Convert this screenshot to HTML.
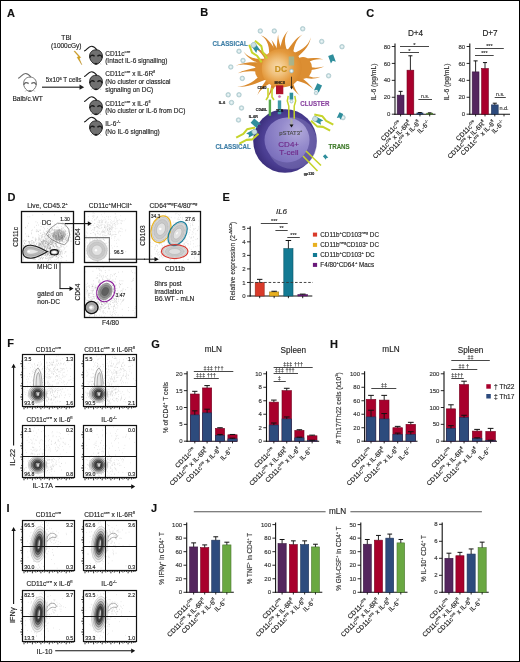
<!DOCTYPE html>
<html><head><meta charset="utf-8"><style>
html,body{margin:0;padding:0;background:#fff;}
body{width:520px;height:662px;overflow:hidden;}
svg{display:block;font-family:"Liberation Sans", sans-serif;filter:grayscale(0.001);}
</style></head><body>
<svg width="520" height="662" viewBox="0 0 520 662">
<rect x="0" y="0" width="520" height="662" fill="#fff"/>
<text x="7.0" y="17.2" font-size="11" text-anchor="start" font-weight="bold" font-style="normal" fill="#111" stroke="#111" stroke-width="0.14">A</text>
<text x="66.5" y="40.0" font-size="6.6" text-anchor="middle" font-weight="normal" font-style="normal" fill="#222" stroke="#222" stroke-width="0.14">TBI</text>
<text x="66.3" y="47.6" font-size="6.5" text-anchor="middle" font-weight="normal" font-style="normal" fill="#222" stroke="#222" stroke-width="0.14">(1000cGy)</text>
<polygon points="74,51.3 78.6,56.4 77.1,57.3 81.8,64.8 79.3,58.4 80.7,57.4 74.9,51.0" fill="#d8a418" stroke="#a87a10" stroke-width="0.35" stroke-linejoin="round"/>
<g transform="translate(16 71.3) scale(1.0)"><path d="M2,7 C4.5,7 6,2.2 9.5,2.2 C12,2.2 13.5,3.8 15,6" fill="none" stroke="#6a6a6a" stroke-width="1.1"/><path d="M10.5,18.6 L9,20.5 M17.5,18.6 L19,20.5" stroke="#c8c8c8" stroke-width="0.8"/><path d="M14,5.8 C18.2,5.8 20.4,8.8 20.4,12.2 C20.4,15.5 18.6,17.6 17,19 C16,19.8 15,20.1 14,20.1 C13,20.1 12,19.8 11,19 C9.4,17.6 7.6,15.5 7.6,12.2 C7.6,8.8 9.8,5.8 14,5.8 Z" fill="#ffffff" stroke="#6a6a6a" stroke-width="0.9"/><path d="M7.8,13.6 C8.2,11.2 10.6,10.6 12.6,12.3 M20.2,13.6 C19.8,11.2 17.4,10.6 15.4,12.3" fill="none" stroke="#6a6a6a" stroke-width="1.4"/><path d="M12.6,19.3 Q14,20.6 15.4,19.3" stroke="#6a6a6a" stroke-width="1.3" fill="none"/></g>
<text x="27.6" y="101.2" font-size="6.6" text-anchor="middle" font-weight="normal" font-style="normal" fill="#222" stroke="#222" stroke-width="0.14">Balb/c.WT</text>
<text x="45.8" y="82.4" font-size="6.3" text-anchor="start" font-weight="normal" font-style="normal" fill="#222" stroke="#222" stroke-width="0.14">5x10<tspan dy="-2.83" font-size="4.03">6</tspan><tspan dy="2.83" font-size="6.3">&#8203;</tspan> T cells</text>
<line x1="42.00" y1="87.20" x2="80.50" y2="87.20" stroke="#555" stroke-width="1.6" />
<polygon points="79.5,84.6 84.2,87.2 79.5,89.8" fill="#222"/>
<g transform="translate(82 44) scale(1.0)"><path d="M2,7 C4.5,7 6,2.2 9.5,2.2 C12,2.2 13.5,3.8 15,6" fill="none" stroke="#1a1a1a" stroke-width="1.1"/><path d="M10.5,18.6 L9,20.5 M17.5,18.6 L19,20.5" stroke="#c8c8c8" stroke-width="0.8"/><path d="M14,5.8 C18.2,5.8 20.4,8.8 20.4,12.2 C20.4,15.5 18.6,17.6 17,19 C16,19.8 15,20.1 14,20.1 C13,20.1 12,19.8 11,19 C9.4,17.6 7.6,15.5 7.6,12.2 C7.6,8.8 9.8,5.8 14,5.8 Z" fill="#707070" stroke="#1a1a1a" stroke-width="0.9"/><path d="M7.8,13.6 C8.2,11.2 10.6,10.6 12.6,12.3 M20.2,13.6 C19.8,11.2 17.4,10.6 15.4,12.3" fill="none" stroke="#1a1a1a" stroke-width="1.4"/><path d="M12.6,19.3 Q14,20.6 15.4,19.3" stroke="#1a1a1a" stroke-width="1.3" fill="none"/></g>
<g transform="translate(82 69.5) scale(1.0)"><path d="M2,7 C4.5,7 6,2.2 9.5,2.2 C12,2.2 13.5,3.8 15,6" fill="none" stroke="#1a1a1a" stroke-width="1.1"/><path d="M10.5,18.6 L9,20.5 M17.5,18.6 L19,20.5" stroke="#c8c8c8" stroke-width="0.8"/><path d="M14,5.8 C18.2,5.8 20.4,8.8 20.4,12.2 C20.4,15.5 18.6,17.6 17,19 C16,19.8 15,20.1 14,20.1 C13,20.1 12,19.8 11,19 C9.4,17.6 7.6,15.5 7.6,12.2 C7.6,8.8 9.8,5.8 14,5.8 Z" fill="#707070" stroke="#1a1a1a" stroke-width="0.9"/><path d="M7.8,13.6 C8.2,11.2 10.6,10.6 12.6,12.3 M20.2,13.6 C19.8,11.2 17.4,10.6 15.4,12.3" fill="none" stroke="#1a1a1a" stroke-width="1.4"/><path d="M12.6,19.3 Q14,20.6 15.4,19.3" stroke="#1a1a1a" stroke-width="1.3" fill="none"/></g>
<g transform="translate(82 94.5) scale(1.0)"><path d="M2,7 C4.5,7 6,2.2 9.5,2.2 C12,2.2 13.5,3.8 15,6" fill="none" stroke="#1a1a1a" stroke-width="1.1"/><path d="M10.5,18.6 L9,20.5 M17.5,18.6 L19,20.5" stroke="#c8c8c8" stroke-width="0.8"/><path d="M14,5.8 C18.2,5.8 20.4,8.8 20.4,12.2 C20.4,15.5 18.6,17.6 17,19 C16,19.8 15,20.1 14,20.1 C13,20.1 12,19.8 11,19 C9.4,17.6 7.6,15.5 7.6,12.2 C7.6,8.8 9.8,5.8 14,5.8 Z" fill="#707070" stroke="#1a1a1a" stroke-width="0.9"/><path d="M7.8,13.6 C8.2,11.2 10.6,10.6 12.6,12.3 M20.2,13.6 C19.8,11.2 17.4,10.6 15.4,12.3" fill="none" stroke="#1a1a1a" stroke-width="1.4"/><path d="M12.6,19.3 Q14,20.6 15.4,19.3" stroke="#1a1a1a" stroke-width="1.3" fill="none"/></g>
<g transform="translate(82 115) scale(1.0)"><path d="M2,7 C4.5,7 6,2.2 9.5,2.2 C12,2.2 13.5,3.8 15,6" fill="none" stroke="#1a1a1a" stroke-width="1.1"/><path d="M10.5,18.6 L9,20.5 M17.5,18.6 L19,20.5" stroke="#c8c8c8" stroke-width="0.8"/><path d="M14,5.8 C18.2,5.8 20.4,8.8 20.4,12.2 C20.4,15.5 18.6,17.6 17,19 C16,19.8 15,20.1 14,20.1 C13,20.1 12,19.8 11,19 C9.4,17.6 7.6,15.5 7.6,12.2 C7.6,8.8 9.8,5.8 14,5.8 Z" fill="#707070" stroke="#1a1a1a" stroke-width="0.9"/><path d="M7.8,13.6 C8.2,11.2 10.6,10.6 12.6,12.3 M20.2,13.6 C19.8,11.2 17.4,10.6 15.4,12.3" fill="none" stroke="#1a1a1a" stroke-width="1.4"/><path d="M12.6,19.3 Q14,20.6 15.4,19.3" stroke="#1a1a1a" stroke-width="1.3" fill="none"/></g>
<text x="105.2" y="55.7" font-size="6.5" text-anchor="start" font-weight="normal" font-style="normal" fill="#222" stroke="#222" stroke-width="0.14">CD11c<tspan dy="-2.93" font-size="4.16">cre</tspan><tspan dy="2.93" font-size="6.5">&#8203;</tspan></text>
<text x="105.2" y="62.9" font-size="6.5" text-anchor="start" font-weight="normal" font-style="normal" fill="#222" stroke="#222" stroke-width="0.14">(Intact IL-6 signalling)</text>
<text x="105.2" y="76.1" font-size="6.5" text-anchor="start" font-weight="normal" font-style="normal" fill="#222" stroke="#222" stroke-width="0.14">CD11c<tspan dy="-2.93" font-size="4.16">cre</tspan><tspan dy="2.93" font-size="6.5">&#8203;</tspan> x IL-6R<tspan dy="-2.93" font-size="4.16">fl</tspan><tspan dy="2.93" font-size="6.5">&#8203;</tspan></text>
<text x="105.2" y="83.9" font-size="6.5" text-anchor="start" font-weight="normal" font-style="normal" fill="#222" stroke="#222" stroke-width="0.14">(No cluster or classical</text>
<text x="105.2" y="91.7" font-size="6.5" text-anchor="start" font-weight="normal" font-style="normal" fill="#222" stroke="#222" stroke-width="0.14">signaling on DC)</text>
<text x="105.2" y="105.5" font-size="6.5" text-anchor="start" font-weight="normal" font-style="normal" fill="#222" stroke="#222" stroke-width="0.14">CD11c<tspan dy="-2.93" font-size="4.16">cre</tspan><tspan dy="2.93" font-size="6.5">&#8203;</tspan> x IL-6<tspan dy="-2.93" font-size="4.16">fl</tspan><tspan dy="2.93" font-size="6.5">&#8203;</tspan></text>
<text x="105.2" y="112.9" font-size="6.5" text-anchor="start" font-weight="normal" font-style="normal" fill="#222" stroke="#222" stroke-width="0.14">(No cluster or IL-6 from DC)</text>
<text x="105.2" y="126.4" font-size="6.5" text-anchor="start" font-weight="normal" font-style="normal" fill="#222" stroke="#222" stroke-width="0.14">IL-6<tspan dy="-2.93" font-size="4.16">-/-</tspan><tspan dy="2.93" font-size="6.5">&#8203;</tspan></text>
<text x="105.2" y="134.0" font-size="6.5" text-anchor="start" font-weight="normal" font-style="normal" fill="#222" stroke="#222" stroke-width="0.14">(No IL-6 signalling)</text>
<text x="200.3" y="16.4" font-size="11" text-anchor="start" font-weight="bold" font-style="normal" fill="#111" stroke="#111" stroke-width="0.14">B</text>
<defs>
<radialGradient id="dcg" cx="0.4" cy="0.48" r="0.6"><stop offset="0" stop-color="#f8dcb0"/><stop offset="0.35" stop-color="#f0c07a"/><stop offset="0.7" stop-color="#e49a3e"/><stop offset="1" stop-color="#d98a2e"/></radialGradient>
<radialGradient id="tcg" cx="0.55" cy="0.5" r="0.55"><stop offset="0" stop-color="#6a5eb0"/><stop offset="0.75" stop-color="#4b3e92"/><stop offset="1" stop-color="#3a2d7a"/></radialGradient>
<radialGradient id="tng" cx="0.72" cy="0.3" r="0.9"><stop offset="0" stop-color="#b4acdc"/><stop offset="0.4" stop-color="#958bcc"/><stop offset="1" stop-color="#7468b8"/></radialGradient>
</defs>
<ellipse cx="285" cy="141" rx="31.8" ry="31.8" fill="url(#tcg)"/>
<ellipse cx="292" cy="143" rx="25" ry="26" fill="#8e88c0" opacity="0.4"/>
<circle cx="287" cy="140" r="22.5" fill="url(#tng)"/>
<path d="M266.3,62.2 C255.5,62.4 244.9,60.9 235.5,65.8 C244.8,62.5 255.4,65.6 265.8,72.4 Z" fill="#d98a2e"/>
<path d="M269.1,57.9 C258.3,59.9 248.8,58.8 243.5,51.5 C248.3,60.0 257.1,62.4 265.5,66.1 Z" fill="#d98a2e"/>
<path d="M265.6,65.7 C255.8,68.1 245.9,68.8 237.8,73.3 C246.0,70.1 256.2,70.6 266.6,74.0 Z" fill="#d98a2e"/>
<path d="M265.3,69.4 C257.3,79.6 247.8,86.6 237.2,86.6 C248.4,88.0 258.4,82.4 269.1,78.3 Z" fill="#d98a2e"/>
<path d="M268.3,76.8 C264.5,83.3 259.5,88.7 257.4,95.2 C260.4,89.5 266.3,84.8 274.1,81.8 Z" fill="#d98a2e"/>
<path d="M277.2,52.7 C272.5,46.0 269.1,38.3 260.8,35.2 C267.9,39.1 269.9,47.5 269.0,57.7 Z" fill="#d98a2e"/>
<path d="M279.7,52.6 C276.3,48.2 274.6,43.3 271.2,39.8 C273.5,43.7 274.1,49.0 272.4,55.1 Z" fill="#d98a2e"/>
<path d="M283.8,52.7 C279.9,46.5 278.3,40.2 278.1,34.6 C277.0,40.3 277.3,46.8 275.6,53.4 Z" fill="#d98a2e"/>
<path d="M288.7,54.2 C284.3,45.1 283.3,36.6 288.5,30.6 C281.9,36.4 281.3,44.5 279.2,52.3 Z" fill="#d98a2e"/>
<path d="M292.9,57.8 C293.1,47.6 295.9,39.1 302.5,34.4 C294.7,38.3 290.7,46.1 285.3,53.0 Z" fill="#d98a2e"/>
<path d="M294.2,59.9 C301.5,53.4 309.4,47.6 310.8,37.3 C308.6,46.7 299.8,51.7 288.7,54.6 Z" fill="#d98a2e"/>
<path d="M296.7,69.8 C305.2,62.1 314.3,57.8 323.3,59.5 C314.0,56.3 304.6,59.2 294.8,60.3 Z" fill="#d98a2e"/>
<path d="M296.1,72.0 C306.0,70.2 315.9,70.3 324.2,66.5 C315.8,68.9 305.9,67.4 295.8,63.0 Z" fill="#d98a2e"/>
<path d="M294.7,75.6 C303.3,77.5 311.7,80.8 320.4,76.8 C312.0,79.4 303.9,74.8 296.6,66.9 Z" fill="#d98a2e"/>
<path d="M291.2,79.7 C300.6,80.8 308.5,84.1 313.5,89.5 C309.2,83.0 302.0,78.6 295.8,72.8 Z" fill="#d98a2e"/>
<path d="M286.9,82.1 C291.6,87.0 295.2,92.7 300.5,96.0 C296.1,92.1 293.3,85.9 292.2,78.5 Z" fill="#d98a2e"/>
<path d="M271.5,80.0 C271.6,87.5 269.8,94.0 266.0,98.5 C270.7,94.4 273.4,88.4 277.3,82.9 Z" fill="#d98a2e"/>
<path d="M270.2,57.1 C263.7,52.1 257.7,46.5 249.0,47.0 C257.1,47.4 262.6,53.8 266.7,62.4 Z" fill="#d98a2e"/>
<ellipse cx="303" cy="68" rx="9" ry="11" fill="#dc8e32"/>
<ellipse cx="262" cy="70" rx="7" ry="10" fill="#dc8e32"/>
<path d="M281,49 C290,48 297,52 300,59 C303,66 302,75 297,81 C292,87 284,88 277,87 C269,85.5 263,80 262,72 C261,63 264,56 270,52 C273,50 277,49 281,49 Z" fill="url(#dcg)"/>
<text x="281" y="71.6" font-size="8.5" text-anchor="middle" font-weight="bold" font-style="normal" fill="#c8901e" stroke="#c8901e" stroke-width="0.14">DC</text>
<circle cx="260.3" cy="31" r="2.3" fill="#c9dfe2" stroke="#8fb3b8" stroke-width="0.5"/><circle cx="260.3" cy="31" r="1.035" fill="#eef6f7"/>
<circle cx="274.3" cy="31" r="2.3" fill="#c9dfe2" stroke="#8fb3b8" stroke-width="0.5"/><circle cx="274.3" cy="31" r="1.035" fill="#eef6f7"/>
<circle cx="302.7" cy="28.8" r="2.3" fill="#c9dfe2" stroke="#8fb3b8" stroke-width="0.5"/><circle cx="302.7" cy="28.8" r="1.035" fill="#eef6f7"/>
<circle cx="321.7" cy="41.5" r="2.3" fill="#c9dfe2" stroke="#8fb3b8" stroke-width="0.5"/><circle cx="321.7" cy="41.5" r="1.035" fill="#eef6f7"/>
<circle cx="342" cy="46.7" r="2.3" fill="#c9dfe2" stroke="#8fb3b8" stroke-width="0.5"/><circle cx="342" cy="46.7" r="1.035" fill="#eef6f7"/>
<circle cx="239" cy="51.3" r="2.3" fill="#c9dfe2" stroke="#8fb3b8" stroke-width="0.5"/><circle cx="239" cy="51.3" r="1.035" fill="#eef6f7"/>
<circle cx="243" cy="60.5" r="2.3" fill="#c9dfe2" stroke="#8fb3b8" stroke-width="0.5"/><circle cx="243" cy="60.5" r="1.035" fill="#eef6f7"/>
<circle cx="230.8" cy="67" r="2.3" fill="#c9dfe2" stroke="#8fb3b8" stroke-width="0.5"/><circle cx="230.8" cy="67" r="1.035" fill="#eef6f7"/>
<circle cx="242.3" cy="78.4" r="2.3" fill="#c9dfe2" stroke="#8fb3b8" stroke-width="0.5"/><circle cx="242.3" cy="78.4" r="1.035" fill="#eef6f7"/>
<circle cx="228.2" cy="94.8" r="2.3" fill="#c9dfe2" stroke="#8fb3b8" stroke-width="0.5"/><circle cx="228.2" cy="94.8" r="1.035" fill="#eef6f7"/>
<circle cx="239" cy="94.8" r="2.3" fill="#c9dfe2" stroke="#8fb3b8" stroke-width="0.5"/><circle cx="239" cy="94.8" r="1.035" fill="#eef6f7"/>
<circle cx="231.5" cy="102.6" r="2.3" fill="#c9dfe2" stroke="#8fb3b8" stroke-width="0.5"/><circle cx="231.5" cy="102.6" r="1.035" fill="#eef6f7"/>
<circle cx="328.6" cy="75.8" r="2.3" fill="#c9dfe2" stroke="#8fb3b8" stroke-width="0.5"/><circle cx="328.6" cy="75.8" r="1.035" fill="#eef6f7"/>
<circle cx="343" cy="117.6" r="2.3" fill="#c9dfe2" stroke="#8fb3b8" stroke-width="0.5"/><circle cx="343" cy="117.6" r="1.035" fill="#eef6f7"/>
<circle cx="241.5" cy="108" r="2.3" fill="#c9dfe2" stroke="#8fb3b8" stroke-width="0.5"/><circle cx="241.5" cy="108" r="1.035" fill="#eef6f7"/>
<circle cx="238.5" cy="120" r="2.3" fill="#c9dfe2" stroke="#8fb3b8" stroke-width="0.5"/><circle cx="238.5" cy="120" r="1.035" fill="#eef6f7"/>
<text x="212.5" y="45.6" font-size="7.2" text-anchor="start" font-weight="bold" font-style="normal" fill="#3d7ea6" stroke="#3d7ea6" stroke-width="0.14" transform="translate(212.5 45.6) scale(0.86 1) translate(-212.5 -45.6)">CLASSICAL</text>
<text x="215.4" y="149.4" font-size="7.2" text-anchor="start" font-weight="bold" font-style="normal" fill="#3d7ea6" stroke="#3d7ea6" stroke-width="0.14" transform="translate(215.4 149.4) scale(0.86 1) translate(-215.4 -149.4)">CLASSICAL</text>
<text x="328.4" y="149.4" font-size="7.2" text-anchor="start" font-weight="bold" font-style="normal" fill="#3f7a2a" stroke="#3f7a2a" stroke-width="0.14" transform="translate(328.4 149.4) scale(0.86 1) translate(-328.4 -149.4)">TRANS</text>
<text x="300.2" y="106.0" font-size="7.2" text-anchor="start" font-weight="bold" font-style="normal" fill="#8a44a0" stroke="#8a44a0" stroke-width="0.14" transform="translate(300.2 106.0) scale(0.86 1) translate(-300.2 -106.0)">CLUSTER</text>
<text x="288.7" y="146.7" font-size="8" text-anchor="middle" font-weight="normal" font-style="normal" fill="#6e2688" stroke="#6e2688" stroke-width="0.14">CD4+</text>
<text x="288.9" y="154.8" font-size="8" text-anchor="middle" font-weight="normal" font-style="normal" fill="#6e2688" stroke="#6e2688" stroke-width="0.14">T-cell</text>
<text x="290.7" y="134.6" font-size="5.9" text-anchor="middle" font-weight="normal" font-style="normal" fill="#4a4a4a" stroke="#4a4a4a" stroke-width="0.14">pSTAT3<tspan dy="-2.66" font-size="3.78">+</tspan><tspan dy="2.66" font-size="5.9">&#8203;</tspan></text>
<g transform="translate(257.5 50.5) rotate(-35) scale(1.35)"><path d="M-1.8,-6 L1.8,-6 L1.8,1 L0,-0.5 L-1.8,1 Z" fill="#2f8e9c"/><circle cx="0" cy="-5" r="1.9" fill="#c9dfe2" stroke="#8fb3b8" stroke-width="0.4"/><path d="M-2.5,9 L-2.5,3 L-4.2,-1 L-2.6,-7 M2.5,9 L2.5,3 L4.2,-1 L2.6,-7" fill="none" stroke="#c6d42a" stroke-width="1.5" stroke-linejoin="round"/></g>
<g transform="translate(248.5 135) rotate(62) scale(1.35)"><path d="M-1.8,-6 L1.8,-6 L1.8,1 L0,-0.5 L-1.8,1 Z" fill="#2f8e9c"/><circle cx="0" cy="-5" r="1.9" fill="#c9dfe2" stroke="#8fb3b8" stroke-width="0.4"/><path d="M-2.5,9 L-2.5,3 L-4.2,-1 L-2.6,-7 M2.5,9 L2.5,3 L4.2,-1 L2.6,-7" fill="none" stroke="#c6d42a" stroke-width="1.5" stroke-linejoin="round"/></g>
<g transform="translate(321 122) rotate(-62) scale(1.35)"><path d="M-1.8,-6 L1.8,-6 L1.8,1 L0,-0.5 L-1.8,1 Z" fill="#2f8e9c"/><circle cx="0" cy="-5" r="1.9" fill="#c9dfe2" stroke="#8fb3b8" stroke-width="0.4"/><path d="M-2.5,9 L-2.5,3 L-4.2,-1 L-2.6,-7 M2.5,9 L2.5,3 L4.2,-1 L2.6,-7" fill="none" stroke="#c6d42a" stroke-width="1.5" stroke-linejoin="round"/></g>
<path d="M306,151 L321,165.5 M303,156 L317.5,171" stroke="#c6d42a" stroke-width="1.6" fill="none"/>
<g transform="translate(332 58.8) rotate(-20) scale(1.0)"><path d="M-2.6,-4 L2.6,-4 L2.6,4 L0,2 L-2.6,4 Z" fill="#2f8e9c"/></g>
<g transform="translate(318 88) rotate(25) scale(1.0)"><path d="M-2.6,-4 L2.6,-4 L2.6,4 L0,2 L-2.6,4 Z" fill="#2f8e9c"/></g>
<circle cx="316" cy="93" r="1.8" fill="#c9dfe2" stroke="#8fb3b8" stroke-width="0.5"/><circle cx="316" cy="93" r="0.81" fill="#eef6f7"/>
<g transform="translate(340 116) rotate(25) scale(0.8)"><path d="M-2.6,-4 L2.6,-4 L2.6,4 L0,2 L-2.6,4 Z" fill="#2f8e9c"/></g>
<g transform="translate(325.6 157) rotate(-40) scale(0.6)"><path d="M-2.6,-4 L2.6,-4 L2.6,4 L0,2 L-2.6,4 Z" fill="#2f8e9c"/></g>
<g transform="translate(255.8 123.5) rotate(-50) scale(1.1)"><path d="M-2.6,-4 L2.6,-4 L2.6,4 L0,2 L-2.6,4 Z" fill="#2f8e9c"/></g>
<rect x="288.7" y="56.5" width="5.5" height="9" fill="#9ab89a" opacity="0.8"/>
<circle cx="291.5" cy="71" r="2.0" fill="#c9dfe2" stroke="#8fb3b8" stroke-width="0.5"/><circle cx="291.5" cy="71" r="0.9" fill="#eef6f7"/>
<line x1="291.50" y1="76.70" x2="291.50" y2="87.50" stroke="#111" stroke-width="0.7" />
<polygon points="290,86.5 293,86.5 291.5,89.5" fill="#111"/>
<rect x="276" y="85.4" width="7.3" height="8.8" fill="#b0102a"/>
<circle cx="279.5" cy="96.5" r="1.6" fill="#d070b0" stroke="#fff" stroke-width="0.4"/>
<rect x="277.8" y="100.4" width="3.4" height="13.8" fill="#3f9aa8"/>
<path d="M268,88 L268,97 L266,100 M272,88 L272,97 L274,100" stroke="#c6d42a" stroke-width="1.6" fill="none"/>
<rect x="268.7" y="99.6" width="2.4" height="16.2" fill="#58a84a"/>
<rect x="289.6" y="92.7" width="3.6" height="6.9" fill="#2f8e9c"/>
<path d="M288.2,95.8 L287.3,101 L288.8,106 L288.8,118.8 M294.8,95.8 L295.7,101 L294.2,106 L294.2,118.8" stroke="#c6d42a" stroke-width="1.5" fill="none"/>
<circle cx="291.5" cy="101.5" r="1.6" fill="#c9dfe2" stroke="#8fb3b8" stroke-width="0.5"/><circle cx="291.5" cy="101.5" r="0.7200000000000001" fill="#eef6f7"/>
<rect x="290.4" y="119" width="2.2" height="6" fill="#aaa"/>
<polygon points="289.5,124.5 293.5,124.5 291.5,127.5" fill="#111"/>
<text x="279.6" y="84" font-size="3.6" text-anchor="middle" font-weight="bold" font-style="normal" fill="#111" stroke="#111" stroke-width="0.14">MHCII</text>
<text x="262" y="88.6" font-size="3.6" text-anchor="middle" font-weight="bold" font-style="normal" fill="#111" stroke="#111" stroke-width="0.14">CD40</text>
<text x="261.5" y="110.8" font-size="3.6" text-anchor="middle" font-weight="bold" font-style="normal" fill="#111" stroke="#111" stroke-width="0.14">CD40L</text>
<text x="253.3" y="117.9" font-size="3.6" text-anchor="middle" font-weight="bold" font-style="normal" fill="#111" stroke="#111" stroke-width="0.14">IL-6R</text>
<text x="222" y="104.2" font-size="3.6" text-anchor="middle" font-weight="bold" font-style="normal" fill="#111" stroke="#111" stroke-width="0.14">IL-6</text>
<text x="309" y="175" font-size="3.6" text-anchor="middle" font-weight="bold" font-style="normal" fill="#111" stroke="#111" stroke-width="0.14">gp130</text>
<text x="279.6" y="112" font-size="3.6" text-anchor="middle" font-weight="bold" font-style="normal" fill="#111" stroke="#111" stroke-width="0.14">TCR</text>
<text x="366.3" y="17.4" font-size="11" text-anchor="start" font-weight="bold" font-style="normal" fill="#111" stroke="#111" stroke-width="0.14">C</text>
<text x="415.5" y="36.4" font-size="8.2" text-anchor="middle" font-weight="normal" font-style="normal" fill="#222" stroke="#222" stroke-width="0.14">D+4</text>
<line x1="395.00" y1="43.50" x2="395.00" y2="114.75" stroke="#111" stroke-width="1.1" />
<line x1="394.45" y1="114.20" x2="435.50" y2="114.20" stroke="#111" stroke-width="1.1" />
<line x1="391.80" y1="114.20" x2="395.00" y2="114.20" stroke="#111" stroke-width="0.9" />
<text x="390.4" y="116.3" font-size="6.0" text-anchor="end" font-weight="normal" font-style="normal" fill="#333" stroke="#333" stroke-width="0.14">0</text>
<line x1="391.80" y1="97.28" x2="395.00" y2="97.28" stroke="#111" stroke-width="0.9" />
<text x="390.4" y="99.375" font-size="6.0" text-anchor="end" font-weight="normal" font-style="normal" fill="#333" stroke="#333" stroke-width="0.14">20</text>
<line x1="391.80" y1="80.35" x2="395.00" y2="80.35" stroke="#111" stroke-width="0.9" />
<text x="390.4" y="82.44999999999999" font-size="6.0" text-anchor="end" font-weight="normal" font-style="normal" fill="#333" stroke="#333" stroke-width="0.14">40</text>
<line x1="391.80" y1="63.42" x2="395.00" y2="63.42" stroke="#111" stroke-width="0.9" />
<text x="390.4" y="65.52499999999999" font-size="6.0" text-anchor="end" font-weight="normal" font-style="normal" fill="#333" stroke="#333" stroke-width="0.14">60</text>
<line x1="391.80" y1="46.50" x2="395.00" y2="46.50" stroke="#111" stroke-width="0.9" />
<text x="390.4" y="48.6" font-size="6.0" text-anchor="end" font-weight="normal" font-style="normal" fill="#333" stroke="#333" stroke-width="0.14">80</text>
<rect x="397.20" y="95.16" width="6.80" height="19.04" fill="#54265e" stroke="#3a1a41" stroke-width="0.6" />
<line x1="400.60" y1="95.16" x2="400.60" y2="91.35" stroke="#111" stroke-width="0.9" />
<line x1="398.56" y1="91.35" x2="402.64" y2="91.35" stroke="#111" stroke-width="1.0" />
<line x1="400.60" y1="114.20" x2="400.60" y2="116.40" stroke="#111" stroke-width="0.9" />
<rect x="407.00" y="70.19" width="6.80" height="44.01" fill="#a8002c" stroke="#75001e" stroke-width="0.6" />
<line x1="410.40" y1="70.19" x2="410.40" y2="55.81" stroke="#111" stroke-width="0.9" />
<line x1="408.36" y1="55.81" x2="412.44" y2="55.81" stroke="#111" stroke-width="1.0" />
<line x1="410.40" y1="114.20" x2="410.40" y2="116.40" stroke="#111" stroke-width="0.9" />
<rect x="416.90" y="112.93" width="6.10" height="1.27" fill="#2d4b7d" stroke="#1f3457" stroke-width="0.6" />
<line x1="419.95" y1="112.93" x2="419.95" y2="112.51" stroke="#111" stroke-width="0.9" />
<line x1="418.12" y1="112.51" x2="421.78" y2="112.51" stroke="#111" stroke-width="1.0" />
<line x1="419.95" y1="114.20" x2="419.95" y2="116.40" stroke="#111" stroke-width="0.9" />
<rect x="426.70" y="113.18" width="6.00" height="1.02" fill="#6aa842" stroke="#4a752e" stroke-width="0.6" />
<line x1="429.70" y1="113.18" x2="429.70" y2="112.85" stroke="#111" stroke-width="0.9" />
<line x1="427.90" y1="112.85" x2="431.50" y2="112.85" stroke="#111" stroke-width="1.0" />
<line x1="429.70" y1="114.20" x2="429.70" y2="116.40" stroke="#111" stroke-width="0.9" />
<text x="401.6" y="123.2" font-size="6.6" text-anchor="end" font-weight="normal" font-style="normal" fill="#222" stroke="#222" stroke-width="0.14" transform="rotate(-45 401.6 123.2)">CD11c<tspan dy="-2.97" font-size="4.22">cre</tspan><tspan dy="2.97" font-size="6.6">&#8203;</tspan></text>
<text x="411.4" y="123.2" font-size="6.6" text-anchor="end" font-weight="normal" font-style="normal" fill="#222" stroke="#222" stroke-width="0.14" transform="rotate(-45 411.4 123.2)">CD11c<tspan dy="-2.97" font-size="4.22">cre</tspan><tspan dy="2.97" font-size="6.6">&#8203;</tspan> x IL-6R<tspan dy="-2.97" font-size="4.22">fl</tspan><tspan dy="2.97" font-size="6.6">&#8203;</tspan></text>
<text x="420.95" y="123.2" font-size="6.6" text-anchor="end" font-weight="normal" font-style="normal" fill="#222" stroke="#222" stroke-width="0.14" transform="rotate(-45 420.95 123.2)">CD11c<tspan dy="-2.97" font-size="4.22">cre</tspan><tspan dy="2.97" font-size="6.6">&#8203;</tspan> x IL-6<tspan dy="-2.97" font-size="4.22">fl</tspan><tspan dy="2.97" font-size="6.6">&#8203;</tspan></text>
<text x="430.7" y="123.2" font-size="6.6" text-anchor="end" font-weight="normal" font-style="normal" fill="#222" stroke="#222" stroke-width="0.14" transform="rotate(-45 430.7 123.2)">IL-6<tspan dy="-2.97" font-size="4.22">-/-</tspan><tspan dy="2.97" font-size="6.6">&#8203;</tspan></text>
<text x="376.3" y="82.0" font-size="6.8" text-anchor="middle" font-weight="normal" font-style="normal" fill="#333" stroke="#333" stroke-width="0.14" transform="rotate(-90 376.3 82.0)">IL-6 (pg/mL)</text>
<line x1="400.00" y1="46.50" x2="429.00" y2="46.50" stroke="#333" stroke-width="0.9" />
<text x="414.5" y="46.7" font-size="6" text-anchor="middle" font-weight="normal" font-style="normal" fill="#333" stroke="#333" stroke-width="0.14">*</text>
<line x1="400.00" y1="52.50" x2="419.00" y2="52.50" stroke="#333" stroke-width="0.9" />
<text x="409.5" y="52.7" font-size="6" text-anchor="middle" font-weight="normal" font-style="normal" fill="#333" stroke="#333" stroke-width="0.14">*</text>
<line x1="418.40" y1="99.50" x2="432.00" y2="99.50" stroke="#333" stroke-width="0.9" />
<text x="425.2" y="97.5" font-size="5.2" text-anchor="middle" font-weight="normal" font-style="normal" fill="#333" stroke="#333" stroke-width="0.14">n.s.</text>
<text x="490" y="36.4" font-size="8.2" text-anchor="middle" font-weight="normal" font-style="normal" fill="#222" stroke="#222" stroke-width="0.14">D+7</text>
<line x1="469.80" y1="43.50" x2="469.80" y2="114.75" stroke="#111" stroke-width="1.1" />
<line x1="469.25" y1="114.20" x2="510.00" y2="114.20" stroke="#111" stroke-width="1.1" />
<line x1="466.60" y1="114.20" x2="469.80" y2="114.20" stroke="#111" stroke-width="0.9" />
<text x="465.2" y="116.3" font-size="6.0" text-anchor="end" font-weight="normal" font-style="normal" fill="#333" stroke="#333" stroke-width="0.14">0</text>
<line x1="466.60" y1="97.28" x2="469.80" y2="97.28" stroke="#111" stroke-width="0.9" />
<text x="465.2" y="99.375" font-size="6.0" text-anchor="end" font-weight="normal" font-style="normal" fill="#333" stroke="#333" stroke-width="0.14">20</text>
<line x1="466.60" y1="80.35" x2="469.80" y2="80.35" stroke="#111" stroke-width="0.9" />
<text x="465.2" y="82.44999999999999" font-size="6.0" text-anchor="end" font-weight="normal" font-style="normal" fill="#333" stroke="#333" stroke-width="0.14">40</text>
<line x1="466.60" y1="63.42" x2="469.80" y2="63.42" stroke="#111" stroke-width="0.9" />
<text x="465.2" y="65.52499999999999" font-size="6.0" text-anchor="end" font-weight="normal" font-style="normal" fill="#333" stroke="#333" stroke-width="0.14">60</text>
<line x1="466.60" y1="46.50" x2="469.80" y2="46.50" stroke="#111" stroke-width="0.9" />
<text x="465.2" y="48.6" font-size="6.0" text-anchor="end" font-weight="normal" font-style="normal" fill="#333" stroke="#333" stroke-width="0.14">80</text>
<rect x="472.20" y="71.89" width="6.80" height="42.31" fill="#54265e" stroke="#3a1a41" stroke-width="0.6" />
<line x1="475.60" y1="71.89" x2="475.60" y2="60.89" stroke="#111" stroke-width="0.9" />
<line x1="473.56" y1="60.89" x2="477.64" y2="60.89" stroke="#111" stroke-width="1.0" />
<line x1="475.60" y1="114.20" x2="475.60" y2="116.40" stroke="#111" stroke-width="0.9" />
<rect x="481.60" y="68.50" width="6.80" height="45.70" fill="#a8002c" stroke="#75001e" stroke-width="0.6" />
<line x1="485.00" y1="68.50" x2="485.00" y2="62.58" stroke="#111" stroke-width="0.9" />
<line x1="482.96" y1="62.58" x2="487.04" y2="62.58" stroke="#111" stroke-width="1.0" />
<line x1="485.00" y1="114.20" x2="485.00" y2="116.40" stroke="#111" stroke-width="0.9" />
<rect x="491.40" y="104.89" width="6.80" height="9.31" fill="#2d4b7d" stroke="#1f3457" stroke-width="0.6" />
<line x1="494.80" y1="104.89" x2="494.80" y2="103.20" stroke="#111" stroke-width="0.9" />
<line x1="492.76" y1="103.20" x2="496.84" y2="103.20" stroke="#111" stroke-width="1.0" />
<line x1="494.80" y1="114.20" x2="494.80" y2="116.40" stroke="#111" stroke-width="0.9" />
<rect x="501.00" y="114.20" width="6.00" height="0.00" fill="#ffffff" stroke="#b2b2b2" stroke-width="0.6" />
<line x1="504.00" y1="114.20" x2="504.00" y2="116.40" stroke="#111" stroke-width="0.9" />
<text x="476.6" y="123.2" font-size="6.6" text-anchor="end" font-weight="normal" font-style="normal" fill="#222" stroke="#222" stroke-width="0.14" transform="rotate(-45 476.6 123.2)">CD11c<tspan dy="-2.97" font-size="4.22">cre</tspan><tspan dy="2.97" font-size="6.6">&#8203;</tspan></text>
<text x="486.0" y="123.2" font-size="6.6" text-anchor="end" font-weight="normal" font-style="normal" fill="#222" stroke="#222" stroke-width="0.14" transform="rotate(-45 486.0 123.2)">CD11c<tspan dy="-2.97" font-size="4.22">cre</tspan><tspan dy="2.97" font-size="6.6">&#8203;</tspan> x IL-6R<tspan dy="-2.97" font-size="4.22">fl</tspan><tspan dy="2.97" font-size="6.6">&#8203;</tspan></text>
<text x="495.79999999999995" y="123.2" font-size="6.6" text-anchor="end" font-weight="normal" font-style="normal" fill="#222" stroke="#222" stroke-width="0.14" transform="rotate(-45 495.79999999999995 123.2)">CD11c<tspan dy="-2.97" font-size="4.22">cre</tspan><tspan dy="2.97" font-size="6.6">&#8203;</tspan> x IL-6<tspan dy="-2.97" font-size="4.22">fl</tspan><tspan dy="2.97" font-size="6.6">&#8203;</tspan></text>
<text x="505.0" y="123.2" font-size="6.6" text-anchor="end" font-weight="normal" font-style="normal" fill="#222" stroke="#222" stroke-width="0.14" transform="rotate(-45 505.0 123.2)">IL-6<tspan dy="-2.97" font-size="4.22">-/-</tspan><tspan dy="2.97" font-size="6.6">&#8203;</tspan></text>
<text x="449.3" y="82.0" font-size="6.8" text-anchor="middle" font-weight="normal" font-style="normal" fill="#333" stroke="#333" stroke-width="0.14" transform="rotate(-90 449.3 82.0)">IL-6 (pg/mL)</text>
<line x1="475.00" y1="48.50" x2="503.80" y2="48.50" stroke="#333" stroke-width="0.9" />
<text x="489.4" y="48.2" font-size="5.5" text-anchor="middle" font-weight="normal" font-style="normal" fill="#333" stroke="#333" stroke-width="0.14">***</text>
<line x1="475.00" y1="55.50" x2="493.70" y2="55.50" stroke="#333" stroke-width="0.9" />
<text x="484.35" y="55.2" font-size="5.5" text-anchor="middle" font-weight="normal" font-style="normal" fill="#333" stroke="#333" stroke-width="0.14">***</text>
<line x1="494.70" y1="97.50" x2="505.80" y2="97.50" stroke="#333" stroke-width="0.9" />
<text x="500.25" y="95.5" font-size="5.2" text-anchor="middle" font-weight="normal" font-style="normal" fill="#333" stroke="#333" stroke-width="0.14">n.s.</text>
<text x="504" y="109.8" font-size="5.5" text-anchor="middle" font-weight="normal" font-style="normal" fill="#333" stroke="#333" stroke-width="0.14">n.d.</text>
<text x="7.4" y="200.8" font-size="11" text-anchor="start" font-weight="bold" font-style="normal" fill="#111" stroke="#111" stroke-width="0.14">D</text>
<text x="47.5" y="208.0" font-size="6.6" text-anchor="middle" font-weight="normal" font-style="normal" fill="#222" stroke="#222" stroke-width="0.14">Live, CD45.2<tspan dy="-2.97" font-size="4.22">+</tspan><tspan dy="2.97" font-size="6.6">&#8203;</tspan></text>
<text x="110.4" y="208.0" font-size="6.6" text-anchor="middle" font-weight="normal" font-style="normal" fill="#222" stroke="#222" stroke-width="0.14">CD11c<tspan dy="-2.97" font-size="4.22">+</tspan><tspan dy="2.97" font-size="6.6">&#8203;</tspan>MHCII<tspan dy="-2.97" font-size="4.22">+</tspan><tspan dy="2.97" font-size="6.6">&#8203;</tspan></text>
<text x="173.5" y="208.0" font-size="6.6" text-anchor="middle" font-weight="normal" font-style="normal" fill="#222" stroke="#222" stroke-width="0.14">CD64<tspan dy="-2.97" font-size="4.22">neg</tspan><tspan dy="2.97" font-size="6.6">&#8203;</tspan>F4/80<tspan dy="-2.97" font-size="4.22">neg</tspan><tspan dy="2.97" font-size="6.6">&#8203;</tspan></text>
<path d="M57.8 238.3h.5M58.0 234.6h.5M54.8 235.0h.5M64.0 237.9h.5M63.7 237.1h.5M60.8 236.8h.5M51.5 239.8h.5M61.3 238.2h.5M51.4 228.2h.5M55.0 233.9h.5M60.4 235.8h.5M61.3 233.1h.5M60.4 237.8h.5M56.0 243.7h.5M61.5 241.4h.5M56.2 232.7h.5M57.5 235.5h.5M61.8 237.1h.5M57.0 231.7h.5M56.7 241.5h.5M55.4 237.1h.5M60.9 229.3h.5M59.2 241.9h.5M49.9 234.6h.5M58.5 232.3h.5M61.2 235.7h.5M52.4 239.7h.5M62.0 240.3h.5M65.5 237.6h.5M59.5 230.2h.5M61.8 233.2h.5M57.0 230.3h.5M54.6 233.6h.5M64.8 226.9h.5M52.4 237.1h.5M65.5 238.6h.5M50.5 224.7h.5M60.6 232.7h.5M54.0 240.4h.5M64.0 236.7h.5M60.1 238.0h.5M66.2 238.8h.5M61.3 238.5h.5M51.9 241.8h.5M63.3 238.4h.5M50.1 233.1h.5M62.8 227.8h.5M58.2 240.6h.5M53.1 243.2h.5M61.5 235.3h.5M60.5 238.9h.5M59.5 241.2h.5M56.0 234.1h.5M63.7 236.1h.5M55.0 240.3h.5M65.6 234.0h.5M52.8 235.4h.5M58.3 234.7h.5M65.3 231.4h.5M64.7 230.3h.5M55.5 238.8h.5M64.1 239.9h.5M60.6 236.6h.5M59.7 238.6h.5M58.2 237.2h.5M61.6 236.0h.5M62.4 238.5h.5M68.0 237.5h.5M57.1 234.3h.5M58.9 240.2h.5M57.5 237.7h.5M67.3 224.5h.5M53.9 237.1h.5M60.8 237.1h.5M57.1 238.9h.5M60.3 233.7h.5M69.9 237.6h.5M56.5 235.6h.5M58.0 235.7h.5M46.7 233.8h.5M63.5 230.7h.5M58.7 240.3h.5M62.9 242.7h.5M51.3 234.4h.5M57.5 238.8h.5M63.9 223.9h.5M63.9 229.5h.5M62.1 229.3h.5M59.8 241.4h.5M58.3 236.9h.5M62.6 236.6h.5M58.6 242.9h.5M63.7 234.7h.5M71.4 230.8h.5M63.1 234.8h.5M59.6 239.2h.5M60.0 238.9h.5M52.1 229.2h.5M61.8 231.7h.5M54.4 229.4h.5M64.7 239.4h.5M65.6 231.8h.5M59.0 230.9h.5M62.4 243.2h.5M55.0 243.0h.5M63.4 235.2h.5M50.1 242.3h.5M58.6 233.3h.5M60.8 237.8h.5M65.7 231.4h.5M64.1 242.7h.5M65.5 235.2h.5M55.7 240.6h.5M59.5 236.6h.5M65.4 234.8h.5M48.7 234.3h.5M50.7 239.7h.5M60.4 233.2h.5M59.0 239.7h.5M59.4 242.0h.5M58.7 240.7h.5M65.7 243.2h.5M56.0 240.0h.5M50.6 231.1h.5M50.2 240.8h.5M53.5 235.9h.5M58.1 235.9h.5M56.3 237.1h.5M67.1 236.2h.5M61.4 240.5h.5M58.1 230.3h.5M56.5 240.8h.5M51.6 233.3h.5M63.5 239.6h.5M59.0 239.6h.5M59.7 230.7h.5M52.0 233.1h.5M63.2 233.5h.5M54.9 232.5h.5M52.1 235.5h.5M53.7 237.6h.5M48.4 237.5h.5M56.1 227.3h.5M62.3 234.8h.5M49.0 232.1h.5M60.3 233.9h.5M62.5 239.4h.5M62.0 237.5h.5M65.0 239.0h.5M61.0 226.6h.5M63.0 241.9h.5M57.7 233.9h.5M67.7 228.1h.5M61.1 246.9h.5M54.8 239.1h.5M67.5 235.5h.5M61.5 240.1h.5M54.9 235.6h.5M60.3 239.7h.5M58.8 235.1h.5M54.4 234.4h.5M63.0 236.5h.5M55.2 232.2h.5M71.0 241.1h.5M61.9 224.3h.5M61.8 238.2h.5M66.6 237.9h.5M58.7 238.4h.5M50.3 240.6h.5M60.5 232.8h.5M65.0 244.1h.5M52.7 233.0h.5M60.3 236.8h.5M57.2 231.6h.5M68.5 240.7h.5M53.6 229.9h.5M66.7 240.5h.5M67.2 239.6h.5M55.1 237.2h.5M49.3 232.6h.5M58.7 238.4h.5M55.7 235.4h.5M61.1 237.7h.5M61.9 236.9h.5M57.5 239.6h.5M59.2 232.3h.5M56.2 236.0h.5M58.5 236.7h.5M59.0 236.8h.5M58.4 230.3h.5M60.9 240.7h.5M61.0 235.1h.5M61.0 231.7h.5M50.5 236.3h.5M54.8 239.3h.5M54.1 224.2h.5M54.3 243.1h.5M57.3 229.8h.5M55.6 238.3h.5M61.2 236.8h.5M65.7 239.2h.5M58.9 238.7h.5M66.4 240.4h.5M63.6 231.1h.5M58.3 239.3h.5M57.7 240.8h.5M61.7 240.1h.5M58.0 247.5h.5M64.6 235.0h.5M59.4 247.7h.5M57.5 239.9h.5M63.4 236.0h.5M53.7 236.8h.5M60.6 241.1h.5M62.5 236.1h.5M62.8 238.4h.5M59.9 236.2h.5M57.9 239.1h.5M54.3 233.2h.5M59.0 229.4h.5M57.0 227.0h.5M55.9 238.6h.5M61.5 235.8h.5M58.0 229.6h.5M67.2 238.3h.5M63.9 232.0h.5M58.2 227.8h.5M62.5 240.2h.5M50.5 235.8h.5M61.8 228.1h.5M50.8 231.2h.5M56.2 229.7h.5M59.1 237.1h.5M61.9 239.2h.5M65.8 241.2h.5M53.1 233.7h.5M54.2 231.2h.5M58.6 236.0h.5M61.2 228.9h.5M53.4 235.9h.5M58.1 234.6h.5M58.7 232.6h.5M62.2 237.6h.5M58.6 233.0h.5M58.2 223.8h.5M54.6 236.2h.5M52.2 236.9h.5M59.7 229.8h.5M57.9 234.6h.5M61.1 238.8h.5M58.8 232.2h.5M58.4 235.7h.5M62.3 237.3h.5M55.7 229.9h.5M57.3 232.7h.5M54.0 235.5h.5M56.8 236.5h.5M61.4 234.1h.5M69.5 234.6h.5M64.0 236.5h.5M64.0 225.3h.5M55.6 237.1h.5M61.7 246.5h.5M60.5 241.8h.5M62.4 240.3h.5M61.3 235.3h.5M61.3 231.1h.5M64.3 231.4h.5M60.1 245.5h.5M58.0 236.1h.5M64.2 236.1h.5M55.4 237.2h.5M61.6 239.2h.5M55.5 243.9h.5M66.5 236.1h.5M60.2 234.1h.5M65.4 232.8h.5M62.0 233.8h.5M55.9 239.2h.5M65.0 236.0h.5M56.0 239.7h.5M58.8 237.4h.5M65.9 241.1h.5M56.7 246.3h.5M59.0 239.5h.5M56.1 235.8h.5M51.1 244.0h.5M65.1 230.5h.5M52.2 228.7h.5M64.3 233.9h.5M58.7 234.6h.5M58.5 231.1h.5M59.1 229.5h.5M58.7 237.4h.5M61.1 235.0h.5M54.9 236.7h.5M56.8 243.0h.5M62.5 235.5h.5M56.9 232.8h.5M54.8 234.4h.5M60.3 238.3h.5M61.6 245.4h.5M55.8 236.1h.5M71.6 227.6h.5M56.7 236.8h.5M59.7 237.8h.5M57.9 237.6h.5M59.2 239.5h.5M50.5 232.0h.5M59.0 231.4h.5M54.3 238.8h.5M56.1 238.9h.5M62.4 237.4h.5M61.3 235.5h.5M52.7 235.9h.5M61.0 233.6h.5M58.6 239.4h.5M55.0 238.9h.5M67.4 233.5h.5M59.7 235.3h.5M65.9 237.4h.5M63.0 232.9h.5M58.9 236.0h.5M51.0 242.5h.5M63.0 228.1h.5M62.3 235.4h.5M61.0 237.6h.5M52.3 235.0h.5M65.7 233.4h.5M54.4 229.9h.5M53.5 237.5h.5M66.6 237.9h.5M60.1 246.1h.5M56.7 233.0h.5M61.4 238.5h.5M54.4 230.7h.5M60.3 237.1h.5M53.1 235.1h.5M56.6 238.1h.5M58.5 235.6h.5M57.4 240.7h.5M65.3 234.3h.5M62.8 232.6h.5M59.3 239.4h.5M65.8 234.3h.5M58.7 236.9h.5M52.3 236.1h.5M56.0 237.7h.5M53.9 227.1h.5M59.2 237.2h.5M56.5 240.0h.5M57.8 233.3h.5M61.1 228.9h.5M56.0 235.9h.5M62.8 235.3h.5M60.4 233.1h.5M60.4 243.5h.5M55.9 246.6h.5M56.1 236.1h.5M59.8 240.6h.5M43.3 255.0h.5M38.5 252.3h.5M47.2 252.8h.5M56.0 244.8h.5M31.5 233.8h.5M45.7 249.1h.5M35.9 249.7h.5M30.0 246.8h.5M28.4 254.2h.5M36.4 251.3h.5M33.9 255.6h.5M41.9 250.3h.5M44.0 250.2h.5M41.6 246.2h.5M48.9 252.7h.5M40.0 255.5h.5M38.4 250.3h.5M36.4 249.6h.5M40.2 251.4h.5M44.1 249.1h.5M35.6 240.3h.5M30.9 254.4h.5M52.0 249.2h.5M34.5 258.9h.5M32.1 254.7h.5M56.1 251.2h.5M50.7 247.4h.5M38.5 250.6h.5M37.4 256.6h.5M64.7 247.7h.5M29.1 253.5h.5M23.3 253.5h.5M42.9 249.6h.5M42.4 243.3h.5M45.1 243.3h.5M27.6 248.2h.5M31.2 255.3h.5M37.0 249.0h.5M42.5 258.9h.5M36.1 252.8h.5M50.9 252.3h.5M62.5 241.1h.5M35.5 253.1h.5M47.6 254.3h.5M32.7 245.7h.5M37.2 256.2h.5M22.9 245.9h.5M35.7 241.3h.5M32.9 248.8h.5M41.4 247.5h.5M25.4 249.0h.5M35.4 247.7h.5M36.1 254.8h.5M50.2 259.5h.5M26.6 248.9h.5M27.3 250.8h.5M42.3 244.2h.5M41.6 250.9h.5M50.3 241.7h.5M45.7 252.0h.5M41.7 253.2h.5M51.6 249.9h.5M46.5 249.0h.5M44.7 246.9h.5M34.7 259.7h.5M41.3 250.2h.5M38.3 255.7h.5M41.1 253.6h.5M35.5 257.8h.5M31.3 248.3h.5M46.7 251.3h.5M32.7 248.1h.5M32.9 254.1h.5M40.2 245.0h.5M41.1 251.9h.5M24.0 254.9h.5M32.6 249.3h.5M45.5 257.6h.5M27.7 253.2h.5M30.1 257.0h.5M28.2 255.1h.5M62.6 238.3h.5M30.8 253.5h.5M34.9 247.7h.5M61.8 251.4h.5M29.1 251.7h.5M51.1 251.6h.5M50.2 254.7h.5M26.2 255.3h.5M42.0 254.2h.5M46.8 254.7h.5M46.6 238.7h.5M38.0 253.5h.5M66.6 246.2h.5M32.0 251.2h.5M46.6 248.8h.5M49.8 247.1h.5M39.2 248.4h.5M37.9 247.5h.5M39.6 248.2h.5M38.4 256.0h.5M24.3 250.4h.5M42.5 253.6h.5M32.0 240.5h.5M50.9 252.6h.5M36.2 249.6h.5M39.2 248.9h.5M23.7 247.3h.5M28.8 247.9h.5M23.8 252.8h.5M52.5 252.0h.5M27.2 251.2h.5M37.8 242.3h.5M28.7 251.8h.5M30.4 251.4h.5M44.8 254.8h.5M46.9 253.9h.5M32.5 250.9h.5M32.7 249.4h.5M33.8 242.4h.5M32.0 250.9h.5M24.3 250.9h.5M42.2 250.2h.5M60.9 238.0h.5M33.5 241.9h.5M42.2 249.5h.5M42.6 239.8h.5M46.2 252.9h.5M36.3 248.1h.5M43.7 248.6h.5M38.7 248.4h.5M38.4 254.8h.5M25.5 250.8h.5M43.4 251.7h.5M50.9 261.0h.5M25.1 241.4h.5M46.3 258.6h.5M47.1 255.1h.5M28.6 247.4h.5M46.7 246.4h.5M65.9 260.6h.5M27.8 247.4h.5M38.8 247.3h.5M51.7 250.6h.5M23.0 257.5h.5M29.0 252.1h.5M35.8 249.4h.5M39.9 247.5h.5M35.7 251.3h.5M42.7 251.6h.5M26.5 247.5h.5M41.8 253.6h.5M34.5 250.1h.5M47.2 251.1h.5M44.9 253.9h.5M38.6 257.5h.5M29.1 249.2h.5M26.3 247.0h.5M54.7 259.8h.5M36.3 253.8h.5M50.1 255.0h.5M50.5 244.7h.5M28.3 253.3h.5M53.2 251.5h.5M25.7 249.2h.5M28.1 246.7h.5M54.0 247.9h.5M50.2 252.7h.5M28.7 253.1h.5M55.5 254.1h.5M51.1 251.5h.5M42.2 250.0h.5M41.1 257.5h.5M38.9 248.1h.5M32.3 254.9h.5M60.0 254.1h.5M39.9 243.2h.5M59.1 251.4h.5M35.6 245.4h.5M35.3 245.5h.5M36.9 253.3h.5M36.4 252.4h.5M25.8 258.1h.5M28.2 241.9h.5M33.7 247.2h.5M23.9 249.2h.5M39.5 245.1h.5M34.3 258.1h.5M44.2 250.2h.5M37.5 250.4h.5M35.4 254.7h.5M34.9 239.0h.5M35.7 246.6h.5M43.8 247.9h.5M23.4 245.4h.5M28.3 241.7h.5M26.7 249.2h.5M40.0 257.8h.5M59.3 256.2h.5M37.7 251.9h.5M57.6 258.1h.5M32.3 253.3h.5M39.4 251.3h.5M30.0 244.4h.5M29.6 243.3h.5M50.7 253.7h.5M46.7 241.5h.5M58.1 255.0h.5M60.8 244.8h.5M42.4 253.1h.5M38.4 251.9h.5M48.6 243.5h.5M29.3 248.0h.5M40.4 252.3h.5M36.4 247.6h.5M30.7 255.8h.5M45.2 251.5h.5M32.1 258.8h.5M28.9 254.2h.5M49.8 249.7h.5M45.9 245.4h.5M48.2 252.0h.5M25.3 257.4h.5M27.9 250.2h.5M39.4 249.3h.5M39.1 248.2h.5M44.1 251.0h.5M38.5 237.2h.5M49.9 251.2h.5M41.6 256.4h.5M23.0 258.7h.5M34.2 254.4h.5M31.6 245.4h.5M49.2 255.5h.5M54.5 255.3h.5M29.1 242.7h.5M28.2 247.6h.5M26.2 253.9h.5M39.9 249.7h.5M38.1 250.3h.5M38.6 254.8h.5M47.5 247.6h.5M37.4 256.5h.5M36.3 243.8h.5M29.8 254.6h.5M48.9 259.0h.5M25.6 244.0h.5M42.2 255.7h.5M38.3 244.5h.5M45.4 255.0h.5M42.6 248.6h.5M39.6 255.0h.5M29.3 241.8h.5M39.9 253.4h.5M36.2 255.4h.5M29.0 250.6h.5M32.3 253.9h.5M55.1 249.7h.5M60.7 258.6h.5M45.5 253.9h.5M57.2 250.1h.5M34.7 245.7h.5M41.7 257.7h.5M42.4 253.1h.5M33.6 251.8h.5M31.1 245.5h.5M27.0 246.9h.5M46.3 256.3h.5M46.7 248.1h.5M28.4 252.7h.5M31.7 240.9h.5M38.8 243.3h.5M46.9 245.0h.5M27.7 246.7h.5M29.5 257.5h.5M46.2 254.0h.5M39.8 243.3h.5M29.8 248.2h.5M24.3 253.5h.5M27.1 247.5h.5M23.5 240.7h.5M43.1 257.7h.5M38.1 246.1h.5M50.6 252.5h.5M47.1 258.4h.5M49.5 248.8h.5M48.6 254.9h.5M42.9 245.7h.5M40.5 258.4h.5M60.9 261.0h.5M33.5 252.3h.5M34.2 256.0h.5M48.5 251.4h.5M30.4 254.1h.5M39.2 259.1h.5M49.7 248.7h.5M40.2 259.8h.5M29.6 253.2h.5M50.3 257.3h.5M42.2 244.4h.5M25.7 256.7h.5M45.2 242.6h.5M26.2 251.8h.5M30.1 250.2h.5M41.6 247.0h.5M41.6 247.8h.5M29.5 253.7h.5M29.1 252.4h.5M55.2 251.1h.5M34.2 254.7h.5M31.6 256.4h.5M29.9 247.0h.5M57.2 246.7h.5M57.1 254.3h.5M53.4 246.1h.5M50.4 258.3h.5M34.6 250.4h.5M65.5 251.9h.5M30.9 247.9h.5M41.4 252.7h.5M38.1 259.6h.5M32.1 253.4h.5M53.5 246.0h.5M48.5 260.2h.5M23.5 241.8h.5M41.4 241.7h.5M42.0 258.3h.5M27.2 249.7h.5M36.7 253.7h.5M31.8 251.1h.5M29.4 251.6h.5M59.0 251.4h.5M24.3 242.7h.5M27.2 254.7h.5M40.6 250.5h.5M24.9 245.6h.5M52.2 252.2h.5M24.6 240.4h.5M38.5 250.2h.5M32.7 244.1h.5M23.4 259.4h.5M26.9 255.2h.5M39.1 256.2h.5M22.5 254.0h.5M40.6 247.3h.5M41.7 246.5h.5M26.4 250.9h.5M24.0 243.7h.5M30.9 254.8h.5M31.1 257.3h.5M54.6 253.0h.5M47.3 246.9h.5M45.7 252.3h.5M43.8 251.1h.5M50.5 247.8h.5M24.4 243.6h.5M49.9 247.3h.5M23.5 246.3h.5M30.7 244.6h.5M32.5 247.9h.5M29.4 246.2h.5M36.4 248.7h.5M37.4 252.2h.5M40.1 240.1h.5M29.6 247.0h.5M45.3 243.1h.5M27.4 249.5h.5M32.0 256.0h.5M30.7 255.8h.5M50.6 253.2h.5M41.9 251.6h.5M41.8 244.9h.5M47.4 248.3h.5M47.8 251.4h.5M49.5 250.3h.5M31.3 252.2h.5M30.9 248.3h.5M37.2 251.7h.5M54.2 251.2h.5M58.6 260.0h.5M56.6 256.3h.5M37.6 251.7h.5M34.3 247.3h.5M35.2 247.8h.5M55.7 253.7h.5M30.6 241.4h.5M35.4 248.9h.5M23.0 245.3h.5M35.6 250.3h.5M53.3 251.7h.5M38.0 249.1h.5M28.7 258.5h.5M48.0 259.6h.5M31.8 251.2h.5M25.4 255.8h.5M49.2 258.1h.5M24.7 256.4h.5M27.4 247.2h.5M55.8 248.0h.5M26.9 249.3h.5M66.1 256.0h.5M29.5 242.0h.5M27.9 256.9h.5M58.4 249.7h.5M27.7 248.5h.5M23.0 256.3h.5M39.5 247.2h.5M45.4 251.0h.5M46.1 241.4h.5M57.9 253.5h.5M45.1 241.7h.5M27.4 249.3h.5M48.9 243.7h.5M25.4 240.9h.5M33.1 252.7h.5M42.1 258.9h.5M44.0 249.5h.5M28.0 251.7h.5M35.4 259.3h.5M39.4 245.6h.5M59.8 239.8h.5M45.6 239.6h.5M31.8 247.4h.5M50.7 235.5h.5M38.9 249.9h.5M50.3 244.4h.5M55.3 245.8h.5M44.3 250.9h.5M42.5 250.4h.5M48.9 243.2h.5M53.3 238.5h.5M56.8 241.5h.5M46.3 240.1h.5M40.5 244.3h.5M45.6 243.8h.5M68.4 231.9h.5M49.6 235.9h.5M41.4 245.0h.5M45.3 237.9h.5M55.9 233.3h.5M47.4 228.5h.5M47.8 244.2h.5M50.0 244.6h.5M49.3 242.4h.5M32.6 248.8h.5M33.5 256.3h.5M48.5 240.8h.5M39.9 244.4h.5M64.1 241.6h.5M50.3 248.5h.5M31.0 242.4h.5M41.3 241.6h.5M43.9 246.3h.5M64.9 226.4h.5M48.1 243.9h.5M49.4 247.0h.5M55.1 229.8h.5M47.3 241.2h.5M44.9 235.1h.5M28.8 241.6h.5M51.0 241.4h.5M40.7 233.0h.5M42.4 241.6h.5M35.1 245.7h.5M53.1 242.0h.5M48.3 245.2h.5M43.2 246.1h.5M48.9 245.1h.5M46.1 242.7h.5M44.3 241.0h.5M63.1 234.9h.5M56.4 250.4h.5M51.7 230.2h.5M54.0 243.2h.5M63.1 239.7h.5M48.7 234.6h.5M42.1 248.1h.5M47.4 236.5h.5M43.3 243.1h.5M48.4 244.1h.5M41.6 239.3h.5M59.7 243.8h.5M49.2 247.7h.5M51.8 243.7h.5M48.0 237.7h.5M53.7 244.5h.5M46.8 255.2h.5M65.9 240.9h.5M62.2 236.9h.5M43.1 242.1h.5M42.0 247.2h.5M48.7 245.9h.5M61.8 232.4h.5M52.8 241.8h.5M48.2 240.9h.5M43.8 240.2h.5M48.1 242.1h.5M46.6 238.0h.5M47.4 243.0h.5M47.9 235.9h.5M52.6 245.1h.5M49.9 238.8h.5M43.1 244.3h.5M56.2 246.0h.5M44.1 241.1h.5M50.0 242.1h.5M38.9 244.1h.5M48.3 246.2h.5M36.3 244.3h.5M46.8 235.7h.5M48.7 243.9h.5M43.4 239.3h.5M45.7 241.9h.5M46.8 238.0h.5M49.3 231.1h.5M45.9 243.8h.5M51.6 236.1h.5M49.0 238.2h.5M56.8 246.7h.5M45.6 246.7h.5M43.7 251.2h.5M55.0 237.6h.5M40.7 249.9h.5M57.7 242.2h.5M47.1 231.8h.5M46.6 251.9h.5M42.2 253.3h.5M61.5 237.5h.5M53.4 236.5h.5M38.7 248.2h.5M45.6 243.7h.5M51.2 239.2h.5M49.5 243.9h.5M52.3 250.6h.5M50.1 241.3h.5M43.8 241.4h.5M56.2 237.4h.5M38.3 245.6h.5M44.8 241.8h.5M50.8 233.3h.5M50.6 241.3h.5M39.4 248.6h.5M47.8 245.5h.5M44.9 246.3h.5M33.0 246.2h.5M55.1 243.7h.5M45.2 240.6h.5M48.1 229.5h.5M43.7 249.4h.5M48.3 235.8h.5M38.8 257.6h.5M45.4 238.6h.5M49.9 246.4h.5M33.2 259.4h.5M45.9 231.1h.5M46.9 232.2h.5M55.6 239.4h.5M60.0 230.2h.5M50.0 247.3h.5M40.8 243.0h.5M44.4 244.4h.5M41.3 249.9h.5M50.8 240.8h.5M57.2 233.9h.5M54.0 234.8h.5M46.4 231.6h.5M47.8 241.4h.5M42.0 242.8h.5M42.7 241.6h.5M30.9 250.6h.5M41.9 243.4h.5M39.7 247.3h.5M51.4 238.4h.5M47.7 250.8h.5M56.0 242.3h.5M53.6 236.4h.5M49.3 248.2h.5M43.0 245.1h.5M50.5 242.8h.5M48.0 248.3h.5M47.9 246.8h.5M55.9 240.8h.5M48.5 234.9h.5M36.6 246.5h.5M54.4 247.0h.5M39.9 249.9h.5M39.3 243.9h.5M47.2 247.1h.5M51.8 246.9h.5M43.1 251.2h.5M53.3 239.0h.5M48.5 238.5h.5M38.7 246.3h.5M51.1 257.8h.5M48.6 252.0h.5M49.2 243.4h.5M49.6 236.4h.5M54.1 240.3h.5M38.8 252.4h.5M51.9 242.3h.5M56.2 234.0h.5M52.5 243.7h.5M44.5 252.0h.5M33.8 244.3h.5M47.3 236.1h.5M41.5 236.8h.5M44.2 238.0h.5M44.8 235.2h.5M49.2 239.9h.5M47.2 242.4h.5M44.1 237.0h.5M30.3 254.9h.5M39.6 245.4h.5M44.1 232.9h.5M40.2 244.0h.5M41.0 249.2h.5M43.7 240.3h.5M42.9 250.8h.5M44.4 248.4h.5M44.5 233.2h.5M39.9 248.0h.5M51.5 244.6h.5M55.2 243.6h.5M43.9 243.9h.5M50.9 237.7h.5M49.4 231.6h.5M50.8 239.3h.5M36.9 256.0h.5M49.1 241.7h.5M38.6 246.0h.5M54.5 232.7h.5M38.8 248.0h.5M41.8 241.1h.5M44.5 251.2h.5M43.2 257.6h.5M40.3 241.0h.5M53.8 241.7h.5M42.3 250.9h.5M32.3 247.7h.5M53.6 236.8h.5M39.9 251.1h.5M52.9 238.7h.5M34.2 249.9h.5M51.9 244.2h.5M58.4 233.5h.5M43.7 245.1h.5M52.2 233.6h.5M47.7 225.8h.5M50.3 236.6h.5M52.0 243.7h.5M39.0 248.1h.5M50.3 244.3h.5M38.1 243.2h.5M45.1 243.0h.5M39.9 253.7h.5M47.6 251.3h.5M52.6 239.2h.5M48.6 235.1h.5M43.2 242.1h.5M38.7 248.9h.5M50.2 249.5h.5M23.1 255.6h.5M39.7 245.3h.5M50.9 242.7h.5M45.8 240.9h.5M51.3 242.2h.5M34.2 250.4h.5M34.6 244.5h.5M48.1 242.6h.5M45.2 238.9h.5M43.1 240.2h.5M51.5 244.1h.5M62.1 240.1h.5M40.4 244.8h.5M41.7 248.6h.5M62.0 236.8h.5M29.0 247.9h.5M40.0 251.0h.5M47.9 244.2h.5M56.3 231.4h.5M47.1 254.9h.5M47.0 238.2h.5M29.3 246.1h.5M31.2 254.5h.5M50.1 246.9h.5M44.1 240.8h.5M47.6 254.2h.5M35.9 251.8h.5M48.9 245.4h.5M45.8 246.9h.5M51.9 238.7h.5M43.5 244.3h.5M40.1 246.6h.5M45.6 245.2h.5M59.5 242.2h.5M45.8 247.5h.5M51.1 244.8h.5M47.9 244.0h.5M41.7 241.9h.5M56.4 244.3h.5M52.6 241.7h.5M47.5 239.9h.5M37.2 253.9h.5M46.7 239.8h.5M44.3 252.7h.5M40.2 258.5h.5M58.0 249.8h.5M42.2 246.2h.5M44.1 246.0h.5M43.5 240.9h.5M51.8 234.9h.5M45.3 247.6h.5M42.2 243.7h.5M48.3 239.9h.5M38.5 248.3h.5M50.4 251.0h.5M42.6 252.0h.5M40.8 245.1h.5M45.6 245.6h.5M57.7 246.2h.5M46.6 251.4h.5M55.9 241.8h.5M44.6 250.2h.5M47.3 244.9h.5M47.1 247.0h.5M57.6 242.5h.5M48.5 248.0h.5M53.8 232.5h.5M52.8 230.8h.5M52.3 242.9h.5M57.5 237.3h.5M41.6 241.9h.5M41.0 251.9h.5M43.4 241.1h.5M48.3 237.4h.5M42.8 243.1h.5M62.0 241.4h.5M41.5 237.3h.5M49.0 242.0h.5M50.9 243.7h.5M47.6 248.3h.5M53.1 240.0h.5M43.0 242.9h.5M48.4 235.3h.5M43.8 240.7h.5M39.6 251.9h.5M46.9 243.3h.5M48.4 232.9h.5M47.4 244.5h.5M49.3 234.7h.5M52.3 240.6h.5M59.2 241.4h.5M56.8 249.3h.5M45.8 241.3h.5M42.1 240.7h.5M41.4 235.4h.5M47.7 245.1h.5M52.5 237.0h.5M54.2 234.0h.5M40.7 235.9h.5M39.7 243.3h.5M58.0 238.4h.5M41.4 250.1h.5M49.4 239.9h.5M46.3 241.7h.5M38.6 238.3h.5M50.0 248.5h.5M55.4 235.5h.5M41.6 245.5h.5M53.7 240.4h.5M44.3 247.1h.5M47.1 246.0h.5M40.3 238.9h.5M49.5 245.8h.5M39.6 247.5h.5M51.6 237.6h.5M48.5 254.0h.5M55.2 243.4h.5M45.5 253.7h.5M35.0 248.3h.5M55.4 245.0h.5M39.2 244.5h.5M42.9 234.4h.5M52.6 242.4h.5M45.6 247.1h.5M52.8 240.8h.5M54.5 246.7h.5M44.4 245.8h.5M46.6 249.4h.5M45.7 246.7h.5M48.1 242.7h.5M57.7 235.0h.5M58.3 240.0h.5M54.9 236.5h.5M55.0 241.9h.5M43.9 246.8h.5M46.1 243.4h.5M53.2 234.4h.5M31.5 243.6h.5M42.3 242.5h.5M54.1 254.6h.5M62.5 253.9h.5M56.2 250.9h.5M56.8 256.9h.5M60.5 247.3h.5M58.3 257.6h.5M58.0 248.7h.5M52.5 254.7h.5M56.0 250.7h.5M49.7 255.8h.5M47.6 257.1h.5M54.1 253.9h.5M47.6 251.3h.5M57.3 248.8h.5M64.0 248.9h.5M48.1 253.1h.5M56.3 255.1h.5M52.2 252.4h.5M52.9 251.3h.5M41.6 255.8h.5M55.2 253.5h.5M51.0 253.7h.5M53.9 252.8h.5M59.3 248.0h.5M55.2 249.9h.5M52.5 257.3h.5M48.8 252.7h.5M51.2 255.7h.5M49.3 248.2h.5M56.5 252.0h.5M52.5 256.1h.5M49.7 251.9h.5M54.7 254.2h.5M51.5 256.0h.5M64.8 251.8h.5M63.0 246.9h.5M60.8 252.0h.5M54.7 252.0h.5M50.9 249.3h.5M52.1 256.7h.5M59.5 252.0h.5M51.5 251.0h.5M48.2 258.2h.5M57.2 253.3h.5M51.6 250.1h.5M60.3 255.2h.5M49.4 255.8h.5M48.7 254.8h.5M49.4 251.8h.5M56.4 254.2h.5M58.9 250.6h.5M61.6 256.9h.5M54.0 254.3h.5M50.3 252.6h.5M47.7 253.3h.5M55.0 256.9h.5M58.5 255.3h.5M52.3 252.4h.5M52.4 253.6h.5M44.7 255.2h.5M46.5 251.5h.5M54.1 251.5h.5M62.0 252.7h.5M61.5 256.4h.5M51.6 254.2h.5M60.2 252.0h.5M54.4 251.4h.5M54.3 252.0h.5M54.4 255.9h.5M60.7 253.4h.5M55.0 255.5h.5M52.6 250.0h.5M59.3 250.3h.5M58.5 250.2h.5M62.8 250.0h.5M58.1 257.3h.5M49.4 257.3h.5M50.0 247.9h.5M57.5 255.0h.5M53.0 245.7h.5M53.7 252.1h.5M52.2 252.2h.5M45.4 251.4h.5M62.6 257.5h.5M52.3 250.9h.5M55.9 256.1h.5M57.5 249.6h.5M54.8 253.4h.5M60.9 256.4h.5M56.5 256.5h.5M52.1 257.4h.5M52.0 254.1h.5M58.4 250.4h.5M50.6 247.9h.5M54.8 252.8h.5M52.4 254.4h.5M43.8 252.9h.5M54.4 252.2h.5M57.8 258.0h.5M51.9 250.3h.5M51.1 253.3h.5M56.8 250.5h.5M58.8 250.0h.5M58.0 254.2h.5M56.2 259.2h.5M52.7 252.5h.5M56.3 255.5h.5M47.6 253.8h.5M50.4 254.8h.5M60.6 253.1h.5M53.5 253.5h.5M39.8 255.2h.5M56.7 253.5h.5M52.1 250.9h.5M53.1 256.5h.5M53.5 256.9h.5M41.7 251.7h.5M55.3 253.0h.5M46.0 251.1h.5M60.0 249.3h.5M49.2 249.8h.5M51.4 254.9h.5M56.9 247.2h.5M61.0 251.3h.5M51.2 257.8h.5M53.6 249.4h.5M50.9 250.9h.5M49.2 252.0h.5M58.2 254.0h.5M47.4 261.0h.5M49.2 253.3h.5M54.2 255.2h.5M52.4 254.3h.5M64.1 253.3h.5M48.8 253.9h.5M50.1 251.9h.5M54.9 254.0h.5M52.6 255.4h.5M53.1 249.2h.5M58.2 252.0h.5M59.8 251.1h.5M56.7 253.9h.5M41.1 248.7h.5M48.6 257.1h.5M44.9 255.6h.5M59.2 254.4h.5M57.2 251.6h.5M53.9 253.6h.5M56.0 255.0h.5M53.0 251.0h.5M51.3 254.2h.5M46.0 249.4h.5M52.0 251.4h.5M52.7 245.3h.5M52.4 252.3h.5M57.7 247.3h.5M52.5 254.4h.5M56.3 256.4h.5M59.1 250.0h.5M57.1 252.0h.5M50.1 257.4h.5M51.0 250.5h.5M52.0 250.5h.5M58.8 254.1h.5M60.7 254.2h.5M51.0 256.0h.5M50.9 251.7h.5M53.2 253.1h.5M59.7 251.3h.5M55.7 252.9h.5M47.9 249.8h.5M52.9 254.2h.5M55.5 254.4h.5M54.2 251.7h.5M56.1 250.1h.5M47.5 252.0h.5M47.1 251.5h.5M50.4 251.4h.5M53.8 250.7h.5M52.0 248.1h.5M54.7 250.5h.5M55.9 244.8h.5M50.1 253.7h.5M42.2 252.0h.5M54.5 253.3h.5M46.8 253.7h.5M54.7 250.2h.5M57.6 252.9h.5M54.1 251.7h.5M56.6 253.3h.5M59.5 254.3h.5M51.0 252.4h.5M58.4 251.9h.5M55.8 254.5h.5M53.1 246.3h.5M54.6 253.6h.5M54.7 250.8h.5M59.8 252.6h.5M51.0 250.9h.5M55.7 249.8h.5M30.3 253.5h.5M52.7 246.2h.5M53.2 242.6h.5M23.7 247.2h.5M52.0 241.8h.5M53.2 234.2h.5M41.2 244.0h.5M39.2 246.5h.5M40.8 243.4h.5M40.8 226.5h.5M42.7 248.2h.5M51.0 251.3h.5M45.4 233.4h.5M40.2 223.1h.5M38.2 245.0h.5M48.0 248.3h.5M31.0 232.9h.5M45.2 254.1h.5M28.9 248.7h.5M44.1 234.2h.5M61.3 218.4h.5M39.3 239.7h.5M60.7 252.0h.5M62.0 239.0h.5M49.5 248.6h.5M45.0 240.8h.5M38.2 234.8h.5M28.1 253.2h.5M35.7 221.8h.5M42.6 237.7h.5M41.7 252.1h.5M39.0 235.9h.5M32.7 237.8h.5M35.7 239.6h.5M70.4 241.1h.5M31.7 253.0h.5M48.4 244.4h.5M47.0 244.4h.5M46.6 249.0h.5M49.8 248.5h.5M35.1 238.0h.5M32.9 245.5h.5M48.1 234.4h.5M45.7 258.4h.5M52.0 229.3h.5M39.1 242.9h.5M39.7 241.0h.5M51.5 240.6h.5M29.3 243.6h.5M39.1 238.9h.5M34.5 227.2h.5M27.9 235.2h.5M29.6 216.8h.5M51.2 229.0h.5M32.9 242.1h.5M32.5 243.1h.5M35.3 240.4h.5M41.0 238.0h.5M39.6 249.0h.5M34.7 242.1h.5M41.6 241.8h.5M49.7 226.3h.5M42.7 236.6h.5M37.0 231.3h.5M32.3 230.0h.5M29.3 257.6h.5M56.6 238.1h.5M47.2 230.4h.5M41.4 249.2h.5M39.6 230.2h.5M37.6 230.2h.5M26.4 236.2h.5M36.1 231.7h.5M31.4 230.7h.5M42.3 248.9h.5M38.0 255.4h.5M24.2 240.1h.5M28.7 236.7h.5M41.0 242.4h.5M51.0 233.7h.5M27.9 236.5h.5M42.9 232.6h.5M48.7 251.1h.5M26.1 240.8h.5M49.9 223.0h.5M42.0 236.2h.5M26.1 248.3h.5M42.1 234.3h.5M44.3 243.0h.5M47.5 242.5h.5M44.0 228.8h.5M35.9 239.0h.5M36.3 229.8h.5M40.3 233.4h.5M35.9 231.1h.5M32.7 237.2h.5M33.7 243.3h.5M38.6 239.0h.5M44.0 247.9h.5M45.9 239.8h.5M38.4 231.7h.5M36.7 243.3h.5M42.2 235.0h.5M27.0 226.0h.5M43.1 246.0h.5M43.6 227.3h.5M37.9 239.7h.5M31.1 240.7h.5M38.0 231.5h.5M27.9 244.3h.5M43.5 231.1h.5M30.1 244.9h.5M45.8 235.6h.5M55.5 235.7h.5M29.7 246.5h.5M38.2 240.7h.5M40.4 230.2h.5M28.4 236.5h.5M53.7 230.2h.5M53.2 239.7h.5M45.6 235.1h.5M64.5 232.8h.5M46.2 256.1h.5M44.5 236.6h.5M48.1 252.9h.5M56.0 248.8h.5M42.6 214.5h.5M56.5 239.6h.5M61.0 250.2h.5M28.4 223.3h.5M26.4 252.6h.5M27.6 216.8h.5M60.2 240.2h.5M25.3 245.9h.5M58.1 236.2h.5M25.2 246.4h.5M43.4 241.1h.5M72.4 252.5h.5M66.1 219.6h.5M39.2 237.9h.5M22.8 260.9h.5M36.2 225.4h.5M38.2 225.0h.5M65.4 239.7h.5M48.0 233.1h.5M25.1 227.4h.5M65.8 251.8h.5M65.3 225.1h.5M32.6 215.1h.5M49.3 230.8h.5M45.7 236.5h.5M51.7 230.4h.5M62.6 222.3h.5M68.5 239.8h.5M25.1 227.9h.5M49.2 232.5h.5M50.7 228.4h.5M36.2 251.5h.5M37.1 247.3h.5M62.6 241.5h.5M45.2 258.3h.5M44.7 255.5h.5M25.4 233.8h.5M54.5 214.9h.5M65.6 216.0h.5M52.3 221.3h.5M68.6 240.0h.5M62.5 236.9h.5M56.2 245.6h.5M37.2 222.8h.5" stroke="#555" stroke-width="0.55" opacity="0.55" fill="none"/>
<path d="M22.8,251.8 C22.8,246.5 27,245 31,245.3 C37,245.8 42,249 47.5,251.6 C42,254.5 37,258 31,258.2 C27,258.3 22.8,257 22.8,251.8 Z" fill="#cfcfcf" stroke="#1a1a1a" stroke-width="1.1"/>
<path d="M24.5,251.8 C24.5,248 28,247 31,247.3 C36,247.8 40,250 44,251.7 C40,253.6 36,256 31,256.2 C28,256.3 24.5,255.5 24.5,251.8 Z" fill="#b9b9b9" stroke="#777" stroke-width="0.35"/>
<path d="M26.5,251.6 C26.5,249.5 29,249 31,249.2 C34,249.5 36.5,250.5 39,251.6 C36.5,252.8 34,254 31,254.1 C29,254.2 26.5,253.8 26.5,251.6 Z" fill="#e6e6e6" stroke="#999" stroke-width="0.3"/>
<ellipse cx="28.8" cy="251.4" rx="1.2" ry="0.9" fill="#fff"/>
<ellipse cx="54.3" cy="252.2" rx="4.0" ry="2.6" fill="#bbb" stroke="#111" stroke-width="1.2"/>
<ellipse cx="54.3" cy="252.2" rx="2.3" ry="1.3" fill="#fff"/>
<ellipse cx="59" cy="235" rx="6.5" ry="5.5" fill="#666" opacity="0.35"/>
<polygon points="46.4,234.3 50.7,228 57.5,223.2 64.4,223.7 68.7,229 69.7,234.3 67.6,241.7 64.4,244.9 58.1,242.8 51.7,239.6" fill="none" stroke="#555" stroke-width="0.6"/>
<text x="46.5" y="225.2" font-size="6.6" text-anchor="middle" font-weight="normal" font-style="normal" fill="#222" stroke="#222" stroke-width="0.14">DC</text>
<text x="65" y="221.2" font-size="5.0" text-anchor="middle" font-weight="normal" font-style="normal" fill="#222" stroke="#222" stroke-width="0.14">1.30</text>
<rect x="21.5" y="211.5" width="52.0" height="51.0" fill="none" stroke="#111" stroke-width="1.3"/>
<line x1="64.80" y1="223.60" x2="88.30" y2="223.60" stroke="#111" stroke-width="1.1" />
<polygon points="87.8,221.2 91.8,223.6 87.8,226.0" fill="#111"/>
<text x="17.9" y="236.8" font-size="6.6" text-anchor="middle" font-weight="normal" font-style="normal" fill="#222" stroke="#222" stroke-width="0.14" transform="rotate(-90 17.9 236.8)">CD11c</text>
<text x="47.2" y="269.3" font-size="6.6" text-anchor="middle" font-weight="normal" font-style="normal" fill="#222" stroke="#222" stroke-width="0.14">MHC II</text>
<path d="M99.1 246.7h.5M101.1 247.6h.5M99.5 251.9h.5M100.7 233.2h.5M88.2 255.2h.5M95.4 246.3h.5M107.1 253.8h.5M109.9 253.5h.5M95.6 254.9h.5M91.7 247.0h.5M93.2 248.5h.5M102.3 246.7h.5M99.2 246.6h.5M103.0 231.3h.5M95.6 251.1h.5M89.7 256.9h.5M98.5 258.7h.5M103.5 254.3h.5M96.0 242.6h.5M95.5 246.9h.5M98.7 246.9h.5M117.7 239.2h.5M104.9 246.8h.5M95.4 256.3h.5M97.0 241.8h.5M99.8 248.7h.5M89.9 245.0h.5M100.3 252.0h.5M99.8 245.9h.5M98.6 249.2h.5M95.8 248.1h.5M93.2 256.6h.5M97.2 261.5h.5M102.3 261.1h.5M96.2 252.5h.5M94.1 248.9h.5M85.3 246.1h.5M90.6 245.6h.5M105.2 251.8h.5M105.3 255.8h.5M103.2 256.8h.5M92.9 255.4h.5M94.8 246.4h.5M102.6 244.3h.5M98.8 252.5h.5M99.5 247.6h.5M88.3 250.2h.5M102.8 255.3h.5M101.5 257.4h.5M90.3 249.7h.5M99.3 256.7h.5M98.1 253.5h.5M113.7 251.6h.5M87.3 245.4h.5M98.5 261.6h.5M100.1 254.5h.5M103.9 251.4h.5M91.2 249.3h.5M99.3 248.1h.5M92.5 247.6h.5M86.9 243.1h.5M96.4 247.6h.5M97.3 259.5h.5M99.0 249.8h.5M89.1 242.7h.5M99.5 244.1h.5M99.9 242.8h.5M97.9 249.5h.5M103.7 247.4h.5M94.5 251.7h.5M97.4 261.4h.5M95.3 246.4h.5M94.8 253.2h.5M98.6 254.7h.5M109.4 249.8h.5M88.9 251.0h.5M99.8 235.0h.5M97.1 240.0h.5M100.1 259.3h.5M104.0 239.9h.5M106.3 256.1h.5M94.6 253.4h.5M107.2 247.8h.5M96.9 246.2h.5M104.8 235.5h.5M106.6 243.5h.5M103.2 239.1h.5M90.7 246.0h.5M102.6 239.1h.5M101.1 245.7h.5M105.4 247.9h.5M100.3 248.8h.5M109.1 247.6h.5M97.5 254.6h.5M92.0 251.3h.5M92.6 239.9h.5M87.5 257.7h.5M99.9 239.8h.5M109.2 245.3h.5M94.5 251.7h.5M89.3 239.1h.5M92.0 258.0h.5M103.4 239.4h.5M105.1 250.2h.5M100.4 250.3h.5M99.8 243.3h.5M90.9 245.3h.5M94.5 254.2h.5M88.8 260.7h.5M92.7 246.0h.5M101.7 252.9h.5M94.7 242.8h.5M90.3 239.2h.5M104.7 257.3h.5M109.6 253.4h.5M99.2 255.1h.5M103.4 248.3h.5M85.6 240.5h.5M90.5 255.1h.5M105.0 247.7h.5M101.5 249.7h.5M99.0 246.4h.5M96.8 250.0h.5M97.0 256.5h.5M104.2 255.3h.5M102.5 243.6h.5M85.5 261.3h.5M105.1 243.6h.5M105.7 254.5h.5M90.3 257.9h.5M92.4 245.0h.5M86.6 248.5h.5M103.9 245.5h.5M109.4 254.7h.5M93.4 241.8h.5M86.0 253.8h.5M105.8 242.9h.5M97.0 248.1h.5M95.3 253.4h.5M111.1 245.7h.5M102.7 257.3h.5M95.1 249.0h.5M88.0 257.3h.5M93.4 245.6h.5M97.5 244.2h.5M90.0 248.0h.5M107.0 248.6h.5M100.6 240.1h.5M94.3 239.6h.5M96.3 254.1h.5M85.3 244.0h.5M98.8 243.8h.5M102.4 256.5h.5M100.0 247.1h.5M96.7 245.7h.5M96.1 252.1h.5M95.0 256.6h.5M114.5 246.3h.5M99.3 255.6h.5M101.4 248.4h.5M93.8 256.8h.5M101.2 253.4h.5M91.6 254.3h.5M102.4 248.7h.5M89.1 240.8h.5M95.4 253.7h.5M97.4 242.1h.5M87.3 246.2h.5M97.1 244.4h.5M91.3 248.9h.5M93.3 246.0h.5M97.3 248.0h.5M101.2 242.0h.5M96.5 255.2h.5M105.0 253.8h.5M97.2 239.5h.5M86.2 256.6h.5M101.6 253.9h.5M85.8 235.5h.5M89.8 242.0h.5M98.1 243.1h.5M107.7 245.8h.5M93.2 255.9h.5M99.2 243.9h.5M88.7 248.3h.5M89.7 236.8h.5M101.3 254.7h.5M103.6 252.9h.5M92.5 242.0h.5M89.5 255.2h.5M100.2 237.0h.5M103.1 258.5h.5M97.2 241.8h.5M109.0 241.1h.5M96.4 237.0h.5M88.5 238.4h.5M104.4 258.0h.5M94.2 240.8h.5M96.6 252.6h.5M86.6 242.1h.5M107.3 233.0h.5M107.9 230.9h.5M89.2 221.9h.5M105.7 223.0h.5M104.0 227.6h.5M107.4 223.0h.5M117.1 222.8h.5M111.9 229.9h.5M115.1 226.5h.5M90.8 233.5h.5M121.5 223.2h.5M111.6 228.9h.5M99.1 228.4h.5M104.5 237.7h.5M114.0 236.4h.5M115.3 236.4h.5M106.0 221.0h.5M120.3 223.1h.5M115.7 224.8h.5M104.0 231.3h.5M93.9 227.9h.5M97.7 230.2h.5M95.3 234.5h.5M114.3 238.0h.5M119.9 220.6h.5M112.1 224.0h.5M108.9 227.1h.5M102.1 231.8h.5M96.0 237.8h.5M100.6 224.8h.5M104.9 233.4h.5M102.2 234.4h.5M115.0 234.4h.5M97.3 233.2h.5M114.4 234.4h.5M110.2 231.7h.5M93.0 232.5h.5M117.9 220.2h.5M120.4 215.7h.5M99.2 222.1h.5M111.7 227.5h.5M122.0 220.9h.5M99.9 222.9h.5M108.2 234.2h.5M115.3 232.0h.5M112.5 224.9h.5M111.2 227.2h.5M100.8 243.7h.5M105.8 221.9h.5M109.8 228.8h.5M118.0 232.0h.5M115.0 217.3h.5M92.5 238.7h.5M109.6 229.3h.5M96.1 231.5h.5M109.7 232.0h.5M123.8 220.7h.5M94.3 219.5h.5M113.9 223.5h.5M102.2 224.4h.5M106.3 216.5h.5M107.2 229.1h.5M112.2 234.4h.5M105.5 229.9h.5M108.0 217.2h.5M103.9 230.7h.5M111.0 220.6h.5M113.4 227.4h.5M90.1 228.0h.5M95.3 236.1h.5M109.8 231.8h.5M110.7 222.5h.5M116.7 228.4h.5M111.1 229.4h.5M97.1 236.6h.5M94.5 227.5h.5M103.7 231.3h.5M104.6 227.5h.5M98.8 234.4h.5M96.1 225.0h.5M111.1 236.1h.5M99.7 225.3h.5M121.8 231.7h.5M103.1 229.2h.5M116.4 243.3h.5M110.0 233.5h.5M104.0 217.6h.5M93.8 227.6h.5M109.7 227.6h.5M119.1 219.6h.5M108.6 228.0h.5M114.0 240.4h.5M112.6 235.3h.5M114.3 220.0h.5M110.2 224.0h.5M107.3 229.3h.5M104.8 226.5h.5M117.3 220.6h.5M116.5 234.5h.5M113.9 231.5h.5M120.0 228.4h.5M115.1 213.9h.5M121.3 220.4h.5M90.5 233.5h.5M95.1 235.1h.5M91.4 230.5h.5M108.8 228.5h.5M99.1 231.4h.5M105.5 229.8h.5M105.3 227.9h.5M108.0 216.7h.5M102.6 231.9h.5M101.2 227.9h.5M103.2 232.0h.5M115.1 222.4h.5M105.0 232.0h.5M98.3 220.1h.5M107.0 225.8h.5M103.4 234.8h.5M104.7 225.9h.5M105.8 228.3h.5M110.1 228.2h.5M98.5 224.6h.5M97.1 233.2h.5M99.3 238.1h.5M90.3 225.7h.5M99.2 220.7h.5M115.7 216.5h.5M104.9 228.0h.5M94.3 223.5h.5M94.1 241.9h.5M120.4 235.6h.5M96.3 238.5h.5M108.4 233.5h.5M104.2 235.1h.5M114.8 228.1h.5M116.8 221.6h.5M115.9 218.4h.5M103.7 224.8h.5M109.1 234.4h.5M111.9 226.3h.5M114.8 213.7h.5M104.2 240.5h.5M102.3 216.7h.5M105.1 221.3h.5M120.9 228.3h.5M105.6 238.2h.5M102.3 237.5h.5M110.1 225.7h.5M94.1 233.9h.5M86.5 236.4h.5M95.2 243.6h.5M91.2 220.7h.5M111.7 228.3h.5M108.4 242.3h.5M112.2 225.9h.5M92.1 216.5h.5M112.6 231.8h.5M97.1 224.3h.5M100.7 220.5h.5M108.4 233.0h.5M118.6 223.6h.5M109.8 232.0h.5M116.0 221.0h.5M94.1 230.4h.5M93.5 230.0h.5M106.1 231.3h.5M107.4 228.7h.5M104.5 232.8h.5M115.2 229.0h.5M116.8 220.8h.5M109.1 238.9h.5M108.8 230.2h.5M106.3 235.5h.5M99.8 225.6h.5M104.2 227.0h.5M111.4 223.3h.5M106.3 227.3h.5M106.8 224.2h.5M110.3 216.6h.5M100.9 227.1h.5M111.2 226.3h.5M108.8 225.1h.5M97.0 226.4h.5M101.8 227.7h.5M109.2 229.6h.5M113.3 224.0h.5M97.0 226.9h.5M107.6 230.6h.5M121.7 221.2h.5M125.3 230.8h.5M101.5 240.0h.5M118.9 230.9h.5M108.8 234.0h.5M102.0 230.8h.5M111.5 238.2h.5M107.2 234.9h.5M104.4 225.0h.5M109.9 231.3h.5M102.4 235.5h.5M97.8 227.6h.5M107.0 226.8h.5M93.5 225.0h.5M106.9 230.2h.5M103.0 232.0h.5M95.3 237.9h.5M110.1 228.6h.5M101.5 232.2h.5M110.2 234.0h.5M108.9 229.1h.5M102.9 236.7h.5M113.7 221.2h.5M111.9 227.7h.5M101.8 222.5h.5M107.2 225.7h.5M113.7 221.7h.5M108.1 232.0h.5M108.0 224.3h.5M112.5 228.0h.5M112.2 221.9h.5M104.5 227.2h.5M100.2 234.1h.5M113.4 234.5h.5M104.6 232.5h.5M114.5 223.3h.5M106.9 229.4h.5M97.7 227.0h.5M115.2 224.9h.5M101.7 222.9h.5M110.4 234.6h.5M94.4 229.5h.5M118.9 231.4h.5M116.4 219.2h.5M108.4 222.4h.5M109.0 224.8h.5M111.5 235.1h.5M107.9 226.2h.5M107.2 230.1h.5M102.6 232.4h.5M115.3 234.4h.5M86.5 232.1h.5M99.0 239.1h.5M125.5 219.1h.5M110.3 234.3h.5M86.5 239.0h.5M100.6 228.8h.5M106.9 224.5h.5M114.6 224.0h.5M116.5 240.4h.5M105.3 235.8h.5M103.3 239.1h.5M113.9 225.4h.5M118.5 232.9h.5M116.7 222.9h.5M108.9 235.0h.5M92.8 232.5h.5M111.4 229.8h.5M125.6 229.8h.5M109.8 229.8h.5M95.3 233.9h.5M99.6 220.7h.5M98.4 225.6h.5M92.3 218.6h.5M87.4 228.8h.5M102.6 220.7h.5M103.7 219.8h.5M110.6 226.2h.5M98.9 222.7h.5M96.8 226.8h.5M109.9 219.5h.5M91.5 225.5h.5M104.3 213.1h.5M93.9 216.1h.5M101.3 225.0h.5M93.6 215.3h.5M101.8 221.1h.5M109.4 227.9h.5M94.6 220.4h.5M96.4 217.7h.5M98.5 227.7h.5M89.1 220.7h.5M106.8 226.4h.5M93.2 217.2h.5M92.9 212.5h.5M104.8 222.4h.5M93.9 213.5h.5M95.7 219.0h.5M108.2 219.3h.5M98.7 228.3h.5M101.9 220.9h.5M101.5 219.4h.5M97.5 216.4h.5M92.7 213.2h.5M101.0 225.1h.5M99.0 226.6h.5M101.2 222.7h.5M92.8 225.5h.5M105.0 225.7h.5M105.4 219.2h.5M92.2 229.4h.5M94.6 223.4h.5M96.9 222.1h.5M96.4 218.8h.5M87.5 233.2h.5M92.7 215.4h.5M101.4 231.7h.5M96.6 226.4h.5M101.5 214.7h.5M94.6 219.9h.5M105.4 222.7h.5M97.3 217.3h.5M98.5 222.2h.5M102.3 230.2h.5M102.3 222.1h.5M97.1 231.4h.5M99.2 221.9h.5M108.6 231.2h.5M101.3 221.4h.5M94.3 228.3h.5M95.3 227.6h.5M109.4 225.2h.5M88.2 216.6h.5M93.6 217.0h.5M116.7 246.6h.5M98.6 251.3h.5M121.9 229.2h.5M110.1 221.7h.5M131.9 240.0h.5M88.1 220.0h.5M120.1 231.4h.5M121.4 223.7h.5M125.4 251.8h.5M90.2 241.2h.5M95.1 247.2h.5M125.7 251.3h.5M97.1 217.1h.5M118.7 240.2h.5M92.4 221.9h.5M114.6 217.8h.5M117.2 224.3h.5M98.4 233.3h.5M112.2 248.0h.5M87.0 248.0h.5M96.5 226.7h.5M117.5 246.4h.5" stroke="#888" stroke-width="0.55" opacity="0.5" fill="none"/>
<ellipse transform="translate(97.0 250.3) rotate(0)" rx="10.30" ry="10.40" fill="#d6d6d6" stroke="#8a8a8a" stroke-width="0.3"/>
<ellipse transform="translate(97.0 250.3) rotate(0)" rx="8.03" ry="8.11" fill="#c9c9c9" stroke="#8a8a8a" stroke-width="0.3" stroke-dasharray="0.8 0.5"/>
<ellipse transform="translate(97.0 250.3) rotate(0)" rx="5.15" ry="5.20" fill="#e2e2e2" stroke="#8a8a8a" stroke-width="0.25"/>
<ellipse transform="translate(97.0 250.3) rotate(0)" cx="-1.03" cy="0" rx="1.2" ry="1.2" fill="#fff"/>
<path d="M84.6,237.6 H109.4 V262" fill="none" stroke="#7a7a7a" stroke-width="1.1"/>
<text x="118.8" y="253.6" font-size="5.0" text-anchor="middle" font-weight="normal" font-style="normal" fill="#222" stroke="#222" stroke-width="0.14">96.5</text>
<rect x="84.5" y="211.5" width="52.0" height="51.0" fill="none" stroke="#111" stroke-width="1.3"/>
<text x="80.2" y="236.8" font-size="6.6" text-anchor="middle" font-weight="normal" font-style="normal" fill="#222" stroke="#222" stroke-width="0.14" transform="rotate(-90 80.2 236.8)">CD64</text>
<line x1="108.80" y1="259.20" x2="145.00" y2="259.20" stroke="#111" stroke-width="1.0" />
<polygon points="154.5,256.9 158.8,259.2 154.5,261.5" fill="#111"/>
<line x1="144.00" y1="259.20" x2="155.00" y2="259.20" stroke="#111" stroke-width="1.0" />
<path d="M175.4 248.8h.5M166.3 229.4h.5M177.5 245.8h.5M175.5 213.9h.5M175.3 227.2h.5M163.1 257.0h.5M190.0 244.1h.5M175.8 240.2h.5M164.0 237.4h.5M198.1 226.9h.5M163.0 240.1h.5M184.2 248.6h.5M158.8 236.4h.5M168.4 222.4h.5M173.1 231.9h.5M184.5 243.5h.5M161.4 239.0h.5M167.1 230.0h.5M165.4 251.5h.5M166.4 216.3h.5M161.5 248.2h.5M167.2 233.8h.5M152.8 243.1h.5M171.3 241.5h.5M182.8 248.5h.5M163.3 230.5h.5M193.2 247.0h.5M174.0 224.2h.5M184.0 244.7h.5M182.9 241.4h.5M172.8 231.0h.5M176.2 241.1h.5M180.9 251.7h.5M176.2 231.1h.5M183.0 257.6h.5M160.6 243.3h.5M179.5 244.8h.5M178.9 236.9h.5M170.6 259.3h.5M195.6 220.3h.5M162.8 231.5h.5M150.3 242.5h.5M171.3 231.2h.5M192.1 252.8h.5M166.4 246.3h.5M171.5 252.6h.5M179.9 237.6h.5M179.5 228.9h.5M182.8 257.0h.5M167.1 245.0h.5M183.9 225.1h.5M195.7 239.4h.5M183.9 234.6h.5M187.0 218.4h.5M170.7 250.3h.5M162.8 246.6h.5M167.1 242.4h.5M155.2 247.8h.5M189.9 223.8h.5M168.8 216.4h.5M176.1 228.8h.5M164.4 227.4h.5M176.0 232.1h.5M159.7 235.1h.5M177.5 227.2h.5M187.1 217.0h.5M177.5 233.1h.5M193.4 229.9h.5M163.0 221.1h.5M199.0 245.8h.5M157.2 233.8h.5M159.0 257.2h.5M174.9 249.6h.5M172.0 244.0h.5M170.5 240.6h.5M174.9 229.1h.5M176.7 240.1h.5M171.5 229.4h.5M158.2 241.1h.5M164.7 255.1h.5M184.5 229.0h.5M190.4 225.5h.5M166.1 235.3h.5M156.0 236.3h.5M167.2 230.3h.5M163.4 247.4h.5M192.9 232.8h.5M194.0 258.4h.5M190.3 241.8h.5M151.7 246.5h.5M166.4 240.5h.5M175.2 226.2h.5M176.0 259.2h.5M175.1 229.3h.5M159.5 243.2h.5M175.5 248.5h.5M161.2 256.6h.5M178.8 253.1h.5M151.2 238.0h.5M190.0 238.0h.5M174.5 230.1h.5M187.0 229.2h.5M151.5 260.5h.5M172.8 240.7h.5M164.7 235.3h.5M154.8 220.8h.5M155.1 246.1h.5M171.4 248.4h.5M157.3 245.5h.5M166.0 239.1h.5M184.8 238.4h.5M167.2 216.9h.5M172.9 248.0h.5M163.4 237.2h.5M177.5 254.5h.5M167.8 216.7h.5M166.8 218.1h.5M176.1 236.1h.5M186.2 233.2h.5M176.6 240.5h.5M178.1 219.3h.5M181.7 249.2h.5M159.7 257.0h.5M172.3 246.7h.5M179.6 249.3h.5M163.2 230.5h.5M177.2 245.8h.5M179.9 242.3h.5M165.3 252.1h.5M178.5 251.6h.5M162.9 239.5h.5M165.4 234.0h.5M174.7 242.4h.5M161.2 244.9h.5M160.4 243.5h.5M166.9 225.9h.5M188.1 259.2h.5M170.6 237.4h.5M185.2 221.0h.5M160.0 252.5h.5M184.4 231.7h.5M161.3 242.5h.5M152.5 231.6h.5M180.2 247.8h.5M186.8 219.5h.5M154.2 227.5h.5M158.5 234.0h.5M174.9 243.9h.5M192.1 224.0h.5M184.2 239.9h.5M155.8 239.9h.5M152.6 258.9h.5M161.9 251.0h.5M190.1 230.0h.5M159.5 239.7h.5M157.4 249.6h.5M174.4 228.2h.5M162.5 247.4h.5M151.9 259.8h.5M161.1 235.5h.5M159.1 259.0h.5M183.5 254.8h.5M181.1 239.2h.5M195.6 246.6h.5M178.1 245.5h.5M182.2 241.6h.5M169.7 217.4h.5M199.0 253.8h.5M163.6 241.4h.5M167.3 241.8h.5M188.4 222.4h.5M176.6 239.0h.5M174.1 239.9h.5M166.9 220.3h.5M178.3 243.0h.5M180.1 254.2h.5M159.2 243.2h.5M171.8 247.5h.5M169.6 230.2h.5M175.4 244.8h.5M158.4 255.1h.5M188.0 243.8h.5M170.5 234.9h.5M158.4 231.5h.5M185.9 226.0h.5M164.7 249.2h.5M198.0 229.0h.5M187.4 229.5h.5M177.4 244.3h.5M156.1 251.3h.5M197.2 238.7h.5M175.8 222.8h.5M197.0 238.8h.5M154.1 247.9h.5M151.5 229.1h.5M162.9 230.5h.5M164.1 245.2h.5M192.4 224.9h.5M178.2 214.6h.5M193.3 236.9h.5M162.2 257.9h.5M170.5 255.8h.5M187.0 259.5h.5M160.8 238.7h.5M177.2 235.5h.5M193.3 228.7h.5M186.0 255.7h.5M159.3 230.9h.5M177.5 235.7h.5M173.1 232.0h.5M170.9 244.3h.5M182.4 227.8h.5M170.4 228.1h.5M169.5 219.3h.5M185.4 246.7h.5M170.3 229.1h.5M165.6 229.3h.5M150.4 259.2h.5M155.7 245.5h.5M180.5 217.5h.5M165.1 239.1h.5M172.0 230.7h.5M170.0 234.1h.5M189.4 236.8h.5M171.6 231.1h.5M163.1 228.4h.5M187.6 241.1h.5M195.4 251.2h.5M174.9 235.9h.5M156.6 241.2h.5M167.6 217.4h.5M175.0 244.5h.5M174.8 232.0h.5M178.5 252.1h.5M167.7 244.7h.5M186.4 231.7h.5M174.4 228.4h.5M180.4 233.2h.5M188.0 228.1h.5M195.6 234.0h.5M160.2 226.3h.5M181.3 226.9h.5M197.3 254.7h.5M179.3 219.5h.5M171.7 228.6h.5M183.3 254.7h.5M158.5 233.6h.5M175.8 244.1h.5M156.0 240.8h.5M170.5 250.4h.5M165.0 233.9h.5M182.1 229.8h.5M183.8 251.3h.5M185.5 235.3h.5M160.4 234.7h.5M181.3 239.6h.5M180.1 245.5h.5M159.6 225.8h.5M192.2 231.7h.5M160.3 225.9h.5M185.5 223.3h.5M159.8 251.6h.5M173.8 238.7h.5M163.0 235.1h.5M165.0 237.7h.5M182.8 221.5h.5M193.1 237.0h.5M171.8 237.2h.5M186.1 242.2h.5M183.9 235.8h.5M170.3 237.3h.5M181.4 238.7h.5M183.4 260.2h.5M198.1 256.0h.5M159.7 236.9h.5M186.0 235.2h.5M170.3 233.4h.5M189.8 251.8h.5M171.0 245.3h.5M158.4 252.4h.5M191.5 237.3h.5M167.3 231.7h.5M169.3 221.7h.5M153.0 259.6h.5M171.8 245.2h.5M176.3 244.2h.5M150.6 225.7h.5M180.9 251.0h.5M156.0 230.5h.5M157.0 246.5h.5M176.8 238.4h.5M162.9 242.5h.5M172.4 228.3h.5M176.7 229.4h.5M185.3 246.1h.5M162.4 245.6h.5M172.9 228.8h.5M159.2 216.4h.5M156.2 242.5h.5M188.9 229.8h.5M174.2 242.5h.5M182.9 243.8h.5M189.2 248.0h.5M161.3 243.2h.5M172.3 245.5h.5M167.8 248.8h.5M190.5 227.1h.5M164.4 241.4h.5M178.9 239.9h.5M183.6 222.6h.5M182.9 253.2h.5M187.5 243.5h.5M168.7 243.2h.5M171.0 217.4h.5M163.5 237.5h.5M164.8 225.9h.5M168.8 233.2h.5M173.0 237.4h.5M174.4 250.9h.5M173.9 243.3h.5M166.4 246.8h.5M167.3 229.9h.5M154.6 249.6h.5M164.6 241.2h.5M187.8 245.0h.5M185.4 247.0h.5M162.8 238.6h.5M164.1 224.7h.5M176.2 227.9h.5M195.5 228.4h.5M164.4 239.2h.5M164.7 238.7h.5M163.5 219.5h.5M193.3 243.8h.5M174.2 232.0h.5M170.0 241.9h.5M152.5 227.6h.5M159.5 254.4h.5M157.2 253.2h.5M170.9 238.4h.5M190.9 249.4h.5M185.1 224.1h.5M187.9 259.8h.5M170.6 231.7h.5M156.7 251.2h.5M176.1 238.1h.5M154.7 259.1h.5M184.3 237.7h.5M192.7 225.6h.5M184.3 225.0h.5M191.8 234.4h.5M189.1 232.6h.5M177.6 252.8h.5M159.4 239.3h.5M160.3 249.1h.5M163.5 233.2h.5M169.2 253.1h.5M157.4 237.7h.5M167.4 230.9h.5M161.0 235.9h.5M174.7 217.9h.5M175.3 222.6h.5M158.5 237.1h.5M168.4 250.8h.5M165.4 214.8h.5M175.5 251.9h.5M164.5 246.7h.5M157.1 254.8h.5M171.0 229.2h.5M174.5 260.7h.5M160.1 221.9h.5M157.8 223.0h.5M171.3 242.6h.5M169.7 240.6h.5M188.6 234.2h.5M175.4 229.2h.5M168.5 243.3h.5M178.5 217.6h.5M158.6 239.0h.5M170.0 252.9h.5M188.4 216.7h.5M158.4 243.1h.5M175.3 245.0h.5M179.6 228.7h.5M189.6 216.0h.5M163.8 241.8h.5M173.9 225.5h.5M194.1 257.1h.5M158.9 242.9h.5M163.1 232.4h.5M185.8 239.6h.5M170.5 239.3h.5M155.6 253.9h.5M161.5 255.0h.5M165.6 232.1h.5M192.8 240.5h.5M163.0 231.0h.5M180.6 232.9h.5M156.3 229.3h.5M170.3 241.2h.5M162.8 254.6h.5M158.6 228.7h.5M179.0 244.3h.5M166.5 250.5h.5M152.3 259.2h.5M172.8 255.3h.5M169.2 240.5h.5M179.3 215.3h.5M169.1 260.3h.5M184.9 242.3h.5M174.7 256.0h.5M176.7 213.4h.5M158.8 234.2h.5M174.0 232.2h.5M170.5 259.7h.5M185.1 245.8h.5M172.2 238.8h.5M177.1 241.1h.5M161.9 248.2h.5M160.4 237.5h.5M184.9 237.8h.5M198.6 220.8h.5M175.5 236.7h.5M168.7 254.7h.5M160.8 255.5h.5M168.0 228.9h.5M180.6 240.1h.5M164.4 216.6h.5M197.3 230.6h.5M156.1 244.7h.5M176.6 228.6h.5M166.6 253.9h.5M167.1 233.0h.5M197.4 230.2h.5M170.2 220.4h.5M183.0 245.1h.5M172.4 232.4h.5M161.9 251.2h.5M172.9 253.3h.5M168.9 248.4h.5M151.9 223.3h.5M197.6 245.9h.5M183.6 236.9h.5M173.6 222.2h.5M159.0 244.1h.5M184.5 225.2h.5M182.1 219.2h.5M180.5 220.9h.5M175.5 227.9h.5M177.5 219.1h.5M174.2 242.7h.5M157.1 227.6h.5M183.8 239.3h.5M180.7 250.7h.5M178.5 223.4h.5M172.2 253.2h.5M178.3 249.4h.5M168.3 234.5h.5M198.0 252.8h.5M182.5 217.7h.5M180.5 214.1h.5M196.3 260.1h.5M186.2 225.6h.5M191.9 221.2h.5M191.1 238.0h.5M151.3 256.1h.5M172.1 253.2h.5M184.2 238.6h.5M192.8 222.4h.5M194.5 229.1h.5" stroke="#666" stroke-width="0.55" opacity="0.5" fill="none"/>
<ellipse transform="translate(161.0 229.2) rotate(18)" rx="8.60" ry="12.60" fill="#d6d6d6" stroke="#8a8a8a" stroke-width="0.3"/>
<ellipse transform="translate(161.0 229.2) rotate(18)" rx="6.71" ry="9.83" fill="#c9c9c9" stroke="#8a8a8a" stroke-width="0.3" stroke-dasharray="0.8 0.5"/>
<ellipse transform="translate(161.0 229.2) rotate(18)" rx="4.30" ry="6.30" fill="#e2e2e2" stroke="#8a8a8a" stroke-width="0.25"/>
<ellipse transform="translate(161.0 229.2) rotate(18)" cx="-0.86" cy="0" rx="1.4" ry="1.2" fill="#fff"/>
<ellipse transform="translate(177.6 233.6) rotate(30)" rx="7.20" ry="11.80" fill="#d6d6d6" stroke="#8a8a8a" stroke-width="0.3"/>
<ellipse transform="translate(177.6 233.6) rotate(30)" rx="5.62" ry="9.20" fill="#c9c9c9" stroke="#8a8a8a" stroke-width="0.3" stroke-dasharray="0.8 0.5"/>
<ellipse transform="translate(177.6 233.6) rotate(30)" rx="3.60" ry="5.90" fill="#e2e2e2" stroke="#8a8a8a" stroke-width="0.25"/>
<ellipse transform="translate(177.6 233.6) rotate(30)" cx="-0.72" cy="0" rx="0.7" ry="1.3" fill="#fff"/>
<ellipse transform="translate(174.7 251.5) rotate(0)" rx="12.00" ry="5.90" fill="#d8d8d8" stroke="#8a8a8a" stroke-width="0.3"/>
<ellipse transform="translate(174.7 251.5) rotate(0)" rx="9.36" ry="4.60" fill="#cacaca" stroke="#8a8a8a" stroke-width="0.3" stroke-dasharray="0.8 0.5"/>
<ellipse transform="translate(174.7 251.5) rotate(0)" rx="6.00" ry="2.95" fill="#dedede" stroke="#8a8a8a" stroke-width="0.25"/>
<ellipse transform="translate(161.0 229.2) rotate(18)" rx="9.6" ry="13.7" fill="none" stroke="#e8b222" stroke-width="1.25"/>
<ellipse transform="translate(177.6 233.6) rotate(30)" rx="8.2" ry="12.9" fill="none" stroke="#1b7f9b" stroke-width="1.25"/>
<ellipse cx="174.7" cy="251.5" rx="13.2" ry="7.0" fill="none" stroke="#d63a32" stroke-width="1.25"/>
<text x="155.5" y="217.9" font-size="5.0" text-anchor="middle" font-weight="normal" font-style="normal" fill="#222" stroke="#222" stroke-width="0.14">34.3</text>
<text x="190.2" y="221.3" font-size="5.0" text-anchor="middle" font-weight="normal" font-style="normal" fill="#222" stroke="#222" stroke-width="0.14">27.6</text>
<text x="195.8" y="254.9" font-size="5.0" text-anchor="middle" font-weight="normal" font-style="normal" fill="#222" stroke="#222" stroke-width="0.14">29.2</text>
<rect x="149.5" y="211.5" width="51.0" height="51.0" fill="none" stroke="#111" stroke-width="1.3"/>
<text x="145.3" y="235.5" font-size="6.6" text-anchor="middle" font-weight="normal" font-style="normal" fill="#222" stroke="#222" stroke-width="0.14" transform="rotate(-90 145.3 235.5)">CD103</text>
<text x="175.0" y="270.6" font-size="6.6" text-anchor="middle" font-weight="normal" font-style="normal" fill="#222" stroke="#222" stroke-width="0.14">CD11b</text>
<path d="M113.2 292.3h.5M108.8 292.4h.5M103.1 287.8h.5M109.6 297.3h.5M102.8 310.9h.5M119.4 280.8h.5M114.6 290.4h.5M107.8 284.0h.5M119.1 283.7h.5M105.4 284.6h.5M121.3 302.1h.5M95.6 287.0h.5M108.9 287.2h.5M103.2 281.5h.5M108.0 281.3h.5M112.6 312.3h.5M103.4 305.6h.5M108.9 285.1h.5M103.3 282.5h.5M106.9 297.2h.5M113.3 288.5h.5M96.6 290.3h.5M119.2 293.5h.5M105.5 272.6h.5M102.6 295.8h.5M98.5 303.0h.5M101.5 283.3h.5M101.4 290.2h.5M113.9 286.0h.5M91.9 290.3h.5M110.1 304.6h.5M97.2 304.1h.5M111.3 295.0h.5M100.0 283.2h.5M98.5 299.3h.5M107.7 300.5h.5M120.3 291.2h.5M105.6 308.0h.5M95.7 287.1h.5M103.1 287.7h.5M107.1 283.6h.5M115.1 279.0h.5M99.6 276.1h.5M95.0 296.2h.5M111.0 289.3h.5M112.6 296.5h.5M101.5 290.7h.5M108.9 308.8h.5M102.5 294.3h.5M110.3 301.8h.5M109.3 300.5h.5M97.6 288.7h.5M90.8 290.6h.5M124.3 293.2h.5M106.7 293.4h.5M107.1 279.4h.5M100.6 289.5h.5M107.3 283.4h.5M105.2 284.6h.5M95.6 285.3h.5M99.7 298.4h.5M116.5 296.2h.5M104.3 286.2h.5M93.7 286.4h.5M118.3 301.2h.5M107.8 288.9h.5M106.0 294.8h.5M105.9 294.8h.5M99.9 291.5h.5M103.2 300.5h.5M96.2 302.5h.5M105.3 286.6h.5M106.2 292.1h.5M104.2 294.8h.5M101.5 276.2h.5M111.5 290.8h.5M119.1 294.5h.5M90.3 302.0h.5M100.6 295.9h.5M123.5 300.6h.5M97.4 290.3h.5M93.4 296.9h.5M110.4 282.1h.5M109.6 299.3h.5M112.4 285.2h.5M100.6 281.2h.5M95.8 293.8h.5M106.3 302.5h.5M108.2 288.2h.5M94.8 304.6h.5M107.3 290.8h.5M98.1 281.9h.5M111.0 282.5h.5M110.6 296.6h.5M103.0 276.9h.5M109.2 303.4h.5M99.5 280.0h.5M114.6 292.3h.5M101.1 301.8h.5M103.8 295.0h.5M102.8 284.5h.5M107.7 283.6h.5M92.1 286.4h.5M115.7 300.7h.5M123.1 299.8h.5M118.7 293.3h.5M102.6 295.2h.5M98.5 297.5h.5M102.5 293.3h.5M99.3 289.9h.5M113.7 289.2h.5M100.7 293.6h.5M112.9 289.5h.5M96.8 277.5h.5M95.5 300.4h.5M105.3 295.3h.5M114.4 293.6h.5M109.8 286.7h.5M93.4 296.6h.5M105.2 296.1h.5M97.6 289.9h.5M121.8 283.8h.5M106.8 302.5h.5M104.2 292.2h.5M89.3 297.9h.5M102.5 302.3h.5M105.3 287.9h.5M109.4 289.0h.5M102.0 304.5h.5M113.7 292.1h.5M112.3 298.3h.5M110.6 291.5h.5M106.6 294.7h.5M110.4 294.2h.5M101.7 290.5h.5M109.6 282.6h.5M105.9 297.7h.5M107.3 288.6h.5M105.8 286.9h.5M113.7 287.9h.5M93.0 280.7h.5M108.3 292.9h.5M102.3 279.8h.5M104.8 283.9h.5M100.9 291.1h.5M100.0 293.8h.5M100.2 287.1h.5M104.2 303.8h.5M118.4 299.3h.5M100.2 291.2h.5M113.2 298.1h.5M93.2 290.7h.5M100.2 297.6h.5M111.0 286.5h.5M122.8 288.7h.5M125.1 289.7h.5M105.3 307.5h.5M101.9 287.1h.5M117.6 290.8h.5M109.7 280.3h.5M120.0 299.6h.5M108.8 297.2h.5M102.1 287.1h.5M93.7 294.3h.5M115.7 298.5h.5M113.2 297.2h.5M98.8 279.9h.5M111.0 292.6h.5M113.7 288.8h.5M99.1 295.0h.5M101.6 277.1h.5M101.2 283.6h.5M97.3 286.4h.5M113.4 311.3h.5M119.5 287.6h.5M114.9 290.5h.5M109.2 285.3h.5M105.4 276.8h.5M120.0 284.6h.5M110.6 286.1h.5M108.1 281.1h.5M103.1 299.0h.5M110.7 274.5h.5M112.7 279.9h.5M108.2 295.6h.5M101.0 288.4h.5M104.1 294.6h.5M113.2 302.8h.5M108.6 308.2h.5M98.6 306.4h.5M104.0 297.7h.5M105.0 291.9h.5M98.8 294.5h.5M121.9 292.4h.5M105.8 291.2h.5M111.6 289.4h.5M106.0 293.0h.5M116.2 299.3h.5M97.8 285.7h.5M106.2 298.4h.5M113.6 289.4h.5M122.7 289.8h.5M117.0 303.3h.5M118.5 292.9h.5M110.5 278.1h.5M92.1 285.9h.5M111.6 300.2h.5M105.2 300.0h.5M110.5 304.2h.5M93.5 284.1h.5M98.5 282.2h.5M118.9 283.2h.5M99.5 287.7h.5M112.9 287.2h.5M111.8 295.9h.5M101.0 270.9h.5M98.8 280.5h.5M118.8 285.0h.5M97.6 294.4h.5M106.4 283.1h.5M114.6 299.0h.5M108.2 284.7h.5M99.2 273.6h.5M109.0 294.5h.5M98.8 291.4h.5M131.7 281.5h.5M92.6 296.4h.5M102.7 286.9h.5M110.9 290.0h.5M113.8 295.5h.5M115.1 292.2h.5M89.1 302.7h.5M92.7 300.0h.5M108.0 279.3h.5M106.5 298.7h.5M98.0 291.5h.5M100.2 282.5h.5M101.2 302.0h.5M111.4 290.9h.5M105.4 292.2h.5M108.2 292.7h.5M92.5 299.0h.5M99.3 268.8h.5M111.5 280.8h.5M104.9 290.3h.5M101.4 295.7h.5M103.9 288.7h.5M98.5 288.7h.5M97.9 291.5h.5M116.4 299.7h.5M109.4 279.4h.5M114.1 299.1h.5M122.2 271.8h.5M106.1 288.2h.5M114.5 281.8h.5M103.0 311.0h.5M113.8 274.0h.5M106.2 302.8h.5M101.1 296.2h.5M106.8 278.6h.5M101.1 300.8h.5M115.3 285.9h.5M114.8 285.0h.5M107.9 290.9h.5M96.2 293.8h.5M102.9 267.6h.5M99.5 283.8h.5M99.4 282.7h.5M100.6 270.1h.5M113.0 291.7h.5M108.0 288.8h.5M106.5 288.8h.5M97.4 278.0h.5M106.6 299.8h.5M107.8 304.9h.5M95.3 288.8h.5M101.1 301.6h.5M119.3 286.6h.5M111.8 289.0h.5M98.1 290.1h.5M97.8 304.4h.5M110.6 301.3h.5M108.8 270.2h.5M112.3 291.8h.5M87.2 291.9h.5M114.0 305.7h.5M98.0 297.8h.5M108.6 289.6h.5M103.8 295.6h.5M110.5 296.7h.5M102.8 279.7h.5M116.4 302.2h.5M101.6 290.8h.5M112.4 275.9h.5M109.9 311.9h.5M108.1 285.0h.5M122.1 291.1h.5M107.7 287.4h.5M107.4 275.6h.5M95.9 278.3h.5M113.1 290.2h.5M115.1 273.5h.5M101.3 303.6h.5M99.8 275.0h.5M100.1 288.1h.5M105.9 302.3h.5M116.5 304.4h.5M110.6 286.7h.5M102.1 278.3h.5M116.0 301.8h.5M106.7 283.3h.5M111.3 295.2h.5M107.2 281.0h.5M107.9 286.1h.5M111.8 296.2h.5M109.5 287.3h.5M118.0 297.7h.5M116.0 298.3h.5M111.2 294.4h.5M97.6 275.3h.5M98.6 296.3h.5M113.2 292.6h.5M106.7 306.8h.5M102.9 275.6h.5M93.8 288.2h.5M111.5 297.4h.5M104.3 298.1h.5M105.6 284.8h.5M103.0 297.5h.5M113.5 281.3h.5M98.2 292.1h.5M122.7 280.9h.5M96.2 294.6h.5M110.0 285.7h.5M105.8 295.2h.5M92.3 290.8h.5M110.7 299.0h.5M115.1 290.4h.5M94.7 302.6h.5M112.1 285.5h.5M114.1 300.0h.5M104.9 270.6h.5M102.3 284.5h.5M99.4 290.3h.5M97.5 294.4h.5M120.8 280.7h.5M114.2 286.4h.5M110.3 289.9h.5M116.1 284.9h.5M111.7 284.3h.5M97.7 302.9h.5M107.8 287.9h.5M94.4 298.7h.5M103.4 302.0h.5M86.2 310.3h.5M111.0 298.2h.5M91.2 306.6h.5M108.2 308.1h.5M107.3 301.9h.5M87.6 311.4h.5M86.9 306.4h.5M89.4 313.7h.5M87.5 300.4h.5M101.7 304.9h.5M101.8 298.3h.5M97.5 292.4h.5M99.3 304.0h.5M85.9 289.7h.5M99.3 295.3h.5M108.9 308.2h.5M90.2 297.1h.5M108.3 306.1h.5M114.2 306.5h.5M88.2 297.3h.5M86.8 305.4h.5M98.0 308.8h.5M100.3 292.9h.5M92.6 294.0h.5M100.6 290.4h.5M88.2 294.8h.5M87.8 300.5h.5M112.7 300.5h.5M103.8 308.3h.5M108.0 303.9h.5M109.2 290.2h.5M93.0 294.7h.5M106.7 302.1h.5M96.7 302.9h.5M97.1 301.3h.5M96.3 294.4h.5M91.7 303.2h.5M96.1 296.0h.5M94.6 303.1h.5M96.5 288.8h.5M91.0 297.1h.5M93.9 296.4h.5M90.9 311.5h.5M104.2 308.2h.5M93.0 290.0h.5M109.9 314.2h.5M98.2 306.6h.5M94.8 315.0h.5M104.1 299.9h.5M95.0 287.6h.5M86.5 300.1h.5M123.6 295.2h.5M105.7 303.7h.5M91.6 309.0h.5M117.6 305.8h.5M94.3 304.5h.5M102.7 298.3h.5M96.4 307.8h.5M90.9 306.7h.5M98.9 309.9h.5M90.0 314.5h.5M97.9 287.1h.5M99.0 290.6h.5M90.8 300.1h.5M117.4 293.6h.5M113.2 306.3h.5M96.1 315.4h.5M100.6 295.0h.5M101.0 316.1h.5M104.3 305.0h.5M100.0 306.8h.5M87.7 301.9h.5M96.5 298.7h.5M100.9 308.0h.5M96.3 291.8h.5M104.9 299.2h.5M101.2 298.8h.5M112.3 316.1h.5M98.0 286.6h.5M90.6 300.3h.5M100.4 301.8h.5M99.0 287.3h.5M121.9 309.3h.5M90.2 314.9h.5M108.7 304.8h.5M115.9 312.5h.5M89.4 293.6h.5M123.7 299.1h.5M99.8 301.9h.5M89.5 287.5h.5M93.3 301.9h.5M106.4 298.1h.5M94.5 305.4h.5M103.4 299.3h.5M101.3 304.4h.5M114.7 302.5h.5M96.7 308.5h.5M109.2 294.1h.5M89.5 300.4h.5M107.5 303.2h.5M134.2 315.2h.5M105.6 289.4h.5M112.9 307.0h.5M103.8 312.5h.5M97.0 298.0h.5M103.9 295.7h.5M94.1 310.4h.5M103.3 302.5h.5M105.7 303.9h.5M92.6 307.7h.5M92.2 304.3h.5M107.1 297.5h.5M108.4 292.3h.5M92.4 286.3h.5M99.2 315.2h.5M100.4 311.0h.5M104.8 286.9h.5M101.0 302.3h.5M96.4 307.6h.5M91.7 286.7h.5M110.3 296.1h.5M86.1 291.9h.5M89.3 300.7h.5M87.3 310.6h.5M100.1 302.2h.5M114.1 304.7h.5M85.4 297.8h.5M95.1 304.8h.5M114.9 286.2h.5M92.0 313.9h.5M93.1 306.1h.5M112.8 291.1h.5M95.5 310.7h.5M88.1 286.1h.5M110.5 288.1h.5M107.1 311.8h.5M113.9 301.5h.5M88.5 304.4h.5M113.1 309.0h.5M114.8 310.6h.5M88.1 293.2h.5M116.7 288.4h.5M90.9 299.9h.5M94.2 297.9h.5M96.5 312.1h.5M85.5 299.1h.5M105.2 300.3h.5M90.4 300.0h.5M87.9 296.0h.5M101.0 304.1h.5M88.2 300.7h.5M89.2 316.0h.5M106.7 296.0h.5M94.5 316.3h.5M100.2 309.5h.5M99.0 308.6h.5M100.6 308.1h.5M89.1 311.7h.5M95.7 292.8h.5M98.9 281.6h.5M88.0 308.4h.5M97.0 309.0h.5M85.6 316.0h.5M94.2 302.8h.5M91.9 292.7h.5M103.4 306.3h.5M95.1 311.3h.5M92.9 312.1h.5M100.3 285.9h.5M87.0 283.3h.5M91.7 299.0h.5M101.9 304.7h.5M94.3 315.2h.5M102.0 291.1h.5M86.9 306.2h.5M114.9 301.1h.5M93.0 305.6h.5M104.2 302.1h.5M98.5 298.9h.5M88.6 295.3h.5M102.7 297.6h.5M101.4 306.9h.5M106.4 277.0h.5M93.1 310.8h.5M110.9 306.7h.5M90.5 308.2h.5M95.1 309.0h.5M87.5 302.6h.5M99.1 299.6h.5M99.1 309.6h.5M105.6 296.1h.5M116.8 307.9h.5M105.4 304.0h.5M105.1 313.6h.5M96.3 297.9h.5M92.9 298.6h.5M86.7 286.6h.5M89.1 306.2h.5M89.3 295.6h.5M99.8 307.5h.5M89.9 306.0h.5M96.6 298.9h.5M112.8 286.0h.5M96.4 290.7h.5M98.7 290.3h.5M101.8 308.2h.5M115.0 314.7h.5M89.6 312.2h.5M89.6 301.9h.5M89.1 285.9h.5M102.1 283.2h.5M92.2 308.1h.5M96.3 287.7h.5M87.4 309.6h.5M89.4 310.4h.5M103.3 296.7h.5M90.8 293.5h.5M108.1 290.1h.5M98.2 294.9h.5M101.8 306.3h.5M98.3 302.4h.5M100.4 291.6h.5M117.8 315.0h.5M100.2 306.3h.5M87.0 290.4h.5M101.4 288.6h.5M98.5 301.6h.5M103.8 303.5h.5M96.2 297.3h.5M103.2 313.2h.5M111.2 293.3h.5M98.7 288.2h.5M89.8 293.0h.5M120.6 304.0h.5M91.9 291.7h.5M99.0 298.4h.5M100.2 294.3h.5M112.3 302.5h.5M100.9 304.4h.5M108.8 309.0h.5M90.9 310.0h.5M90.4 304.3h.5M114.3 292.7h.5M89.1 315.7h.5M113.6 298.6h.5M97.2 299.5h.5M91.7 284.4h.5M91.8 288.2h.5M134.8 308.4h.5M133.4 278.4h.5M96.6 268.6h.5M99.2 270.3h.5M111.9 282.2h.5M119.2 295.0h.5M115.4 282.2h.5M122.2 301.3h.5M121.2 290.6h.5M108.7 281.5h.5M87.5 290.3h.5M116.3 276.6h.5M128.5 310.6h.5M128.2 307.5h.5M109.9 276.1h.5M99.1 303.6h.5M134.7 273.0h.5M85.8 284.8h.5M103.0 296.8h.5M91.1 308.8h.5M102.4 312.0h.5M102.0 282.5h.5M94.3 314.8h.5M115.0 308.0h.5M88.7 294.1h.5M122.2 315.7h.5M132.3 272.6h.5M104.2 316.4h.5M112.2 314.4h.5M98.2 268.8h.5M132.8 280.4h.5M113.5 285.2h.5M114.4 313.3h.5M132.8 310.5h.5M98.3 307.7h.5M86.4 287.9h.5M132.7 280.0h.5M103.9 296.0h.5M97.3 302.2h.5M118.1 272.2h.5M131.5 271.0h.5M120.3 284.6h.5M92.7 271.3h.5M135.4 306.7h.5M108.4 306.4h.5M134.0 312.9h.5M112.1 281.0h.5M111.4 315.6h.5M122.0 300.3h.5M127.6 287.5h.5M113.4 309.1h.5M95.5 309.6h.5M86.7 293.8h.5M114.2 274.7h.5M131.6 289.0h.5M94.8 287.7h.5M115.1 288.5h.5M85.6 272.0h.5" stroke="#555" stroke-width="0.55" opacity="0.55" fill="none"/>
<ellipse transform="translate(105.2 291.5) rotate(25)" rx="6.60" ry="8.60" fill="#a5a5a5" stroke="#444" stroke-width="0.3"/>
<ellipse transform="translate(105.2 291.5) rotate(25)" rx="5.15" ry="6.71" fill="#858585" stroke="#444" stroke-width="0.3" stroke-dasharray="0.8 0.5"/>
<ellipse transform="translate(105.2 291.5) rotate(25)" rx="3.30" ry="4.30" fill="#606060" stroke="#444" stroke-width="0.25"/>
<ellipse transform="translate(91.6 307.5) rotate(0)" rx="6.40" ry="6.10" fill="#bdbdbd" stroke="#111" stroke-width="1.4"/>
<ellipse transform="translate(91.6 307.5) rotate(0)" rx="4.99" ry="4.76" fill="#a8a8a8" stroke="#555" stroke-width="0.3" stroke-dasharray="0.8 0.5"/>
<ellipse transform="translate(91.6 307.5) rotate(0)" rx="3.20" ry="3.05" fill="#cfcfcf" stroke="#555" stroke-width="0.25"/>
<ellipse transform="translate(91.6 307.5) rotate(0)" cx="-0.64" cy="0" rx="1.5" ry="1.3" fill="#fff"/>
<ellipse transform="translate(105.8 291.2) rotate(25)" rx="8.8" ry="10.8" fill="none" stroke="#8a1a9a" stroke-width="1.1"/>
<text x="120.4" y="296.9" font-size="5.0" text-anchor="middle" font-weight="normal" font-style="normal" fill="#222" stroke="#222" stroke-width="0.14">3.47</text>
<rect x="84.5" y="266.5" width="52.0" height="51.0" fill="none" stroke="#111" stroke-width="1.3"/>
<text x="80.2" y="292.0" font-size="6.6" text-anchor="middle" font-weight="normal" font-style="normal" fill="#222" stroke="#222" stroke-width="0.14" transform="rotate(-90 80.2 292.0)">CD64</text>
<text x="110.4" y="325.0" font-size="6.6" text-anchor="middle" font-weight="normal" font-style="normal" fill="#222" stroke="#222" stroke-width="0.14">F4/80</text>
<line x1="60.00" y1="262.50" x2="60.00" y2="288.60" stroke="#111" stroke-width="1.0" />
<line x1="59.50" y1="288.60" x2="70.00" y2="288.60" stroke="#111" stroke-width="1.0" />
<polygon points="69.5,286.20000000000005 73.5,288.6 69.5,291.0" fill="#111"/>
<text x="37.3" y="296.0" font-size="6.6" text-anchor="start" font-weight="normal" font-style="normal" fill="#222" stroke="#222" stroke-width="0.14">gated on</text>
<text x="37.3" y="303.8" font-size="6.6" text-anchor="start" font-weight="normal" font-style="normal" fill="#222" stroke="#222" stroke-width="0.14">non-DC</text>
<text x="154.5" y="286.0" font-size="6.6" text-anchor="start" font-weight="normal" font-style="normal" fill="#222" stroke="#222" stroke-width="0.14">8hrs post</text>
<text x="154.5" y="293.7" font-size="6.6" text-anchor="start" font-weight="normal" font-style="normal" fill="#222" stroke="#222" stroke-width="0.14">irradiation</text>
<text x="154.5" y="301.2" font-size="6.6" text-anchor="start" font-weight="normal" font-style="normal" fill="#222" stroke="#222" stroke-width="0.14">B6.WT - mLN</text>
<text x="222.5" y="201.3" font-size="11" text-anchor="start" font-weight="bold" font-style="normal" fill="#111" stroke="#111" stroke-width="0.14">E</text>
<text x="281.5" y="213.8" font-size="8" text-anchor="middle" font-weight="normal" font-style="italic" fill="#222" stroke="#222" stroke-width="0.14">IL6</text>
<line x1="250.20" y1="226.30" x2="250.20" y2="296.55" stroke="#111" stroke-width="1.1" />
<line x1="249.65" y1="296.00" x2="312.30" y2="296.00" stroke="#111" stroke-width="1.1" />
<line x1="247.00" y1="296.00" x2="250.20" y2="296.00" stroke="#111" stroke-width="0.9" />
<text x="245.6" y="298.1" font-size="6.0" text-anchor="end" font-weight="normal" font-style="normal" fill="#333" stroke="#333" stroke-width="0.14">0</text>
<line x1="247.00" y1="282.46" x2="250.20" y2="282.46" stroke="#111" stroke-width="0.9" />
<text x="245.6" y="284.56" font-size="6.0" text-anchor="end" font-weight="normal" font-style="normal" fill="#333" stroke="#333" stroke-width="0.14">1</text>
<line x1="247.00" y1="268.92" x2="250.20" y2="268.92" stroke="#111" stroke-width="0.9" />
<text x="245.6" y="271.02000000000004" font-size="6.0" text-anchor="end" font-weight="normal" font-style="normal" fill="#333" stroke="#333" stroke-width="0.14">2</text>
<line x1="247.00" y1="255.38" x2="250.20" y2="255.38" stroke="#111" stroke-width="0.9" />
<text x="245.6" y="257.48" font-size="6.0" text-anchor="end" font-weight="normal" font-style="normal" fill="#333" stroke="#333" stroke-width="0.14">3</text>
<line x1="247.00" y1="241.84" x2="250.20" y2="241.84" stroke="#111" stroke-width="0.9" />
<text x="245.6" y="243.94" font-size="6.0" text-anchor="end" font-weight="normal" font-style="normal" fill="#333" stroke="#333" stroke-width="0.14">4</text>
<line x1="247.00" y1="228.30" x2="250.20" y2="228.30" stroke="#111" stroke-width="0.9" />
<text x="245.6" y="230.4" font-size="6.0" text-anchor="end" font-weight="normal" font-style="normal" fill="#333" stroke="#333" stroke-width="0.14">5</text>
<rect x="255.20" y="282.46" width="9.00" height="13.54" fill="#d93a2a" stroke="#97281d" stroke-width="0.6" />
<line x1="259.70" y1="282.46" x2="259.70" y2="279.35" stroke="#111" stroke-width="0.9" />
<line x1="257.00" y1="279.35" x2="262.40" y2="279.35" stroke="#111" stroke-width="1.0" />
<line x1="259.70" y1="296.00" x2="259.70" y2="298.20" stroke="#111" stroke-width="0.9" />
<rect x="269.60" y="291.94" width="9.10" height="4.06" fill="#e8b020" stroke="#a27b16" stroke-width="0.6" />
<line x1="274.15" y1="291.94" x2="274.15" y2="291.26" stroke="#111" stroke-width="0.9" />
<line x1="271.42" y1="291.26" x2="276.88" y2="291.26" stroke="#111" stroke-width="1.0" />
<line x1="274.15" y1="296.00" x2="274.15" y2="298.20" stroke="#111" stroke-width="0.9" />
<rect x="283.80" y="248.61" width="9.20" height="47.39" fill="#137a93" stroke="#0d5566" stroke-width="0.6" />
<line x1="288.40" y1="248.61" x2="288.40" y2="240.49" stroke="#111" stroke-width="0.9" />
<line x1="285.64" y1="240.49" x2="291.16" y2="240.49" stroke="#111" stroke-width="1.0" />
<line x1="288.40" y1="296.00" x2="288.40" y2="298.20" stroke="#111" stroke-width="0.9" />
<rect x="297.90" y="294.65" width="9.60" height="1.35" fill="#6a1a7a" stroke="#4a1255" stroke-width="0.6" />
<line x1="302.70" y1="294.65" x2="302.70" y2="294.10" stroke="#111" stroke-width="0.9" />
<line x1="299.82" y1="294.10" x2="305.58" y2="294.10" stroke="#111" stroke-width="1.0" />
<line x1="302.70" y1="296.00" x2="302.70" y2="298.20" stroke="#111" stroke-width="0.9" />
<text x="234.5" y="261" font-size="6.6" text-anchor="middle" font-weight="normal" font-style="normal" fill="#333" stroke="#333" stroke-width="0.14" transform="rotate(-90 234.5 261)">Relative expression (2<tspan dy="-2.97" font-size="4.22">-ΔΔCt</tspan><tspan dy="2.97" font-size="6.6">&#8203;</tspan>)</text>
<line x1="251.00" y1="282.46" x2="313.00" y2="282.46" stroke="#333" stroke-width="0.9" stroke-dasharray="2.6 1.8"/>
<line x1="260.80" y1="223.50" x2="287.70" y2="223.50" stroke="#333" stroke-width="0.9" />
<text x="274.25" y="223.2" font-size="5.5" text-anchor="middle" font-weight="normal" font-style="normal" fill="#333" stroke="#333" stroke-width="0.14">***</text>
<line x1="275.40" y1="230.50" x2="287.70" y2="230.50" stroke="#333" stroke-width="0.9" />
<text x="281.54999999999995" y="230.2" font-size="5.5" text-anchor="middle" font-weight="normal" font-style="normal" fill="#333" stroke="#333" stroke-width="0.14">**</text>
<line x1="287.30" y1="237.50" x2="299.80" y2="237.50" stroke="#333" stroke-width="0.9" />
<text x="293.55" y="237.2" font-size="5.5" text-anchor="middle" font-weight="normal" font-style="normal" fill="#333" stroke="#333" stroke-width="0.14">***</text>
<rect x="312.90" y="232.60" width="4.20" height="4.00" fill="#d93a2a" stroke="none" stroke-width="0" />
<text x="320.3" y="236.9" font-size="6.3" text-anchor="start" font-weight="normal" font-style="normal" fill="#222" stroke="#222" stroke-width="0.14">CD11b<tspan dy="-2.83" font-size="4.03">+</tspan><tspan dy="2.83" font-size="6.3">&#8203;</tspan>CD103<tspan dy="-2.83" font-size="4.03">neg</tspan><tspan dy="2.83" font-size="6.3">&#8203;</tspan> DC</text>
<rect x="312.90" y="242.90" width="4.20" height="4.00" fill="#e8b020" stroke="none" stroke-width="0" />
<text x="320.3" y="247.2" font-size="6.3" text-anchor="start" font-weight="normal" font-style="normal" fill="#222" stroke="#222" stroke-width="0.14">CD11b<tspan dy="-2.83" font-size="4.03">neg</tspan><tspan dy="2.83" font-size="6.3">&#8203;</tspan>CD103<tspan dy="-2.83" font-size="4.03">+</tspan><tspan dy="2.83" font-size="6.3">&#8203;</tspan> DC</text>
<rect x="312.90" y="253.00" width="4.20" height="4.00" fill="#137a93" stroke="none" stroke-width="0" />
<text x="320.3" y="257.3" font-size="6.3" text-anchor="start" font-weight="normal" font-style="normal" fill="#222" stroke="#222" stroke-width="0.14">CD11b<tspan dy="-2.83" font-size="4.03">+</tspan><tspan dy="2.83" font-size="6.3">&#8203;</tspan>CD103<tspan dy="-2.83" font-size="4.03">+</tspan><tspan dy="2.83" font-size="6.3">&#8203;</tspan> DC</text>
<rect x="312.90" y="262.90" width="4.20" height="4.00" fill="#6a1a7a" stroke="none" stroke-width="0" />
<text x="320.3" y="267.2" font-size="6.3" text-anchor="start" font-weight="normal" font-style="normal" fill="#222" stroke="#222" stroke-width="0.14">F4/80<tspan dy="-2.83" font-size="4.03">+</tspan><tspan dy="2.83" font-size="6.3">&#8203;</tspan>CD64<tspan dy="-2.83" font-size="4.03">+</tspan><tspan dy="2.83" font-size="6.3">&#8203;</tspan> Macs</text>
<text x="7.2" y="347.2" font-size="11" text-anchor="start" font-weight="bold" font-style="normal" fill="#111" stroke="#111" stroke-width="0.14">F</text>
<text x="48.4" y="352.1" font-size="6.6" text-anchor="middle" font-weight="normal" font-style="normal" fill="#222" stroke="#222" stroke-width="0.14">CD11c<tspan dy="-2.97" font-size="4.22">cre</tspan><tspan dy="2.97" font-size="6.6">&#8203;</tspan></text>
<path d="M37.1 390.4h.5M47.3 383.0h.5M38.3 394.6h.5M38.3 384.5h.5M37.1 395.0h.5M33.3 396.1h.5M38.7 396.7h.5M36.9 390.9h.5M39.3 401.4h.5M44.2 393.5h.5M34.8 401.3h.5M41.7 400.1h.5M36.1 388.1h.5M39.3 389.7h.5M45.9 399.9h.5M47.2 401.1h.5M34.7 388.1h.5M44.7 400.9h.5M38.4 386.1h.5M27.5 395.8h.5M32.3 389.3h.5M41.1 401.2h.5M23.8 389.4h.5M46.9 393.7h.5M35.6 398.4h.5M30.2 385.6h.5M38.1 404.7h.5M45.0 394.0h.5M45.0 391.2h.5M29.9 382.5h.5M39.9 400.2h.5M40.6 393.7h.5M35.2 401.5h.5M37.7 384.1h.5M47.4 389.6h.5M40.7 394.0h.5M45.2 395.7h.5M46.4 395.4h.5M34.8 390.5h.5M42.5 388.3h.5M44.4 392.4h.5M31.6 388.0h.5M43.3 394.1h.5M36.1 394.0h.5M35.1 403.1h.5M39.2 390.9h.5M39.3 387.2h.5M30.8 392.9h.5M51.7 386.4h.5M37.0 383.2h.5M39.2 395.5h.5M43.1 384.9h.5M33.9 389.6h.5M36.6 393.7h.5M34.5 399.5h.5M55.6 402.0h.5M48.5 386.6h.5M45.3 394.2h.5M46.6 401.3h.5M42.5 382.5h.5M38.9 390.6h.5M41.1 394.3h.5M45.2 383.0h.5M32.9 393.5h.5M40.2 391.2h.5M37.8 394.4h.5M45.2 393.2h.5M39.7 381.5h.5M40.5 378.2h.5M40.8 393.3h.5M38.0 389.0h.5M35.1 399.7h.5M40.5 393.8h.5M34.6 395.5h.5M46.2 393.9h.5M35.5 385.9h.5M38.7 387.7h.5M28.1 400.0h.5M33.7 380.0h.5M37.3 384.9h.5M30.4 398.9h.5M40.8 395.5h.5M36.7 397.3h.5M48.6 397.4h.5M36.9 384.4h.5M41.1 404.8h.5M42.5 385.4h.5M39.3 402.9h.5M33.6 397.4h.5M46.3 405.3h.5M27.0 382.0h.5M40.6 398.8h.5M35.6 393.9h.5M35.2 402.3h.5M29.2 389.3h.5M27.4 387.7h.5M37.8 394.2h.5M50.3 392.5h.5M40.4 396.4h.5M39.8 404.1h.5M39.0 395.0h.5M37.2 394.0h.5M37.6 400.9h.5M38.1 394.5h.5M37.7 399.2h.5M34.7 400.5h.5M34.1 398.8h.5M51.2 395.6h.5M37.4 385.9h.5M43.1 394.1h.5M44.3 389.5h.5M40.8 391.7h.5M29.0 393.9h.5M42.5 398.1h.5M30.3 386.9h.5M31.3 387.0h.5M36.1 395.8h.5M51.3 395.4h.5M48.0 382.6h.5M48.6 399.5h.5M41.0 399.7h.5M43.6 382.0h.5M25.9 405.1h.5M37.4 403.1h.5M35.6 389.5h.5M35.6 396.2h.5M39.3 389.7h.5M41.7 398.3h.5M31.7 386.3h.5M24.4 391.9h.5M38.1 389.2h.5M33.8 393.1h.5M38.2 397.9h.5M43.8 397.0h.5M45.7 387.3h.5M42.2 396.6h.5M30.8 389.3h.5M41.1 394.5h.5M29.3 390.2h.5M48.5 399.8h.5M38.6 403.3h.5M31.7 392.8h.5M44.6 391.7h.5M30.3 398.1h.5M49.1 376.5h.5M39.1 385.4h.5M35.9 384.2h.5M56.0 389.3h.5M38.3 389.1h.5M31.2 390.9h.5M40.0 404.8h.5M30.6 394.5h.5M35.0 383.2h.5M63.8 392.3h.5M39.7 388.8h.5M34.0 386.8h.5M45.1 391.2h.5M37.0 395.3h.5M29.5 395.6h.5M36.8 397.1h.5M35.3 394.3h.5M41.6 400.7h.5M33.2 400.7h.5M31.2 392.7h.5M38.9 395.0h.5M36.7 400.4h.5M33.1 404.5h.5M25.5 394.5h.5M41.7 394.1h.5M39.8 400.5h.5M32.4 398.1h.5M45.4 392.4h.5M32.1 386.7h.5M41.0 388.4h.5M55.2 397.9h.5M29.0 392.0h.5M48.6 398.7h.5M31.0 401.2h.5M34.2 398.1h.5M41.9 390.9h.5M36.9 402.0h.5M41.4 393.6h.5M44.4 397.3h.5M40.3 383.2h.5M38.9 390.6h.5M43.1 389.8h.5M41.1 386.7h.5M44.2 389.0h.5M37.8 398.0h.5M35.8 394.0h.5M25.5 387.8h.5M42.7 400.5h.5M34.7 394.7h.5M36.6 385.8h.5M27.3 385.2h.5M47.0 391.3h.5M51.5 398.4h.5M40.6 398.5h.5M43.5 400.4h.5M31.2 390.1h.5M34.2 394.7h.5M36.3 385.5h.5M52.7 388.1h.5M40.6 393.7h.5M32.1 398.9h.5M37.5 405.5h.5M41.2 391.9h.5M43.9 389.1h.5M44.1 398.7h.5M25.8 392.6h.5M40.2 399.2h.5M39.1 393.9h.5M35.6 392.0h.5M38.0 386.7h.5M42.4 391.8h.5M41.6 390.5h.5M40.8 394.9h.5M44.2 397.2h.5M44.5 392.9h.5M37.6 392.2h.5M29.1 373.5h.5M43.0 380.6h.5M31.5 376.9h.5M41.0 363.8h.5M38.6 377.1h.5M40.9 376.5h.5M26.2 358.6h.5M48.3 371.4h.5M44.0 384.5h.5M37.0 365.5h.5M44.6 374.2h.5M39.6 378.3h.5M42.2 382.5h.5M28.1 363.4h.5M37.3 374.6h.5M41.1 373.4h.5M35.4 390.5h.5M44.6 383.6h.5M42.6 368.3h.5M36.0 374.0h.5M30.0 367.6h.5M37.5 364.9h.5M39.7 378.2h.5M35.1 371.8h.5M40.1 378.3h.5M38.7 364.9h.5M26.9 390.6h.5M32.6 371.6h.5M25.7 368.2h.5M32.2 380.8h.5M34.1 370.6h.5M31.9 371.0h.5M27.2 376.6h.5M43.6 375.7h.5M33.3 384.4h.5M39.4 366.4h.5M33.1 369.7h.5M36.2 384.0h.5M32.3 373.3h.5M37.2 365.1h.5M33.7 379.3h.5M43.2 359.8h.5M40.7 372.2h.5M44.1 379.4h.5M48.2 376.9h.5M34.2 368.0h.5M28.0 378.9h.5M39.6 380.9h.5M38.6 362.7h.5M34.1 372.6h.5M37.4 380.5h.5M44.9 376.7h.5M24.3 366.5h.5M23.8 368.5h.5M29.4 376.4h.5M35.2 383.3h.5M42.9 370.9h.5M42.1 374.6h.5M39.2 385.1h.5M29.7 374.0h.5M45.6 368.5h.5M37.8 375.5h.5M34.0 364.2h.5M32.4 366.8h.5M42.9 376.5h.5M40.7 365.2h.5M39.5 375.6h.5M42.7 368.8h.5M41.3 385.3h.5M47.2 367.2h.5M29.8 363.0h.5M42.2 379.2h.5M38.5 367.7h.5M43.9 387.1h.5M36.3 373.6h.5M43.6 378.5h.5M44.5 371.3h.5M38.5 371.9h.5M33.1 372.2h.5M34.8 378.5h.5M34.7 375.1h.5M31.7 364.9h.5M45.0 366.8h.5M47.3 381.9h.5M34.0 374.7h.5M35.4 369.8h.5M43.9 373.5h.5M42.2 369.1h.5M32.4 385.0h.5M34.8 365.9h.5M35.5 382.7h.5M35.6 368.9h.5M40.3 382.2h.5M35.3 372.0h.5M34.3 395.7h.5M35.4 388.2h.5M35.6 377.7h.5M24.4 375.9h.5M36.8 372.0h.5M34.1 363.8h.5M43.7 372.8h.5M50.5 370.8h.5M54.1 367.5h.5M49.8 386.0h.5M46.8 367.5h.5M53.2 362.5h.5M47.9 378.3h.5M62.9 372.5h.5M65.3 365.1h.5M64.1 384.7h.5M52.5 385.6h.5M49.2 362.6h.5M55.2 365.2h.5M60.6 362.9h.5M56.2 356.2h.5M55.3 379.7h.5M53.4 373.9h.5M64.1 362.9h.5M45.5 372.1h.5M57.7 369.4h.5M47.9 381.0h.5M46.3 369.5h.5M55.2 377.2h.5M52.0 365.1h.5M71.4 364.9h.5M61.8 370.3h.5M51.8 371.2h.5M53.5 373.9h.5M35.4 371.3h.5M56.1 363.9h.5M52.5 389.8h.5M70.1 376.5h.5M57.4 369.1h.5M66.5 368.0h.5M49.0 376.9h.5M47.9 365.3h.5M67.0 359.0h.5M55.0 372.4h.5M57.6 360.1h.5M53.7 368.9h.5M70.7 379.4h.5M49.6 378.3h.5M60.7 370.6h.5M53.6 369.4h.5M43.3 366.6h.5M62.9 382.8h.5M70.2 368.6h.5M53.4 361.6h.5M62.0 358.6h.5M47.3 362.9h.5M58.7 378.0h.5M48.3 385.6h.5M56.8 365.0h.5M58.3 371.4h.5M62.1 374.2h.5M72.8 380.6h.5M50.5 377.7h.5M61.5 363.7h.5M49.6 365.2h.5M36.0 376.5h.5M53.8 381.1h.5M51.1 372.1h.5M61.3 379.1h.5M58.1 363.4h.5M72.9 378.3h.5M66.3 384.1h.5M66.6 374.7h.5M59.3 376.4h.5M43.7 377.9h.5M47.9 374.8h.5M47.6 377.1h.5M51.7 390.9h.5M57.1 375.5h.5M48.4 369.3h.5M55.1 369.3h.5M52.1 364.7h.5M61.6 368.5h.5M49.1 374.4h.5M49.1 370.1h.5M51.5 364.3h.5M53.8 365.1h.5M45.7 374.3h.5M53.2 360.1h.5M52.4 373.0h.5M58.9 374.4h.5M57.6 376.2h.5M51.7 365.3h.5M60.4 368.3h.5M55.6 376.6h.5M63.0 381.0h.5M50.1 368.6h.5M59.9 360.3h.5M45.6 376.2h.5M50.7 364.3h.5M61.9 375.6h.5M62.8 368.9h.5M53.3 368.9h.5M57.9 355.7h.5M50.1 377.0h.5M49.4 371.0h.5M56.5 375.6h.5M51.8 362.7h.5M69.0 357.8h.5M56.4 370.0h.5M70.5 387.4h.5M63.3 363.6h.5M49.2 365.7h.5M51.5 373.5h.5M49.4 369.6h.5M67.2 382.7h.5M40.9 364.1h.5M52.6 381.6h.5M53.0 386.4h.5M58.4 382.7h.5M48.8 369.1h.5M63.6 376.0h.5M40.9 369.4h.5M57.0 376.4h.5M50.6 385.0h.5M56.8 382.8h.5M58.7 372.2h.5M53.1 362.4h.5M62.4 377.4h.5M62.9 368.6h.5M47.7 368.6h.5M53.1 371.4h.5M63.3 364.4h.5M51.7 376.9h.5M62.7 388.7h.5M59.7 364.9h.5M47.4 365.4h.5M56.1 373.5h.5M55.1 366.8h.5M54.1 370.9h.5M60.2 372.2h.5M49.2 362.4h.5M67.2 370.8h.5M54.2 371.3h.5M64.4 369.1h.5M57.0 369.7h.5M60.1 363.7h.5M57.2 379.5h.5M64.9 376.3h.5M57.9 383.7h.5M61.1 382.4h.5M46.2 363.0h.5M61.9 369.5h.5M52.2 364.2h.5M67.2 362.3h.5M56.4 360.7h.5M54.2 388.9h.5M47.7 384.1h.5M48.9 357.7h.5M58.3 363.2h.5M44.2 380.2h.5M49.9 363.3h.5M56.9 370.1h.5M64.4 372.3h.5M68.1 380.3h.5M69.6 380.2h.5M56.2 375.7h.5M55.8 359.5h.5M46.4 377.3h.5M37.1 365.1h.5M45.5 371.0h.5M47.5 373.4h.5M54.1 367.9h.5M56.2 361.5h.5M53.3 374.4h.5M63.8 377.0h.5M62.7 386.6h.5M57.2 401.1h.5M55.3 388.1h.5M55.3 391.0h.5M48.2 398.7h.5M51.4 388.1h.5M48.0 403.0h.5M46.8 396.8h.5M53.8 399.2h.5M50.7 388.9h.5M48.2 388.5h.5M70.4 394.5h.5M50.4 399.6h.5M57.1 392.6h.5M56.9 394.8h.5M60.3 401.5h.5M50.5 393.3h.5M51.4 399.4h.5M55.2 397.3h.5M58.8 390.4h.5M53.5 400.2h.5M58.9 397.4h.5M50.7 391.8h.5M46.8 392.2h.5M52.2 386.6h.5M60.6 389.8h.5M54.3 396.4h.5M48.8 384.8h.5M59.2 395.5h.5M50.9 399.0h.5M58.7 388.9h.5M52.1 385.0h.5M50.8 400.3h.5M46.9 397.5h.5M42.3 392.1h.5M59.1 401.8h.5M55.7 397.2h.5M64.4 381.7h.5M40.9 402.7h.5M69.5 396.4h.5M53.1 394.8h.5M52.8 390.5h.5M52.5 392.9h.5M57.2 396.8h.5M59.3 396.4h.5M46.0 400.2h.5M34.4 394.1h.5M54.9 391.0h.5M65.4 388.2h.5M44.6 391.1h.5M55.5 397.4h.5M53.4 396.7h.5M47.8 390.6h.5M53.5 387.0h.5M53.9 391.6h.5M57.3 388.6h.5M49.0 390.8h.5M50.1 388.7h.5M50.8 387.0h.5M56.3 396.8h.5M52.5 392.6h.5M46.6 388.9h.5M51.1 389.1h.5M44.6 394.3h.5M52.5 391.6h.5M47.1 393.3h.5M47.9 391.4h.5M53.9 397.0h.5M57.8 390.6h.5M60.8 387.9h.5M51.4 399.8h.5M68.7 394.1h.5M50.2 391.7h.5M44.4 392.8h.5M49.7 389.9h.5M60.7 389.8h.5M64.1 397.6h.5M57.0 390.7h.5M49.2 383.9h.5M54.5 392.2h.5M55.2 390.3h.5M55.9 386.3h.5M37.8 395.8h.5M59.9 378.3h.5M61.3 391.8h.5M51.5 386.1h.5M45.8 396.9h.5M47.6 393.3h.5M51.6 403.1h.5M58.6 387.1h.5M49.4 388.0h.5M43.2 390.2h.5M60.1 393.7h.5M57.2 392.9h.5M49.7 393.9h.5M52.1 402.8h.5M64.8 395.3h.5M56.7 383.9h.5M51.8 405.1h.5M47.2 397.4h.5M71.0 382.7h.5M57.5 361.0h.5M23.7 368.7h.5M28.8 396.7h.5M36.0 403.4h.5M57.4 365.1h.5M59.0 371.4h.5M49.8 359.3h.5M65.1 394.9h.5M52.5 390.0h.5M40.5 361.9h.5M39.8 392.5h.5M51.7 362.2h.5M35.5 379.3h.5M24.2 357.7h.5M46.0 362.2h.5M67.9 361.9h.5M61.0 395.2h.5M39.3 382.6h.5M73.1 386.4h.5M42.9 404.3h.5M36.5 403.3h.5M39.0 376.6h.5M39.3 388.1h.5M67.6 390.0h.5M32.6 405.0h.5M59.6 380.8h.5M66.0 360.9h.5M53.4 394.8h.5M62.3 389.1h.5M26.6 379.4h.5M36.9 385.9h.5M43.3 378.3h.5" stroke="#666" stroke-width="0.5" opacity="0.5" fill="none"/>
<path d="M33.5,386.5 C33.5,374.5 35.5,369.5 38.0,368.0 C40.5,370.5 42.0,375.5 42.0,386.5" fill="#f4f4f4" stroke="#555" stroke-width="0.5"/>
<path d="M36.0,386.5 C36.0,376.5 37.0,373.5 38.5,372.5 C39.8,374.5 40.3,378.5 40.3,386.5" fill="#e4e4e4" stroke="#555" stroke-width="0.45"/>
<ellipse transform="translate(37.50 394.00) rotate(0)" rx="9.2" ry="8.6" fill="#ececec" stroke="#888" stroke-width="0.4"/>
<ellipse transform="translate(37.50 394.00) rotate(0)" rx="7.8" ry="7.4" fill="#d0d0d0" stroke="#666" stroke-width="0.4"/>
<ellipse transform="translate(37.50 394.00) rotate(0)" rx="6.3" ry="6.2" fill="#9a9a9a" stroke="#333" stroke-width="0.45"/>
<ellipse transform="translate(37.50 394.00) rotate(0)" rx="4.8" ry="4.8" fill="#626262" stroke="#222" stroke-width="0.45"/>
<ellipse transform="translate(37.50 394.00) rotate(0)" rx="3.3" ry="3.4" fill="#474747" stroke="#111" stroke-width="0.4"/>
<ellipse transform="translate(37.50 394.00) rotate(0)" rx="2.0" ry="2.3" fill="#7a7a7a" stroke="#333" stroke-width="0.3"/>
<path d="M36.8,392.2 L38.1,395.5 L39.1,392.0" fill="none" stroke="#e6e6e6" stroke-width="0.9"/>
<line x1="44.50" y1="354.50" x2="44.50" y2="406.50" stroke="#1a1a1a" stroke-width="1.0" />
<line x1="22.50" y1="386.50" x2="74.50" y2="386.50" stroke="#1a1a1a" stroke-width="1.0" />
<rect x="22.5" y="354.5" width="52.0" height="52.0" fill="none" stroke="#111" stroke-width="1.2"/>
<path d="M20.3 397.0H22.5M21.3 399.5H22.5M21.3 394.5H22.5M20.3 385.9H22.5M21.3 388.4H22.5M21.3 383.4H22.5M20.3 374.8H22.5M21.3 377.3H22.5M21.3 372.3H22.5M20.3 363.7H22.5M21.3 366.2H22.5M21.3 361.2H22.5M24.0 406.5V409.3M25.7 406.5V408.0M27.4 406.5V408.5M29.1 406.5V408.0M30.8 406.5V408.0M32.4 406.5V409.3M34.1 406.5V408.0M35.8 406.5V408.5M37.5 406.5V408.0M39.2 406.5V408.0M40.9 406.5V409.3M42.6 406.5V408.0M44.3 406.5V408.5M46.0 406.5V408.0M47.7 406.5V408.0M49.3 406.5V409.3M51.0 406.5V408.0M52.7 406.5V408.5M54.4 406.5V408.0M56.1 406.5V408.0M57.8 406.5V409.3M59.5 406.5V408.0M61.2 406.5V408.5M62.9 406.5V408.0M64.6 406.5V408.0M66.2 406.5V409.3M67.9 406.5V408.0M69.6 406.5V408.5M71.3 406.5V408.0M73.0 406.5V408.0" stroke="#111" stroke-width="0.85" fill="none"/>
<text x="24.3" y="360.8" font-size="5.2" text-anchor="start" font-weight="normal" font-style="normal" fill="#222" stroke="#222" stroke-width="0.14">3.5</text>
<text x="73.2" y="360.8" font-size="5.2" text-anchor="end" font-weight="normal" font-style="normal" fill="#222" stroke="#222" stroke-width="0.14">1.3</text>
<text x="24.3" y="404.6" font-size="5.2" text-anchor="start" font-weight="normal" font-style="normal" fill="#222" stroke="#222" stroke-width="0.14">93.6</text>
<text x="73.2" y="404.6" font-size="5.2" text-anchor="end" font-weight="normal" font-style="normal" fill="#222" stroke="#222" stroke-width="0.14">1.6</text>
<text x="109.5" y="352.1" font-size="6.6" text-anchor="middle" font-weight="normal" font-style="normal" fill="#222" stroke="#222" stroke-width="0.14">CD11c<tspan dy="-2.97" font-size="4.22">cre</tspan><tspan dy="2.97" font-size="6.6">&#8203;</tspan> x IL-6R<tspan dy="-2.97" font-size="4.22">fl</tspan><tspan dy="2.97" font-size="6.6">&#8203;</tspan></text>
<path d="M89.9 391.8h.5M103.4 390.4h.5M98.3 398.4h.5M109.4 402.8h.5M102.2 392.2h.5M89.3 405.7h.5M111.7 379.4h.5M104.9 393.7h.5M103.8 396.2h.5M97.8 394.0h.5M98.8 401.9h.5M97.3 390.3h.5M103.5 398.4h.5M102.0 395.9h.5M109.0 401.6h.5M100.5 392.6h.5M103.5 381.3h.5M95.6 389.2h.5M100.2 391.4h.5M115.7 399.0h.5M99.1 391.8h.5M107.4 399.6h.5M105.3 402.2h.5M96.6 389.5h.5M94.2 394.7h.5M105.8 386.9h.5M95.5 384.9h.5M112.5 399.4h.5M100.5 385.7h.5M92.1 389.6h.5M99.3 385.4h.5M97.5 402.3h.5M99.2 394.7h.5M85.0 392.2h.5M98.1 389.3h.5M89.7 393.5h.5M92.2 390.3h.5M88.3 393.4h.5M105.2 388.3h.5M101.2 383.7h.5M103.0 397.7h.5M96.5 400.0h.5M93.2 394.3h.5M110.4 393.8h.5M91.5 401.9h.5M102.7 392.1h.5M86.8 381.2h.5M88.8 404.1h.5M101.0 388.2h.5M106.8 404.0h.5M93.4 397.3h.5M88.0 396.5h.5M111.3 384.4h.5M99.4 389.7h.5M98.4 394.6h.5M100.9 400.1h.5M102.5 401.1h.5M105.9 401.5h.5M94.5 396.8h.5M96.6 388.3h.5M112.2 396.0h.5M99.4 379.6h.5M97.5 399.3h.5M97.7 390.3h.5M109.0 391.9h.5M96.8 393.3h.5M97.5 401.2h.5M102.9 393.5h.5M96.6 392.5h.5M110.4 391.9h.5M103.5 383.2h.5M101.2 398.7h.5M107.6 396.2h.5M102.9 396.2h.5M100.4 388.4h.5M103.1 393.2h.5M103.4 399.3h.5M100.1 391.0h.5M101.1 385.5h.5M100.9 388.0h.5M102.1 394.8h.5M97.6 385.8h.5M99.4 389.4h.5M98.1 398.7h.5M105.5 385.2h.5M105.3 403.3h.5M106.6 395.9h.5M96.9 383.6h.5M99.7 396.0h.5M92.1 385.7h.5M112.3 394.8h.5M104.3 390.0h.5M88.9 392.8h.5M108.1 389.4h.5M87.1 392.8h.5M97.2 394.1h.5M92.1 391.9h.5M95.4 400.0h.5M100.1 400.0h.5M98.7 379.4h.5M86.0 397.7h.5M104.9 400.0h.5M98.6 381.8h.5M95.8 396.8h.5M108.3 391.7h.5M95.3 388.7h.5M105.9 399.9h.5M86.9 402.3h.5M92.9 384.0h.5M88.4 389.0h.5M90.7 389.4h.5M100.1 396.8h.5M95.9 383.2h.5M96.3 389.4h.5M87.1 395.0h.5M89.3 382.1h.5M109.2 400.4h.5M108.8 394.8h.5M96.3 393.4h.5M89.9 399.1h.5M100.9 391.9h.5M86.6 393.2h.5M110.0 403.9h.5M104.9 391.6h.5M100.0 397.8h.5M100.4 401.2h.5M94.6 378.1h.5M89.8 398.5h.5M106.3 394.0h.5M102.7 394.5h.5M100.2 390.8h.5M96.4 402.1h.5M97.3 393.7h.5M107.1 400.7h.5M96.5 395.7h.5M92.3 394.9h.5M101.2 394.0h.5M100.2 396.5h.5M99.6 390.6h.5M92.6 392.4h.5M109.9 392.4h.5M94.7 390.7h.5M91.1 397.3h.5M92.5 400.2h.5M105.2 397.9h.5M106.0 393.4h.5M87.3 393.6h.5M103.4 383.4h.5M90.9 401.5h.5M102.0 403.2h.5M103.6 394.5h.5M102.0 399.8h.5M98.9 392.6h.5M101.2 391.8h.5M115.3 388.8h.5M88.9 385.2h.5M106.1 391.2h.5M100.2 392.5h.5M100.9 384.1h.5M99.7 390.1h.5M106.4 398.3h.5M90.6 387.4h.5M102.9 402.2h.5M104.2 393.0h.5M106.6 377.9h.5M95.5 387.3h.5M92.2 397.9h.5M101.0 395.9h.5M98.2 398.2h.5M104.4 390.1h.5M105.4 387.6h.5M111.0 385.1h.5M97.2 386.6h.5M99.4 403.0h.5M108.6 396.6h.5M95.1 400.2h.5M105.6 393.7h.5M115.9 389.4h.5M90.1 392.5h.5M103.0 405.7h.5M87.2 395.1h.5M107.6 389.4h.5M96.0 385.7h.5M104.3 399.7h.5M103.1 395.7h.5M105.8 393.2h.5M103.9 399.6h.5M107.9 397.5h.5M99.7 398.9h.5M88.6 381.9h.5M110.1 394.9h.5M92.0 390.0h.5M98.1 394.5h.5M93.9 400.8h.5M91.7 405.4h.5M103.6 382.4h.5M90.8 394.4h.5M100.9 391.1h.5M99.2 395.1h.5M91.3 394.4h.5M114.6 389.6h.5M92.2 398.6h.5M108.3 401.2h.5M94.8 393.5h.5M100.5 392.6h.5M101.8 401.5h.5M102.8 393.9h.5M104.1 394.6h.5M107.4 400.3h.5M113.3 381.6h.5M99.8 391.9h.5M94.1 394.5h.5M102.8 397.6h.5M98.1 384.9h.5M102.9 398.2h.5M113.6 400.4h.5M99.2 386.1h.5M117.8 389.3h.5M100.4 399.2h.5M102.5 403.2h.5M91.5 369.1h.5M98.6 364.8h.5M94.0 385.4h.5M99.3 373.7h.5M94.2 374.9h.5M97.4 366.0h.5M102.2 364.4h.5M105.1 371.8h.5M99.3 367.6h.5M108.3 385.4h.5M110.0 381.6h.5M105.6 369.7h.5M105.3 371.0h.5M97.3 363.7h.5M97.9 377.7h.5M97.2 365.7h.5M102.9 381.7h.5M97.1 380.7h.5M103.4 366.7h.5M97.4 359.8h.5M91.4 377.9h.5M92.4 377.6h.5M99.7 358.1h.5M94.7 386.5h.5M97.7 375.5h.5M93.4 361.8h.5M88.1 397.3h.5M96.5 367.6h.5M98.2 359.1h.5M105.9 388.1h.5M93.1 377.1h.5M92.2 381.3h.5M92.6 373.4h.5M105.4 378.7h.5M95.6 362.4h.5M88.1 384.1h.5M100.6 375.0h.5M105.1 375.7h.5M93.2 373.7h.5M97.0 374.4h.5M112.5 379.1h.5M99.2 372.5h.5M93.5 366.6h.5M86.3 370.8h.5M88.5 359.7h.5M92.0 358.3h.5M105.8 384.4h.5M91.8 390.8h.5M97.7 366.5h.5M87.1 372.4h.5M104.5 378.0h.5M88.8 369.2h.5M93.0 383.6h.5M97.0 366.7h.5M92.1 358.8h.5M92.5 381.7h.5M86.1 376.0h.5M96.9 381.0h.5M90.7 381.8h.5M106.9 392.8h.5M87.8 374.3h.5M96.3 375.5h.5M91.6 381.4h.5M111.7 386.5h.5M91.8 369.9h.5M101.9 375.6h.5M93.0 384.4h.5M100.7 382.7h.5M96.5 384.7h.5M94.8 365.6h.5M97.5 363.3h.5M105.1 380.4h.5M87.4 375.9h.5M102.7 371.6h.5M100.1 369.8h.5M97.1 373.8h.5M100.5 366.7h.5M90.7 377.1h.5M94.5 378.7h.5M94.5 364.0h.5M102.0 376.6h.5M101.9 371.8h.5M95.4 384.6h.5M87.3 388.4h.5M100.6 374.0h.5M98.1 379.3h.5M92.9 376.7h.5M91.8 359.7h.5M98.7 375.3h.5M101.4 379.0h.5M101.8 380.8h.5M91.2 384.3h.5M113.7 370.0h.5M89.9 380.0h.5M103.1 382.6h.5M106.8 363.4h.5M99.8 378.2h.5M105.1 367.3h.5M97.7 371.5h.5M96.6 373.3h.5M115.3 357.3h.5M116.2 372.0h.5M111.0 366.3h.5M109.5 384.4h.5M124.0 370.0h.5M121.4 397.9h.5M108.7 375.3h.5M111.7 383.4h.5M125.4 370.5h.5M121.5 365.1h.5M103.8 378.3h.5M129.7 369.1h.5M112.3 357.1h.5M133.8 361.9h.5M108.7 369.9h.5M126.3 371.9h.5M116.4 371.7h.5M123.4 371.2h.5M117.8 370.9h.5M107.6 382.3h.5M110.9 360.9h.5M113.0 371.8h.5M123.1 359.7h.5M106.3 372.9h.5M119.6 362.7h.5M107.4 372.9h.5M115.4 358.5h.5M109.5 383.4h.5M108.0 379.9h.5M104.2 383.4h.5M129.4 366.4h.5M111.0 376.6h.5M106.5 375.9h.5M126.3 373.6h.5M119.1 370.2h.5M124.6 364.9h.5M129.3 371.3h.5M113.9 358.4h.5M113.0 373.4h.5M126.5 358.5h.5M115.5 366.0h.5M106.9 371.5h.5M110.4 378.5h.5M94.8 377.4h.5M101.2 355.8h.5M120.7 368.8h.5M117.5 363.7h.5M108.1 365.6h.5M116.1 364.7h.5M113.1 364.6h.5M118.4 362.4h.5M116.4 372.3h.5M124.2 365.5h.5M107.3 359.5h.5M122.6 366.5h.5M124.4 370.9h.5M114.3 356.6h.5M111.1 377.8h.5M111.6 376.9h.5M103.3 379.7h.5M119.1 361.6h.5M112.3 366.2h.5M109.6 377.9h.5M117.7 377.5h.5M123.4 362.3h.5M105.7 375.2h.5M116.8 372.1h.5M110.0 379.7h.5M120.5 380.7h.5M113.7 377.1h.5M116.0 363.9h.5M115.9 358.2h.5M115.1 372.9h.5M122.1 363.0h.5M105.8 365.6h.5M99.9 366.3h.5M110.4 366.0h.5M130.7 362.1h.5M115.6 370.9h.5M110.6 365.7h.5M103.0 364.8h.5M126.9 382.9h.5M114.2 377.2h.5M120.2 372.4h.5M115.4 381.3h.5M121.1 369.7h.5M114.6 379.0h.5M111.7 365.7h.5M114.3 367.5h.5M126.6 374.4h.5M115.8 367.3h.5M127.9 375.0h.5M133.2 378.8h.5M114.8 367.1h.5M114.2 373.0h.5M122.8 375.4h.5M129.1 359.3h.5M116.7 360.1h.5M108.2 366.7h.5M111.3 363.7h.5M104.3 380.6h.5M113.9 379.2h.5M111.7 378.6h.5M112.0 374.7h.5M107.9 382.7h.5M120.0 379.9h.5M114.3 381.8h.5M117.1 367.6h.5M111.4 371.9h.5M109.2 361.9h.5M117.5 377.2h.5M114.2 378.2h.5M129.2 361.3h.5M118.6 363.8h.5M111.3 372.9h.5M97.5 376.4h.5M123.2 375.8h.5M121.7 386.0h.5M113.6 380.3h.5M128.1 375.4h.5M102.2 370.2h.5M114.1 358.5h.5M116.0 377.6h.5M114.4 370.0h.5M128.3 366.6h.5M108.9 371.8h.5M125.5 376.3h.5M117.1 367.5h.5M126.4 378.6h.5M102.6 374.2h.5M97.2 383.5h.5M121.4 366.4h.5M106.1 369.1h.5M102.4 376.0h.5M112.4 357.3h.5M116.3 381.0h.5M106.3 368.6h.5M131.1 373.0h.5M112.0 373.0h.5M122.7 363.4h.5M115.7 358.4h.5M103.8 359.1h.5M123.3 374.0h.5M122.4 381.2h.5M116.9 373.4h.5M119.7 375.2h.5M108.0 369.3h.5M115.3 371.8h.5M110.5 370.4h.5M118.8 373.0h.5M121.2 378.1h.5M121.0 379.2h.5M123.2 382.7h.5M121.5 366.5h.5M135.2 380.5h.5M126.5 377.3h.5M116.9 362.3h.5M120.0 368.6h.5M128.9 362.1h.5M107.7 375.2h.5M121.0 365.1h.5M116.4 373.5h.5M117.8 375.7h.5M122.7 368.5h.5M103.5 388.8h.5M113.4 363.5h.5M122.5 376.2h.5M111.5 390.3h.5M97.6 381.8h.5M116.2 374.0h.5M115.7 392.3h.5M115.7 387.0h.5M110.7 402.8h.5M95.4 399.7h.5M97.8 389.2h.5M119.7 391.4h.5M109.4 386.0h.5M112.6 392.6h.5M109.0 385.7h.5M114.6 395.6h.5M121.5 396.1h.5M124.2 399.5h.5M93.7 401.8h.5M112.8 388.2h.5M116.5 398.3h.5M102.6 387.3h.5M118.3 390.7h.5M123.7 394.6h.5M109.6 386.8h.5M117.7 384.9h.5M104.3 386.9h.5M125.5 402.0h.5M111.9 391.6h.5M118.4 399.7h.5M107.8 404.5h.5M112.0 399.2h.5M96.9 393.2h.5M108.6 403.5h.5M112.0 387.1h.5M127.2 390.1h.5M113.5 387.2h.5M118.3 394.5h.5M111.5 391.5h.5M109.5 389.9h.5M103.6 399.5h.5M119.8 386.5h.5M105.3 395.5h.5M129.4 392.5h.5M111.3 392.2h.5M115.2 392.6h.5M121.1 398.4h.5M117.4 401.4h.5M111.9 390.7h.5M134.4 383.8h.5M102.5 381.7h.5M116.0 388.1h.5M121.0 383.0h.5M112.5 391.5h.5M105.9 399.1h.5M110.7 395.8h.5M109.8 394.2h.5M110.3 393.9h.5M112.8 390.1h.5M116.6 392.6h.5M106.7 388.2h.5M116.6 400.2h.5M104.3 391.4h.5M116.7 398.7h.5M118.5 387.6h.5M113.7 398.0h.5M115.2 392.4h.5M105.2 394.3h.5M113.0 393.7h.5M124.1 399.5h.5M107.9 394.7h.5M111.3 394.0h.5M125.0 398.1h.5M113.8 390.2h.5M112.3 395.3h.5M110.0 399.0h.5M113.6 387.6h.5M127.9 378.9h.5M111.6 392.9h.5M120.4 399.1h.5M123.7 401.3h.5M115.7 394.1h.5M120.7 393.4h.5M104.6 391.2h.5M118.2 396.6h.5M105.7 399.5h.5M115.7 386.0h.5M116.8 398.5h.5M117.2 391.9h.5M107.9 399.1h.5M115.1 393.5h.5M110.7 388.3h.5M100.3 391.8h.5M121.3 397.3h.5M108.7 401.2h.5M111.9 388.4h.5M120.4 400.4h.5M110.8 387.4h.5M113.0 381.3h.5M113.9 401.1h.5M115.4 389.8h.5M118.5 391.0h.5M122.4 391.7h.5M127.8 391.7h.5M114.8 388.8h.5M104.5 395.2h.5M125.6 376.3h.5M130.3 366.3h.5M111.1 362.8h.5M93.2 370.0h.5M86.9 384.0h.5M116.1 375.3h.5M125.2 382.8h.5M119.4 359.8h.5M101.3 356.6h.5M92.7 398.0h.5M91.4 385.3h.5M103.8 389.1h.5M128.9 397.0h.5M133.7 403.8h.5M104.8 404.9h.5M123.4 369.4h.5M101.2 381.7h.5M127.6 360.5h.5M129.9 389.0h.5M114.7 375.8h.5M104.0 375.8h.5M121.0 377.6h.5M120.9 399.3h.5M88.9 356.4h.5M132.5 365.2h.5M126.0 375.7h.5M96.0 356.1h.5M106.4 385.5h.5M87.3 356.1h.5M99.2 399.6h.5M122.8 368.3h.5M105.1 376.3h.5M120.6 369.7h.5" stroke="#666" stroke-width="0.5" opacity="0.5" fill="none"/>
<path d="M94.5,386.5 C94.5,374.5 96.5,369.5 99.0,368.0 C101.5,370.5 103.0,375.5 103.0,386.5" fill="#f4f4f4" stroke="#555" stroke-width="0.5"/>
<path d="M97.0,386.5 C97.0,376.5 98.0,373.5 99.5,372.5 C100.8,374.5 101.3,378.5 101.3,386.5" fill="#e4e4e4" stroke="#555" stroke-width="0.45"/>
<ellipse transform="translate(98.50 394.00) rotate(0)" rx="9.2" ry="8.6" fill="#ececec" stroke="#888" stroke-width="0.4"/>
<ellipse transform="translate(98.50 394.00) rotate(0)" rx="7.8" ry="7.4" fill="#d0d0d0" stroke="#666" stroke-width="0.4"/>
<ellipse transform="translate(98.50 394.00) rotate(0)" rx="6.3" ry="6.2" fill="#9a9a9a" stroke="#333" stroke-width="0.45"/>
<ellipse transform="translate(98.50 394.00) rotate(0)" rx="4.8" ry="4.8" fill="#626262" stroke="#222" stroke-width="0.45"/>
<ellipse transform="translate(98.50 394.00) rotate(0)" rx="3.3" ry="3.4" fill="#474747" stroke="#111" stroke-width="0.4"/>
<ellipse transform="translate(98.50 394.00) rotate(0)" rx="2.0" ry="2.3" fill="#7a7a7a" stroke="#333" stroke-width="0.3"/>
<path d="M97.8,392.2 L99.1,395.5 L100.1,392.0" fill="none" stroke="#e6e6e6" stroke-width="0.9"/>
<line x1="105.50" y1="354.50" x2="105.50" y2="406.50" stroke="#1a1a1a" stroke-width="1.0" />
<line x1="83.50" y1="386.50" x2="136.50" y2="386.50" stroke="#1a1a1a" stroke-width="1.0" />
<rect x="83.5" y="354.5" width="53.0" height="52.0" fill="none" stroke="#111" stroke-width="1.2"/>
<path d="M81.3 397.0H83.5M82.3 399.5H83.5M82.3 394.5H83.5M81.3 385.9H83.5M82.3 388.4H83.5M82.3 383.4H83.5M81.3 374.8H83.5M82.3 377.3H83.5M82.3 372.3H83.5M81.3 363.7H83.5M82.3 366.2H83.5M82.3 361.2H83.5M85.0 406.5V409.3M86.7 406.5V408.0M88.4 406.5V408.5M90.2 406.5V408.0M91.9 406.5V408.0M93.6 406.5V409.3M95.3 406.5V408.0M97.1 406.5V408.5M98.8 406.5V408.0M100.5 406.5V408.0M102.2 406.5V409.3M104.0 406.5V408.0M105.7 406.5V408.5M107.4 406.5V408.0M109.1 406.5V408.0M110.9 406.5V409.3M112.6 406.5V408.0M114.3 406.5V408.5M116.0 406.5V408.0M117.8 406.5V408.0M119.5 406.5V409.3M121.2 406.5V408.0M122.9 406.5V408.5M124.7 406.5V408.0M126.4 406.5V408.0M128.1 406.5V409.3M129.8 406.5V408.0M131.6 406.5V408.5M133.3 406.5V408.0M135.0 406.5V408.0" stroke="#111" stroke-width="0.85" fill="none"/>
<text x="85.3" y="360.8" font-size="5.2" text-anchor="start" font-weight="normal" font-style="normal" fill="#222" stroke="#222" stroke-width="0.14">5.5</text>
<text x="135.2" y="360.8" font-size="5.2" text-anchor="end" font-weight="normal" font-style="normal" fill="#222" stroke="#222" stroke-width="0.14">1.9</text>
<text x="85.3" y="404.6" font-size="5.2" text-anchor="start" font-weight="normal" font-style="normal" fill="#222" stroke="#222" stroke-width="0.14">90.5</text>
<text x="135.2" y="404.6" font-size="5.2" text-anchor="end" font-weight="normal" font-style="normal" fill="#222" stroke="#222" stroke-width="0.14">2.1</text>
<text x="49.5" y="421.6" font-size="6.6" text-anchor="middle" font-weight="normal" font-style="normal" fill="#222" stroke="#222" stroke-width="0.14">CD11c<tspan dy="-2.97" font-size="4.22">cre</tspan><tspan dy="2.97" font-size="6.6">&#8203;</tspan> x IL-6<tspan dy="-2.97" font-size="4.22">fl</tspan><tspan dy="2.97" font-size="6.6">&#8203;</tspan></text>
<path d="M32.9 471.5h.5M38.6 472.4h.5M37.9 456.7h.5M44.1 467.2h.5M33.4 462.8h.5M31.2 470.8h.5M35.1 468.3h.5M39.8 463.2h.5M40.6 463.3h.5M29.7 462.1h.5M29.7 470.3h.5M42.6 460.9h.5M42.3 466.7h.5M44.8 458.5h.5M38.2 458.0h.5M33.2 474.6h.5M23.9 458.6h.5M41.4 470.4h.5M32.5 450.8h.5M25.9 467.6h.5M45.7 471.4h.5M32.9 474.5h.5M36.7 469.3h.5M36.7 476.1h.5M34.4 450.0h.5M35.8 466.3h.5M39.9 460.0h.5M36.4 457.1h.5M36.4 465.6h.5M39.7 476.5h.5M24.0 468.6h.5M41.0 456.9h.5M38.5 464.9h.5M31.0 470.0h.5M51.4 469.7h.5M43.4 472.5h.5M37.1 471.8h.5M32.3 466.2h.5M42.9 474.1h.5M36.0 463.0h.5M41.3 464.4h.5M39.0 470.6h.5M32.6 471.1h.5M40.7 463.2h.5M29.3 460.6h.5M37.7 471.6h.5M24.2 470.0h.5M39.3 457.1h.5M44.0 467.8h.5M41.0 458.2h.5M30.3 471.3h.5M47.8 467.5h.5M36.7 461.9h.5M26.0 471.9h.5M37.3 473.6h.5M33.0 472.3h.5M33.0 469.1h.5M47.6 460.1h.5M44.3 464.9h.5M31.5 466.4h.5M42.5 460.0h.5M36.1 461.0h.5M32.6 463.5h.5M43.7 461.5h.5M46.7 462.4h.5M33.2 472.4h.5M47.8 460.5h.5M42.1 456.9h.5M35.2 462.4h.5M42.9 456.3h.5M34.4 460.2h.5M38.7 456.5h.5M39.5 454.6h.5M43.8 455.9h.5M24.9 476.6h.5M46.7 459.2h.5M30.4 468.3h.5M52.1 469.2h.5M42.6 456.8h.5M25.7 467.7h.5M45.0 465.9h.5M38.0 474.6h.5M32.2 472.6h.5M43.8 460.7h.5M38.9 465.8h.5M42.0 458.2h.5M36.4 465.6h.5M38.2 465.1h.5M39.7 463.7h.5M34.5 472.1h.5M33.6 462.8h.5M31.9 457.1h.5M41.1 464.7h.5M37.1 468.1h.5M36.8 469.7h.5M50.5 467.4h.5M36.2 476.4h.5M42.9 453.5h.5M47.2 466.5h.5M43.9 457.0h.5M32.1 460.5h.5M41.8 457.2h.5M33.1 471.6h.5M33.6 465.8h.5M31.8 453.3h.5M37.4 464.2h.5M28.1 471.7h.5M43.6 471.1h.5M34.5 457.1h.5M37.4 466.1h.5M36.8 461.0h.5M31.1 459.9h.5M37.4 461.6h.5M49.5 463.1h.5M41.1 461.8h.5M36.7 458.3h.5M34.7 454.7h.5M23.7 474.2h.5M30.7 468.0h.5M37.1 461.1h.5M43.0 461.2h.5M41.0 462.5h.5M44.7 471.6h.5M38.4 472.5h.5M41.5 475.7h.5M37.2 454.4h.5M39.4 466.6h.5M35.5 463.6h.5M36.1 456.4h.5M49.8 459.7h.5M30.6 454.1h.5M32.2 464.7h.5M48.1 469.1h.5M33.0 456.5h.5M30.3 464.4h.5M43.9 461.7h.5M39.1 450.1h.5M45.5 464.3h.5M42.6 471.8h.5M31.1 465.4h.5M39.2 459.8h.5M42.8 464.1h.5M39.1 476.2h.5M36.9 472.1h.5M32.8 466.0h.5M45.4 450.1h.5M41.7 463.1h.5M45.4 466.2h.5M37.5 456.2h.5M58.1 459.9h.5M35.8 460.0h.5M35.9 466.5h.5M28.8 472.2h.5M36.2 469.1h.5M23.5 461.4h.5M35.9 462.3h.5M33.4 467.1h.5M40.8 458.3h.5M24.5 470.0h.5M35.8 472.3h.5M43.9 464.3h.5M28.2 462.5h.5M33.0 473.5h.5M26.4 471.3h.5M27.4 461.1h.5M28.3 460.2h.5M34.9 467.5h.5M33.9 469.7h.5M49.9 466.1h.5M30.1 463.8h.5M37.3 462.5h.5M45.8 472.9h.5M51.7 468.6h.5M42.5 459.5h.5M33.9 471.2h.5M38.9 457.3h.5M34.0 443.8h.5M37.9 456.6h.5M37.6 456.8h.5M31.6 461.4h.5M57.0 456.8h.5M29.9 461.3h.5M45.2 470.5h.5M42.7 462.8h.5M38.8 459.7h.5M36.7 459.4h.5M28.0 458.2h.5M51.1 467.7h.5M32.8 464.2h.5M34.9 473.3h.5M37.8 460.6h.5M42.6 467.2h.5M33.3 459.7h.5M38.9 453.8h.5M31.7 471.9h.5M43.8 472.6h.5M34.9 460.9h.5M36.1 461.7h.5M46.7 463.4h.5M47.2 460.1h.5M40.5 476.1h.5M32.9 460.5h.5M33.8 453.9h.5M35.9 460.6h.5M53.0 461.7h.5M23.3 471.4h.5M44.4 464.7h.5M39.9 469.9h.5M34.1 465.3h.5M38.9 476.3h.5M47.6 466.1h.5M28.8 471.0h.5M37.6 473.0h.5M38.3 466.2h.5M42.4 460.0h.5M32.0 471.4h.5M42.6 470.6h.5M47.3 455.8h.5M44.4 450.9h.5M38.3 467.3h.5M42.4 454.0h.5M31.0 443.3h.5M35.5 440.0h.5M31.6 440.3h.5M43.1 456.1h.5M40.8 458.7h.5M37.0 436.9h.5M32.6 447.1h.5M42.4 455.0h.5M31.2 453.0h.5M33.3 450.1h.5M41.8 457.1h.5M33.3 447.4h.5M38.9 442.2h.5M37.0 450.1h.5M26.8 440.4h.5M49.9 449.0h.5M33.2 431.1h.5M30.8 449.5h.5M40.4 449.0h.5M39.9 440.7h.5M45.7 436.7h.5M39.4 443.4h.5M26.4 452.6h.5M34.8 451.1h.5M43.8 446.8h.5M32.6 443.8h.5M36.0 456.8h.5M41.4 457.9h.5M40.9 439.5h.5M41.8 453.1h.5M35.7 449.1h.5M34.6 435.6h.5M35.9 451.5h.5M34.3 427.9h.5M31.8 454.0h.5M37.7 454.3h.5M32.0 442.2h.5M30.6 439.4h.5M39.4 446.6h.5M33.6 447.8h.5M28.8 442.4h.5M27.7 433.7h.5M28.5 436.9h.5M45.6 456.3h.5M43.8 440.9h.5M60.2 433.6h.5M51.2 444.4h.5M42.9 444.0h.5M36.4 440.3h.5M54.4 443.6h.5M46.6 447.0h.5M56.3 436.7h.5M68.2 444.5h.5M61.1 457.1h.5M51.5 440.8h.5M41.9 440.7h.5M58.8 462.2h.5M59.8 444.1h.5M45.5 435.8h.5M41.0 431.6h.5M56.2 444.8h.5M48.3 440.8h.5M49.1 447.4h.5M60.3 438.1h.5M51.8 432.8h.5M51.7 459.7h.5M55.3 449.3h.5M59.9 454.1h.5M52.8 435.4h.5M63.5 449.8h.5M50.2 451.1h.5M55.3 442.2h.5M69.7 446.7h.5M57.8 440.0h.5M56.9 450.8h.5M58.9 436.5h.5M58.9 441.6h.5M57.8 441.0h.5M38.4 429.7h.5M43.6 458.5h.5M60.8 438.9h.5M57.3 450.3h.5M56.8 432.1h.5M62.9 438.3h.5M50.9 444.1h.5M53.0 458.6h.5M54.3 459.5h.5M58.9 432.7h.5M55.4 442.9h.5M66.6 452.6h.5M52.0 461.0h.5M48.4 445.3h.5M67.9 434.5h.5M52.7 436.6h.5M59.5 445.7h.5M55.1 447.7h.5M49.2 439.5h.5M59.0 458.5h.5M55.1 443.0h.5M65.6 443.1h.5M65.5 444.4h.5M64.4 443.9h.5M48.2 435.7h.5M58.7 457.4h.5M69.9 440.0h.5M48.7 449.9h.5M43.5 449.7h.5M58.3 447.5h.5M45.9 445.5h.5M62.7 442.1h.5M63.4 442.7h.5M58.1 440.0h.5M44.8 441.2h.5M55.8 460.7h.5M39.0 456.8h.5M61.4 463.4h.5M47.1 470.7h.5M51.2 457.0h.5M49.4 460.1h.5M51.1 460.0h.5M52.9 466.8h.5M48.5 463.5h.5M51.3 468.6h.5M47.5 468.2h.5M61.0 463.5h.5M45.8 463.0h.5M40.2 461.8h.5M44.2 463.7h.5M49.8 467.1h.5M53.2 466.6h.5M52.1 465.9h.5M44.6 467.8h.5M61.3 470.0h.5M43.2 466.6h.5M41.2 468.3h.5M51.0 462.2h.5M47.3 463.3h.5M52.4 459.7h.5M52.8 465.8h.5M56.0 464.3h.5M52.4 476.1h.5M59.3 466.1h.5M42.9 467.6h.5M56.3 451.2h.5M51.3 466.4h.5M52.7 465.0h.5M51.3 471.4h.5M55.0 463.1h.5M50.8 474.9h.5M46.5 461.9h.5M54.6 465.2h.5M54.5 471.3h.5M60.2 466.6h.5M52.7 464.2h.5M50.8 469.5h.5M43.7 459.3h.5M49.3 459.7h.5M47.3 470.5h.5M36.9 467.4h.5M43.4 463.3h.5M48.5 459.5h.5M42.2 464.9h.5M32.0 453.9h.5M49.7 470.0h.5M65.2 463.0h.5M51.2 441.7h.5M32.4 447.3h.5M44.8 448.1h.5M36.3 450.5h.5M52.2 431.6h.5M56.4 462.0h.5M33.3 438.9h.5M25.4 450.1h.5M57.3 447.1h.5M52.9 456.8h.5M25.7 429.2h.5M48.9 472.7h.5M58.8 448.8h.5M36.5 433.1h.5M55.8 464.7h.5M43.1 430.8h.5M37.4 461.9h.5M62.0 446.5h.5" stroke="#666" stroke-width="0.5" opacity="0.5" fill="none"/>
<ellipse transform="translate(37.50 465.00) rotate(0)" rx="9.2" ry="8.6" fill="#ececec" stroke="#888" stroke-width="0.4"/>
<ellipse transform="translate(37.50 465.00) rotate(0)" rx="7.8" ry="7.4" fill="#d0d0d0" stroke="#666" stroke-width="0.4"/>
<ellipse transform="translate(37.50 465.00) rotate(0)" rx="6.3" ry="6.2" fill="#9a9a9a" stroke="#333" stroke-width="0.45"/>
<ellipse transform="translate(37.50 465.00) rotate(0)" rx="4.8" ry="4.8" fill="#626262" stroke="#222" stroke-width="0.45"/>
<ellipse transform="translate(37.50 465.00) rotate(0)" rx="3.3" ry="3.4" fill="#474747" stroke="#111" stroke-width="0.4"/>
<ellipse transform="translate(37.50 465.00) rotate(0)" rx="2.0" ry="2.3" fill="#7a7a7a" stroke="#333" stroke-width="0.3"/>
<path d="M36.8,463.2 L38.1,466.5 L39.1,463.0" fill="none" stroke="#e6e6e6" stroke-width="0.9"/>
<line x1="44.50" y1="425.50" x2="44.50" y2="477.50" stroke="#1a1a1a" stroke-width="1.0" />
<line x1="22.50" y1="456.50" x2="74.50" y2="456.50" stroke="#1a1a1a" stroke-width="1.0" />
<rect x="22.5" y="425.5" width="52.0" height="52.0" fill="none" stroke="#111" stroke-width="1.2"/>
<path d="M20.3 468.0H22.5M21.3 470.5H22.5M21.3 465.5H22.5M20.3 456.9H22.5M21.3 459.4H22.5M21.3 454.4H22.5M20.3 445.8H22.5M21.3 448.3H22.5M21.3 443.3H22.5M20.3 434.7H22.5M21.3 437.2H22.5M21.3 432.2H22.5M24.0 477.5V480.3M25.7 477.5V479.0M27.4 477.5V479.5M29.1 477.5V479.0M30.8 477.5V479.0M32.4 477.5V480.3M34.1 477.5V479.0M35.8 477.5V479.5M37.5 477.5V479.0M39.2 477.5V479.0M40.9 477.5V480.3M42.6 477.5V479.0M44.3 477.5V479.5M46.0 477.5V479.0M47.7 477.5V479.0M49.3 477.5V480.3M51.0 477.5V479.0M52.7 477.5V479.5M54.4 477.5V479.0M56.1 477.5V479.0M57.8 477.5V480.3M59.5 477.5V479.0M61.2 477.5V479.5M62.9 477.5V479.0M64.6 477.5V479.0M66.2 477.5V480.3M67.9 477.5V479.0M69.6 477.5V479.5M71.3 477.5V479.0M73.0 477.5V479.0" stroke="#111" stroke-width="0.85" fill="none"/>
<text x="24.3" y="431.8" font-size="5.2" text-anchor="start" font-weight="normal" font-style="normal" fill="#222" stroke="#222" stroke-width="0.14">2.1</text>
<text x="73.2" y="431.8" font-size="5.2" text-anchor="end" font-weight="normal" font-style="normal" fill="#222" stroke="#222" stroke-width="0.14">0.2</text>
<text x="24.3" y="475.6" font-size="5.2" text-anchor="start" font-weight="normal" font-style="normal" fill="#222" stroke="#222" stroke-width="0.14">96.8</text>
<text x="73.2" y="475.6" font-size="5.2" text-anchor="end" font-weight="normal" font-style="normal" fill="#222" stroke="#222" stroke-width="0.14">0.8</text>
<text x="109.0" y="421.6" font-size="6.6" text-anchor="middle" font-weight="normal" font-style="normal" fill="#222" stroke="#222" stroke-width="0.14">IL-6<tspan dy="-2.97" font-size="4.22">-/-</tspan><tspan dy="2.97" font-size="6.6">&#8203;</tspan></text>
<path d="M104.3 460.5h.5M103.7 465.7h.5M107.4 458.0h.5M103.9 468.0h.5M92.7 469.9h.5M114.6 467.5h.5M93.6 463.9h.5M107.9 466.8h.5M109.2 460.4h.5M108.0 454.0h.5M97.8 462.9h.5M95.5 473.6h.5M94.8 467.5h.5M111.8 470.8h.5M96.1 459.9h.5M85.0 467.7h.5M105.1 472.8h.5M104.3 448.8h.5M92.8 470.6h.5M96.2 470.9h.5M116.7 459.7h.5M114.3 464.4h.5M88.7 465.7h.5M105.2 460.9h.5M109.9 458.9h.5M97.6 471.5h.5M97.5 461.1h.5M98.8 469.6h.5M111.0 474.5h.5M112.0 464.8h.5M87.4 464.7h.5M96.1 458.0h.5M95.4 464.5h.5M99.3 471.4h.5M92.6 473.0h.5M99.3 470.1h.5M107.6 456.3h.5M110.1 460.0h.5M101.7 472.6h.5M105.4 454.0h.5M100.1 473.0h.5M98.1 464.4h.5M99.5 476.5h.5M95.2 458.4h.5M91.3 461.3h.5M97.3 467.4h.5M98.4 453.0h.5M88.0 469.8h.5M104.0 455.5h.5M105.5 448.0h.5M115.2 469.1h.5M87.4 468.6h.5M98.7 461.8h.5M96.4 463.4h.5M98.3 458.7h.5M95.0 468.9h.5M102.7 455.7h.5M95.5 476.0h.5M104.0 476.6h.5M89.5 457.7h.5M96.4 457.6h.5M91.4 460.1h.5M97.7 470.8h.5M102.9 452.7h.5M109.4 462.7h.5M92.0 464.8h.5M96.2 455.3h.5M109.9 460.9h.5M94.8 468.8h.5M110.7 468.4h.5M92.7 468.1h.5M106.7 467.7h.5M103.5 461.6h.5M98.5 453.2h.5M94.0 457.0h.5M99.0 475.5h.5M92.5 464.4h.5M107.1 459.5h.5M93.5 473.5h.5M101.6 468.7h.5M104.8 459.8h.5M100.6 460.4h.5M93.9 465.9h.5M102.0 456.1h.5M93.6 469.3h.5M100.2 469.7h.5M96.8 459.4h.5M104.5 469.2h.5M93.7 469.7h.5M110.0 463.0h.5M92.2 466.8h.5M99.6 469.0h.5M89.1 466.7h.5M105.3 469.9h.5M103.4 473.4h.5M93.2 473.6h.5M100.5 458.0h.5M96.9 466.9h.5M101.3 474.5h.5M100.3 461.4h.5M114.3 462.7h.5M93.2 471.5h.5M96.1 459.5h.5M91.5 473.3h.5M91.5 465.7h.5M95.8 463.7h.5M93.3 466.1h.5M103.2 472.4h.5M96.5 456.8h.5M88.6 465.1h.5M99.2 465.9h.5M89.2 460.5h.5M93.8 469.8h.5M96.1 469.4h.5M102.6 451.5h.5M97.4 473.9h.5M95.4 465.9h.5M98.1 456.4h.5M114.3 464.1h.5M103.5 461.9h.5M108.8 473.1h.5M107.3 471.7h.5M103.9 474.8h.5M101.8 466.0h.5M104.7 458.8h.5M100.1 460.1h.5M97.1 458.4h.5M93.1 466.4h.5M99.9 470.9h.5M98.4 469.5h.5M103.8 460.1h.5M87.1 460.2h.5M97.2 461.3h.5M114.5 460.3h.5M102.3 459.7h.5M103.9 456.2h.5M105.7 466.3h.5M96.2 456.7h.5M110.7 461.0h.5M109.1 448.2h.5M111.5 465.2h.5M106.0 469.3h.5M96.5 466.0h.5M90.9 455.7h.5M99.9 470.2h.5M100.1 456.5h.5M105.0 465.7h.5M104.3 463.1h.5M97.1 472.4h.5M108.6 456.7h.5M91.2 471.9h.5M101.5 465.4h.5M92.1 472.2h.5M100.3 466.6h.5M101.7 461.4h.5M101.8 466.0h.5M104.1 467.7h.5M90.0 460.1h.5M97.1 473.2h.5M94.4 473.0h.5M106.6 471.2h.5M114.8 465.0h.5M101.3 473.6h.5M101.9 472.0h.5M98.1 475.0h.5M101.5 451.7h.5M106.6 463.8h.5M92.8 463.0h.5M97.0 473.1h.5M101.3 464.6h.5M98.9 458.8h.5M94.5 461.8h.5M97.4 457.0h.5M96.2 472.1h.5M102.2 465.1h.5M101.4 463.4h.5M90.7 471.3h.5M114.8 468.7h.5M90.5 468.8h.5M96.6 463.2h.5M87.4 464.5h.5M101.8 453.9h.5M97.4 461.7h.5M92.0 469.5h.5M110.5 468.0h.5M106.2 470.4h.5M98.6 469.2h.5M108.3 462.1h.5M98.0 455.5h.5M85.9 459.4h.5M105.3 467.6h.5M100.8 474.3h.5M86.6 474.7h.5M99.6 470.5h.5M108.7 459.4h.5M92.9 467.9h.5M98.6 461.0h.5M98.1 460.1h.5M99.9 462.4h.5M111.0 457.9h.5M103.1 465.6h.5M110.1 458.4h.5M94.4 462.5h.5M96.2 458.3h.5M107.6 475.6h.5M97.9 459.9h.5M89.5 469.7h.5M95.3 468.9h.5M103.4 468.0h.5M99.9 465.0h.5M96.6 462.0h.5M100.0 468.6h.5M105.5 463.6h.5M107.6 458.6h.5M112.4 471.8h.5M109.1 476.1h.5M90.6 464.3h.5M102.3 472.4h.5M99.5 456.1h.5M107.6 463.9h.5M100.1 443.1h.5M96.8 434.7h.5M101.5 440.6h.5M86.8 448.9h.5M97.3 453.2h.5M102.4 436.0h.5M96.4 445.6h.5M98.0 437.2h.5M98.0 453.4h.5M105.0 457.2h.5M95.9 441.3h.5M103.0 445.5h.5M99.7 449.4h.5M96.2 456.5h.5M108.5 452.1h.5M94.2 447.6h.5M103.4 451.3h.5M93.4 453.2h.5M101.9 450.2h.5M95.0 445.4h.5M86.0 445.4h.5M94.8 443.2h.5M95.8 443.1h.5M98.0 446.4h.5M93.8 444.5h.5M97.0 449.5h.5M100.2 442.8h.5M92.5 432.6h.5M106.5 445.8h.5M109.1 455.3h.5M115.2 439.5h.5M115.2 438.3h.5M111.4 443.1h.5M104.9 443.6h.5M115.8 435.4h.5M124.7 445.4h.5M125.2 437.3h.5M106.5 433.2h.5M103.9 427.6h.5M129.1 438.8h.5M118.1 438.4h.5M115.3 455.1h.5M102.6 434.8h.5M117.6 435.4h.5M122.1 452.8h.5M123.7 448.5h.5M115.2 450.5h.5M110.1 433.2h.5M114.4 440.6h.5M126.3 434.8h.5M125.7 436.4h.5M106.4 429.2h.5M116.2 431.2h.5M118.2 442.9h.5M113.3 427.3h.5M112.3 446.1h.5M102.2 448.0h.5M116.6 438.3h.5M118.1 447.7h.5M116.3 436.4h.5M122.8 437.2h.5M119.4 450.3h.5M122.7 472.4h.5M120.7 465.3h.5M112.1 465.5h.5M118.1 460.5h.5M124.2 456.7h.5M120.5 458.2h.5M105.9 462.1h.5M111.5 457.9h.5M117.8 464.0h.5M122.9 459.5h.5M100.8 467.9h.5M111.9 469.4h.5M97.1 458.4h.5M114.1 474.2h.5M104.8 455.1h.5M110.3 471.5h.5M124.6 457.8h.5M109.2 455.4h.5M107.6 459.8h.5M116.5 470.2h.5M130.2 462.8h.5M119.2 465.6h.5M114.4 474.1h.5M118.4 472.3h.5M115.6 468.8h.5M117.1 464.1h.5M108.6 462.5h.5M113.6 462.6h.5M111.1 461.0h.5M119.5 463.3h.5M112.7 463.4h.5M122.7 461.9h.5M123.4 460.3h.5M124.2 467.5h.5M110.1 466.8h.5M121.5 459.8h.5M102.3 430.1h.5M117.6 429.5h.5M96.7 428.9h.5M93.3 463.9h.5M98.1 475.8h.5M98.7 466.5h.5M122.0 458.7h.5M115.3 433.5h.5M126.8 472.6h.5M111.6 435.9h.5M88.9 439.3h.5M134.1 442.4h.5M98.8 452.8h.5" stroke="#666" stroke-width="0.5" opacity="0.5" fill="none"/>
<ellipse transform="translate(98.50 465.00) rotate(0)" rx="9.2" ry="8.6" fill="#ececec" stroke="#888" stroke-width="0.4"/>
<ellipse transform="translate(98.50 465.00) rotate(0)" rx="7.8" ry="7.4" fill="#d0d0d0" stroke="#666" stroke-width="0.4"/>
<ellipse transform="translate(98.50 465.00) rotate(0)" rx="6.3" ry="6.2" fill="#9a9a9a" stroke="#333" stroke-width="0.45"/>
<ellipse transform="translate(98.50 465.00) rotate(0)" rx="4.8" ry="4.8" fill="#626262" stroke="#222" stroke-width="0.45"/>
<ellipse transform="translate(98.50 465.00) rotate(0)" rx="3.3" ry="3.4" fill="#474747" stroke="#111" stroke-width="0.4"/>
<ellipse transform="translate(98.50 465.00) rotate(0)" rx="2.0" ry="2.3" fill="#7a7a7a" stroke="#333" stroke-width="0.3"/>
<path d="M97.8,463.2 L99.1,466.5 L100.1,463.0" fill="none" stroke="#e6e6e6" stroke-width="0.9"/>
<line x1="105.50" y1="425.50" x2="105.50" y2="477.50" stroke="#1a1a1a" stroke-width="1.0" />
<line x1="83.50" y1="456.50" x2="136.50" y2="456.50" stroke="#1a1a1a" stroke-width="1.0" />
<rect x="83.5" y="425.5" width="53.0" height="52.0" fill="none" stroke="#111" stroke-width="1.2"/>
<path d="M81.3 468.0H83.5M82.3 470.5H83.5M82.3 465.5H83.5M81.3 456.9H83.5M82.3 459.4H83.5M82.3 454.4H83.5M81.3 445.8H83.5M82.3 448.3H83.5M82.3 443.3H83.5M81.3 434.7H83.5M82.3 437.2H83.5M82.3 432.2H83.5M85.0 477.5V480.3M86.7 477.5V479.0M88.4 477.5V479.5M90.2 477.5V479.0M91.9 477.5V479.0M93.6 477.5V480.3M95.3 477.5V479.0M97.1 477.5V479.5M98.8 477.5V479.0M100.5 477.5V479.0M102.2 477.5V480.3M104.0 477.5V479.0M105.7 477.5V479.5M107.4 477.5V479.0M109.1 477.5V479.0M110.9 477.5V480.3M112.6 477.5V479.0M114.3 477.5V479.5M116.0 477.5V479.0M117.8 477.5V479.0M119.5 477.5V480.3M121.2 477.5V479.0M122.9 477.5V479.5M124.7 477.5V479.0M126.4 477.5V479.0M128.1 477.5V480.3M129.8 477.5V479.0M131.6 477.5V479.5M133.3 477.5V479.0M135.0 477.5V479.0" stroke="#111" stroke-width="0.85" fill="none"/>
<text x="85.3" y="431.8" font-size="5.2" text-anchor="start" font-weight="normal" font-style="normal" fill="#222" stroke="#222" stroke-width="0.14">0.6</text>
<text x="135.2" y="431.8" font-size="5.2" text-anchor="end" font-weight="normal" font-style="normal" fill="#222" stroke="#222" stroke-width="0.14">0.0</text>
<text x="85.3" y="475.6" font-size="5.2" text-anchor="start" font-weight="normal" font-style="normal" fill="#222" stroke="#222" stroke-width="0.14">99.0</text>
<text x="135.2" y="475.6" font-size="5.2" text-anchor="end" font-weight="normal" font-style="normal" fill="#222" stroke="#222" stroke-width="0.14">0.3</text>
<line x1="13.60" y1="445.50" x2="13.60" y2="367.30" stroke="#111" stroke-width="1.1" />
<polygon points="11.399999999999999,367.8 13.6,363.8 15.8,367.8" fill="#111"/>
<text x="14.6" y="457.2" font-size="7.4" text-anchor="middle" font-weight="normal" font-style="normal" fill="#222" stroke="#222" stroke-width="0.14" transform="rotate(-90 14.6 457.2)">IL-22</text>
<text x="42.7" y="488.2" font-size="7.0" text-anchor="middle" font-weight="normal" font-style="normal" fill="#222" stroke="#222" stroke-width="0.14">IL-17A</text>
<line x1="55.20" y1="486.60" x2="131.70" y2="486.60" stroke="#111" stroke-width="1.1" />
<polygon points="131.2,484.20000000000005 135.2,486.6 131.2,489.0" fill="#111"/>
<text x="151.2" y="348.3" font-size="11" text-anchor="start" font-weight="bold" font-style="normal" fill="#111" stroke="#111" stroke-width="0.14">G</text>
<text x="213.3" y="351.5" font-size="8.2" text-anchor="middle" font-weight="normal" font-style="normal" fill="#222" stroke="#222" stroke-width="0.14">mLN</text>
<line x1="187.10" y1="371.30" x2="187.10" y2="441.75" stroke="#111" stroke-width="1.1" />
<line x1="186.55" y1="441.20" x2="237.30" y2="441.20" stroke="#111" stroke-width="1.1" />
<line x1="183.90" y1="441.20" x2="187.10" y2="441.20" stroke="#111" stroke-width="0.9" />
<text x="182.5" y="443.3" font-size="6.0" text-anchor="end" font-weight="normal" font-style="normal" fill="#333" stroke="#333" stroke-width="0.14">0</text>
<line x1="183.90" y1="424.35" x2="187.10" y2="424.35" stroke="#111" stroke-width="0.9" />
<text x="182.5" y="426.45000000000005" font-size="6.0" text-anchor="end" font-weight="normal" font-style="normal" fill="#333" stroke="#333" stroke-width="0.14">5</text>
<line x1="183.90" y1="407.50" x2="187.10" y2="407.50" stroke="#111" stroke-width="0.9" />
<text x="182.5" y="409.6" font-size="6.0" text-anchor="end" font-weight="normal" font-style="normal" fill="#333" stroke="#333" stroke-width="0.14">10</text>
<line x1="183.90" y1="390.65" x2="187.10" y2="390.65" stroke="#111" stroke-width="0.9" />
<text x="182.5" y="392.75" font-size="6.0" text-anchor="end" font-weight="normal" font-style="normal" fill="#333" stroke="#333" stroke-width="0.14">15</text>
<line x1="183.90" y1="373.80" x2="187.10" y2="373.80" stroke="#111" stroke-width="0.9" />
<text x="182.5" y="375.90000000000003" font-size="6.0" text-anchor="end" font-weight="normal" font-style="normal" fill="#333" stroke="#333" stroke-width="0.14">20</text>
<rect x="190.40" y="394.02" width="8.80" height="47.18" fill="#a8002c" stroke="#75001e" stroke-width="0.6" />
<rect x="190.40" y="414.91" width="8.80" height="26.29" fill="#2d4b7d" stroke="#1f3457" stroke-width="0.6" />
<line x1="194.80" y1="414.91" x2="194.80" y2="410.87" stroke="#111" stroke-width="0.9" />
<line x1="192.16" y1="410.87" x2="197.44" y2="410.87" stroke="#111" stroke-width="1.0" />
<line x1="194.80" y1="394.02" x2="194.80" y2="391.32" stroke="#111" stroke-width="0.9" />
<line x1="192.16" y1="391.32" x2="197.44" y2="391.32" stroke="#111" stroke-width="1.0" />
<line x1="194.80" y1="441.20" x2="194.80" y2="443.40" stroke="#111" stroke-width="0.9" />
<rect x="202.50" y="387.95" width="9.20" height="53.25" fill="#a8002c" stroke="#75001e" stroke-width="0.6" />
<rect x="202.50" y="412.89" width="9.20" height="28.31" fill="#2d4b7d" stroke="#1f3457" stroke-width="0.6" />
<line x1="207.10" y1="412.89" x2="207.10" y2="409.19" stroke="#111" stroke-width="0.9" />
<line x1="204.34" y1="409.19" x2="209.86" y2="409.19" stroke="#111" stroke-width="1.0" />
<line x1="207.10" y1="387.95" x2="207.10" y2="385.60" stroke="#111" stroke-width="0.9" />
<line x1="204.34" y1="385.60" x2="209.86" y2="385.60" stroke="#111" stroke-width="1.0" />
<line x1="207.10" y1="441.20" x2="207.10" y2="443.40" stroke="#111" stroke-width="0.9" />
<rect x="215.40" y="428.39" width="9.20" height="12.81" fill="#a8002c" stroke="#75001e" stroke-width="0.6" />
<rect x="215.40" y="435.47" width="9.20" height="5.73" fill="#2d4b7d" stroke="#1f3457" stroke-width="0.6" />
<line x1="220.00" y1="435.47" x2="220.00" y2="434.46" stroke="#111" stroke-width="0.9" />
<line x1="217.24" y1="434.46" x2="222.76" y2="434.46" stroke="#111" stroke-width="1.0" />
<line x1="220.00" y1="428.39" x2="220.00" y2="427.72" stroke="#111" stroke-width="0.9" />
<line x1="217.24" y1="427.72" x2="222.76" y2="427.72" stroke="#111" stroke-width="1.0" />
<line x1="220.00" y1="441.20" x2="220.00" y2="443.40" stroke="#111" stroke-width="0.9" />
<rect x="227.90" y="434.80" width="9.20" height="6.40" fill="#a8002c" stroke="#75001e" stroke-width="0.6" />
<rect x="227.90" y="438.84" width="9.20" height="2.36" fill="#2d4b7d" stroke="#1f3457" stroke-width="0.6" />
<line x1="232.50" y1="438.84" x2="232.50" y2="438.17" stroke="#111" stroke-width="0.9" />
<line x1="229.74" y1="438.17" x2="235.26" y2="438.17" stroke="#111" stroke-width="1.0" />
<line x1="232.50" y1="434.80" x2="232.50" y2="434.46" stroke="#111" stroke-width="0.9" />
<line x1="229.74" y1="434.46" x2="235.26" y2="434.46" stroke="#111" stroke-width="1.0" />
<line x1="232.50" y1="441.20" x2="232.50" y2="443.40" stroke="#111" stroke-width="0.9" />
<text x="195.8" y="450.2" font-size="6.6" text-anchor="end" font-weight="normal" font-style="normal" fill="#222" stroke="#222" stroke-width="0.14" transform="rotate(-45 195.8 450.2)">CD11c<tspan dy="-2.97" font-size="4.22">cre</tspan><tspan dy="2.97" font-size="6.6">&#8203;</tspan></text>
<text x="208.1" y="450.2" font-size="6.6" text-anchor="end" font-weight="normal" font-style="normal" fill="#222" stroke="#222" stroke-width="0.14" transform="rotate(-45 208.1 450.2)">CD11c<tspan dy="-2.97" font-size="4.22">cre</tspan><tspan dy="2.97" font-size="6.6">&#8203;</tspan> x IL-6R<tspan dy="-2.97" font-size="4.22">fl</tspan><tspan dy="2.97" font-size="6.6">&#8203;</tspan></text>
<text x="221.0" y="450.2" font-size="6.6" text-anchor="end" font-weight="normal" font-style="normal" fill="#222" stroke="#222" stroke-width="0.14" transform="rotate(-45 221.0 450.2)">CD11c<tspan dy="-2.97" font-size="4.22">cre</tspan><tspan dy="2.97" font-size="6.6">&#8203;</tspan> x IL-6<tspan dy="-2.97" font-size="4.22">fl</tspan><tspan dy="2.97" font-size="6.6">&#8203;</tspan></text>
<text x="233.5" y="450.2" font-size="6.6" text-anchor="end" font-weight="normal" font-style="normal" fill="#222" stroke="#222" stroke-width="0.14" transform="rotate(-45 233.5 450.2)">IL-6<tspan dy="-2.97" font-size="4.22">-/-</tspan><tspan dy="2.97" font-size="6.6">&#8203;</tspan></text>
<text x="168" y="407.5" font-size="6.6" text-anchor="middle" font-weight="normal" font-style="normal" fill="#333" stroke="#333" stroke-width="0.14" transform="rotate(-90 168 407.5)">% of CD4<tspan dy="-2.97" font-size="4.22">+</tspan><tspan dy="2.97" font-size="6.6">&#8203;</tspan> T cells</text>
<line x1="193.80" y1="371.50" x2="233.30" y2="371.50" stroke="#333" stroke-width="0.9" />
<text x="213.55" y="370.2" font-size="5.5" text-anchor="middle" font-weight="normal" font-style="normal" fill="#333" stroke="#333" stroke-width="0.14">‡‡‡ †††</text>
<line x1="193.80" y1="378.50" x2="218.80" y2="378.50" stroke="#333" stroke-width="0.9" />
<text x="206" y="377.2" font-size="5.5" text-anchor="middle" font-weight="normal" font-style="normal" fill="#333" stroke="#333" stroke-width="0.14">‡‡‡ †††</text>
<text x="293.3" y="352.7" font-size="8.2" text-anchor="middle" font-weight="normal" font-style="normal" fill="#222" stroke="#222" stroke-width="0.14">Spleen</text>
<line x1="266.50" y1="371.30" x2="266.50" y2="441.75" stroke="#111" stroke-width="1.1" />
<line x1="265.95" y1="441.20" x2="319.20" y2="441.20" stroke="#111" stroke-width="1.1" />
<line x1="263.30" y1="441.20" x2="266.50" y2="441.20" stroke="#111" stroke-width="0.9" />
<text x="261.9" y="443.3" font-size="6.0" text-anchor="end" font-weight="normal" font-style="normal" fill="#333" stroke="#333" stroke-width="0.14">0</text>
<line x1="263.30" y1="427.72" x2="266.50" y2="427.72" stroke="#111" stroke-width="0.9" />
<text x="261.9" y="429.82" font-size="6.0" text-anchor="end" font-weight="normal" font-style="normal" fill="#333" stroke="#333" stroke-width="0.14">2</text>
<line x1="263.30" y1="414.24" x2="266.50" y2="414.24" stroke="#111" stroke-width="0.9" />
<text x="261.9" y="416.34000000000003" font-size="6.0" text-anchor="end" font-weight="normal" font-style="normal" fill="#333" stroke="#333" stroke-width="0.14">4</text>
<line x1="263.30" y1="400.76" x2="266.50" y2="400.76" stroke="#111" stroke-width="0.9" />
<text x="261.9" y="402.86" font-size="6.0" text-anchor="end" font-weight="normal" font-style="normal" fill="#333" stroke="#333" stroke-width="0.14">6</text>
<line x1="263.30" y1="387.28" x2="266.50" y2="387.28" stroke="#111" stroke-width="0.9" />
<text x="261.9" y="389.38000000000005" font-size="6.0" text-anchor="end" font-weight="normal" font-style="normal" fill="#333" stroke="#333" stroke-width="0.14">8</text>
<line x1="263.30" y1="373.80" x2="266.50" y2="373.80" stroke="#111" stroke-width="0.9" />
<text x="261.9" y="375.90000000000003" font-size="6.0" text-anchor="end" font-weight="normal" font-style="normal" fill="#333" stroke="#333" stroke-width="0.14">10</text>
<rect x="269.20" y="402.11" width="9.30" height="39.09" fill="#a8002c" stroke="#75001e" stroke-width="0.6" />
<rect x="269.20" y="425.02" width="9.30" height="16.18" fill="#2d4b7d" stroke="#1f3457" stroke-width="0.6" />
<line x1="273.85" y1="425.02" x2="273.85" y2="423.00" stroke="#111" stroke-width="0.9" />
<line x1="271.06" y1="423.00" x2="276.64" y2="423.00" stroke="#111" stroke-width="1.0" />
<line x1="273.85" y1="402.11" x2="273.85" y2="400.09" stroke="#111" stroke-width="0.9" />
<line x1="271.06" y1="400.09" x2="276.64" y2="400.09" stroke="#111" stroke-width="1.0" />
<line x1="273.85" y1="441.20" x2="273.85" y2="443.40" stroke="#111" stroke-width="0.9" />
<rect x="282.00" y="390.65" width="9.50" height="50.55" fill="#a8002c" stroke="#75001e" stroke-width="0.6" />
<rect x="282.00" y="418.96" width="9.50" height="22.24" fill="#2d4b7d" stroke="#1f3457" stroke-width="0.6" />
<line x1="286.75" y1="418.96" x2="286.75" y2="416.94" stroke="#111" stroke-width="0.9" />
<line x1="283.90" y1="416.94" x2="289.60" y2="416.94" stroke="#111" stroke-width="1.0" />
<line x1="286.75" y1="390.65" x2="286.75" y2="388.29" stroke="#111" stroke-width="0.9" />
<line x1="283.90" y1="388.29" x2="289.60" y2="388.29" stroke="#111" stroke-width="1.0" />
<line x1="286.75" y1="441.20" x2="286.75" y2="443.40" stroke="#111" stroke-width="0.9" />
<rect x="294.80" y="430.42" width="9.20" height="10.78" fill="#a8002c" stroke="#75001e" stroke-width="0.6" />
<rect x="294.80" y="437.83" width="9.20" height="3.37" fill="#2d4b7d" stroke="#1f3457" stroke-width="0.6" />
<line x1="299.40" y1="437.83" x2="299.40" y2="437.16" stroke="#111" stroke-width="0.9" />
<line x1="296.64" y1="437.16" x2="302.16" y2="437.16" stroke="#111" stroke-width="1.0" />
<line x1="299.40" y1="430.42" x2="299.40" y2="429.74" stroke="#111" stroke-width="0.9" />
<line x1="296.64" y1="429.74" x2="302.16" y2="429.74" stroke="#111" stroke-width="1.0" />
<line x1="299.40" y1="441.20" x2="299.40" y2="443.40" stroke="#111" stroke-width="0.9" />
<rect x="307.30" y="435.81" width="9.70" height="5.39" fill="#a8002c" stroke="#75001e" stroke-width="0.6" />
<rect x="307.30" y="440.53" width="9.70" height="0.67" fill="#2d4b7d" stroke="#1f3457" stroke-width="0.6" />
<line x1="312.15" y1="440.53" x2="312.15" y2="440.19" stroke="#111" stroke-width="0.9" />
<line x1="309.24" y1="440.19" x2="315.06" y2="440.19" stroke="#111" stroke-width="1.0" />
<line x1="312.15" y1="435.81" x2="312.15" y2="435.13" stroke="#111" stroke-width="0.9" />
<line x1="309.24" y1="435.13" x2="315.06" y2="435.13" stroke="#111" stroke-width="1.0" />
<line x1="312.15" y1="441.20" x2="312.15" y2="443.40" stroke="#111" stroke-width="0.9" />
<text x="274.85" y="450.2" font-size="6.6" text-anchor="end" font-weight="normal" font-style="normal" fill="#222" stroke="#222" stroke-width="0.14" transform="rotate(-45 274.85 450.2)">CD11c<tspan dy="-2.97" font-size="4.22">cre</tspan><tspan dy="2.97" font-size="6.6">&#8203;</tspan></text>
<text x="287.75" y="450.2" font-size="6.6" text-anchor="end" font-weight="normal" font-style="normal" fill="#222" stroke="#222" stroke-width="0.14" transform="rotate(-45 287.75 450.2)">CD11c<tspan dy="-2.97" font-size="4.22">cre</tspan><tspan dy="2.97" font-size="6.6">&#8203;</tspan> x IL-6R<tspan dy="-2.97" font-size="4.22">fl</tspan><tspan dy="2.97" font-size="6.6">&#8203;</tspan></text>
<text x="300.4" y="450.2" font-size="6.6" text-anchor="end" font-weight="normal" font-style="normal" fill="#222" stroke="#222" stroke-width="0.14" transform="rotate(-45 300.4 450.2)">CD11c<tspan dy="-2.97" font-size="4.22">cre</tspan><tspan dy="2.97" font-size="6.6">&#8203;</tspan> x IL-6<tspan dy="-2.97" font-size="4.22">fl</tspan><tspan dy="2.97" font-size="6.6">&#8203;</tspan></text>
<text x="313.15" y="450.2" font-size="6.6" text-anchor="end" font-weight="normal" font-style="normal" fill="#222" stroke="#222" stroke-width="0.14" transform="rotate(-45 313.15 450.2)">IL-6<tspan dy="-2.97" font-size="4.22">-/-</tspan><tspan dy="2.97" font-size="6.6">&#8203;</tspan></text>
<line x1="273.60" y1="367.50" x2="312.70" y2="367.50" stroke="#333" stroke-width="0.9" />
<text x="293.15" y="366.2" font-size="5.5" text-anchor="middle" font-weight="normal" font-style="normal" fill="#333" stroke="#333" stroke-width="0.14">‡‡‡ †††</text>
<line x1="273.60" y1="373.50" x2="298.00" y2="373.50" stroke="#333" stroke-width="0.9" />
<text x="284.7" y="372.2" font-size="5.5" text-anchor="middle" font-weight="normal" font-style="normal" fill="#333" stroke="#333" stroke-width="0.14">‡‡‡ †††</text>
<line x1="273.60" y1="381.50" x2="285.80" y2="381.50" stroke="#333" stroke-width="0.9" />
<text x="279.4" y="380.2" font-size="5.5" text-anchor="middle" font-weight="normal" font-style="normal" fill="#333" stroke="#333" stroke-width="0.14">‡</text>
<text x="330.0" y="347.7" font-size="11" text-anchor="start" font-weight="bold" font-style="normal" fill="#111" stroke="#111" stroke-width="0.14">H</text>
<text x="391" y="351.5" font-size="8.2" text-anchor="middle" font-weight="normal" font-style="normal" fill="#222" stroke="#222" stroke-width="0.14">mLN</text>
<line x1="364.60" y1="371.30" x2="364.60" y2="441.75" stroke="#111" stroke-width="1.1" />
<line x1="364.05" y1="441.20" x2="417.50" y2="441.20" stroke="#111" stroke-width="1.1" />
<line x1="361.40" y1="441.20" x2="364.60" y2="441.20" stroke="#111" stroke-width="0.9" />
<text x="360.0" y="443.3" font-size="6.0" text-anchor="end" font-weight="normal" font-style="normal" fill="#333" stroke="#333" stroke-width="0.14">0</text>
<line x1="361.40" y1="427.72" x2="364.60" y2="427.72" stroke="#111" stroke-width="0.9" />
<text x="360.0" y="429.82" font-size="6.0" text-anchor="end" font-weight="normal" font-style="normal" fill="#333" stroke="#333" stroke-width="0.14">20</text>
<line x1="361.40" y1="414.24" x2="364.60" y2="414.24" stroke="#111" stroke-width="0.9" />
<text x="360.0" y="416.34000000000003" font-size="6.0" text-anchor="end" font-weight="normal" font-style="normal" fill="#333" stroke="#333" stroke-width="0.14">40</text>
<line x1="361.40" y1="400.76" x2="364.60" y2="400.76" stroke="#111" stroke-width="0.9" />
<text x="360.0" y="402.86" font-size="6.0" text-anchor="end" font-weight="normal" font-style="normal" fill="#333" stroke="#333" stroke-width="0.14">60</text>
<line x1="361.40" y1="387.28" x2="364.60" y2="387.28" stroke="#111" stroke-width="0.9" />
<text x="360.0" y="389.38" font-size="6.0" text-anchor="end" font-weight="normal" font-style="normal" fill="#333" stroke="#333" stroke-width="0.14">80</text>
<line x1="361.40" y1="373.80" x2="364.60" y2="373.80" stroke="#111" stroke-width="0.9" />
<text x="360.0" y="375.90000000000003" font-size="6.0" text-anchor="end" font-weight="normal" font-style="normal" fill="#333" stroke="#333" stroke-width="0.14">100</text>
<rect x="366.20" y="399.41" width="9.60" height="41.79" fill="#a8002c" stroke="#75001e" stroke-width="0.6" />
<rect x="366.20" y="416.94" width="9.60" height="24.26" fill="#2d4b7d" stroke="#1f3457" stroke-width="0.6" />
<line x1="371.00" y1="416.94" x2="371.00" y2="410.20" stroke="#111" stroke-width="0.9" />
<line x1="368.12" y1="410.20" x2="373.88" y2="410.20" stroke="#111" stroke-width="1.0" />
<line x1="371.00" y1="399.41" x2="371.00" y2="395.37" stroke="#111" stroke-width="0.9" />
<line x1="368.12" y1="395.37" x2="373.88" y2="395.37" stroke="#111" stroke-width="1.0" />
<line x1="371.00" y1="441.20" x2="371.00" y2="443.40" stroke="#111" stroke-width="0.9" />
<rect x="379.40" y="400.09" width="9.60" height="41.11" fill="#a8002c" stroke="#75001e" stroke-width="0.6" />
<rect x="379.40" y="418.96" width="9.60" height="22.24" fill="#2d4b7d" stroke="#1f3457" stroke-width="0.6" />
<line x1="384.20" y1="418.96" x2="384.20" y2="413.57" stroke="#111" stroke-width="0.9" />
<line x1="381.32" y1="413.57" x2="387.08" y2="413.57" stroke="#111" stroke-width="1.0" />
<line x1="384.20" y1="400.09" x2="384.20" y2="395.37" stroke="#111" stroke-width="0.9" />
<line x1="381.32" y1="395.37" x2="387.08" y2="395.37" stroke="#111" stroke-width="1.0" />
<line x1="384.20" y1="441.20" x2="384.20" y2="443.40" stroke="#111" stroke-width="0.9" />
<rect x="392.90" y="427.72" width="9.60" height="13.48" fill="#a8002c" stroke="#75001e" stroke-width="0.6" />
<rect x="392.90" y="434.46" width="9.60" height="6.74" fill="#2d4b7d" stroke="#1f3457" stroke-width="0.6" />
<line x1="397.70" y1="434.46" x2="397.70" y2="433.11" stroke="#111" stroke-width="0.9" />
<line x1="394.82" y1="433.11" x2="400.58" y2="433.11" stroke="#111" stroke-width="1.0" />
<line x1="397.70" y1="427.72" x2="397.70" y2="426.37" stroke="#111" stroke-width="0.9" />
<line x1="394.82" y1="426.37" x2="400.58" y2="426.37" stroke="#111" stroke-width="1.0" />
<line x1="397.70" y1="441.20" x2="397.70" y2="443.40" stroke="#111" stroke-width="0.9" />
<rect x="406.00" y="424.35" width="9.60" height="16.85" fill="#a8002c" stroke="#75001e" stroke-width="0.6" />
<rect x="406.00" y="434.46" width="9.60" height="6.74" fill="#2d4b7d" stroke="#1f3457" stroke-width="0.6" />
<line x1="410.80" y1="434.46" x2="410.80" y2="431.76" stroke="#111" stroke-width="0.9" />
<line x1="407.92" y1="431.76" x2="413.68" y2="431.76" stroke="#111" stroke-width="1.0" />
<line x1="410.80" y1="424.35" x2="410.80" y2="422.33" stroke="#111" stroke-width="0.9" />
<line x1="407.92" y1="422.33" x2="413.68" y2="422.33" stroke="#111" stroke-width="1.0" />
<line x1="410.80" y1="441.20" x2="410.80" y2="443.40" stroke="#111" stroke-width="0.9" />
<text x="372.0" y="450.2" font-size="6.6" text-anchor="end" font-weight="normal" font-style="normal" fill="#222" stroke="#222" stroke-width="0.14" transform="rotate(-45 372.0 450.2)">CD11c<tspan dy="-2.97" font-size="4.22">cre</tspan><tspan dy="2.97" font-size="6.6">&#8203;</tspan></text>
<text x="385.2" y="450.2" font-size="6.6" text-anchor="end" font-weight="normal" font-style="normal" fill="#222" stroke="#222" stroke-width="0.14" transform="rotate(-45 385.2 450.2)">CD11c<tspan dy="-2.97" font-size="4.22">cre</tspan><tspan dy="2.97" font-size="6.6">&#8203;</tspan> x IL-6R<tspan dy="-2.97" font-size="4.22">fl</tspan><tspan dy="2.97" font-size="6.6">&#8203;</tspan></text>
<text x="398.7" y="450.2" font-size="6.6" text-anchor="end" font-weight="normal" font-style="normal" fill="#222" stroke="#222" stroke-width="0.14" transform="rotate(-45 398.7 450.2)">CD11c<tspan dy="-2.97" font-size="4.22">cre</tspan><tspan dy="2.97" font-size="6.6">&#8203;</tspan> x IL-6<tspan dy="-2.97" font-size="4.22">fl</tspan><tspan dy="2.97" font-size="6.6">&#8203;</tspan></text>
<text x="411.8" y="450.2" font-size="6.6" text-anchor="end" font-weight="normal" font-style="normal" fill="#222" stroke="#222" stroke-width="0.14" transform="rotate(-45 411.8 450.2)">IL-6<tspan dy="-2.97" font-size="4.22">-/-</tspan><tspan dy="2.97" font-size="6.6">&#8203;</tspan></text>
<text x="340.5" y="408" font-size="6.6" text-anchor="middle" font-weight="normal" font-style="normal" fill="#333" stroke="#333" stroke-width="0.14" transform="rotate(-90 340.5 408)"># Th17/Th22 cells (x10<tspan dy="-2.97" font-size="4.22">3</tspan><tspan dy="2.97" font-size="6.6">&#8203;</tspan>)</text>
<line x1="371.30" y1="388.50" x2="396.30" y2="388.50" stroke="#333" stroke-width="0.9" />
<text x="384" y="387.2" font-size="5.5" text-anchor="middle" font-weight="normal" font-style="normal" fill="#333" stroke="#333" stroke-width="0.14">‡‡</text>
<text x="470.5" y="352.7" font-size="8.2" text-anchor="middle" font-weight="normal" font-style="normal" fill="#222" stroke="#222" stroke-width="0.14">Spleen</text>
<line x1="444.00" y1="371.30" x2="444.00" y2="441.75" stroke="#111" stroke-width="1.1" />
<line x1="443.45" y1="441.20" x2="497.00" y2="441.20" stroke="#111" stroke-width="1.1" />
<line x1="440.80" y1="441.20" x2="444.00" y2="441.20" stroke="#111" stroke-width="0.9" />
<text x="439.4" y="443.3" font-size="6.0" text-anchor="end" font-weight="normal" font-style="normal" fill="#333" stroke="#333" stroke-width="0.14">0</text>
<line x1="440.80" y1="424.35" x2="444.00" y2="424.35" stroke="#111" stroke-width="0.9" />
<text x="439.4" y="426.45000000000005" font-size="6.0" text-anchor="end" font-weight="normal" font-style="normal" fill="#333" stroke="#333" stroke-width="0.14">50</text>
<line x1="440.80" y1="407.50" x2="444.00" y2="407.50" stroke="#111" stroke-width="0.9" />
<text x="439.4" y="409.6" font-size="6.0" text-anchor="end" font-weight="normal" font-style="normal" fill="#333" stroke="#333" stroke-width="0.14">100</text>
<line x1="440.80" y1="390.65" x2="444.00" y2="390.65" stroke="#111" stroke-width="0.9" />
<text x="439.4" y="392.75" font-size="6.0" text-anchor="end" font-weight="normal" font-style="normal" fill="#333" stroke="#333" stroke-width="0.14">150</text>
<line x1="440.80" y1="373.80" x2="444.00" y2="373.80" stroke="#111" stroke-width="0.9" />
<text x="439.4" y="375.90000000000003" font-size="6.0" text-anchor="end" font-weight="normal" font-style="normal" fill="#333" stroke="#333" stroke-width="0.14">200</text>
<rect x="446.30" y="408.85" width="9.30" height="32.35" fill="#a8002c" stroke="#75001e" stroke-width="0.6" />
<rect x="446.30" y="428.39" width="9.30" height="12.81" fill="#2d4b7d" stroke="#1f3457" stroke-width="0.6" />
<line x1="450.95" y1="428.39" x2="450.95" y2="425.70" stroke="#111" stroke-width="0.9" />
<line x1="448.16" y1="425.70" x2="453.74" y2="425.70" stroke="#111" stroke-width="1.0" />
<line x1="450.95" y1="408.85" x2="450.95" y2="404.80" stroke="#111" stroke-width="0.9" />
<line x1="448.16" y1="404.80" x2="453.74" y2="404.80" stroke="#111" stroke-width="1.0" />
<line x1="450.95" y1="441.20" x2="450.95" y2="443.40" stroke="#111" stroke-width="0.9" />
<rect x="459.40" y="384.58" width="9.30" height="56.62" fill="#a8002c" stroke="#75001e" stroke-width="0.6" />
<rect x="459.40" y="417.61" width="9.30" height="23.59" fill="#2d4b7d" stroke="#1f3457" stroke-width="0.6" />
<line x1="464.05" y1="417.61" x2="464.05" y2="415.25" stroke="#111" stroke-width="0.9" />
<line x1="461.26" y1="415.25" x2="466.84" y2="415.25" stroke="#111" stroke-width="1.0" />
<line x1="464.05" y1="384.58" x2="464.05" y2="381.21" stroke="#111" stroke-width="0.9" />
<line x1="461.26" y1="381.21" x2="466.84" y2="381.21" stroke="#111" stroke-width="1.0" />
<line x1="464.05" y1="441.20" x2="464.05" y2="443.40" stroke="#111" stroke-width="0.9" />
<rect x="472.30" y="431.09" width="9.60" height="10.11" fill="#a8002c" stroke="#75001e" stroke-width="0.6" />
<rect x="472.30" y="438.50" width="9.60" height="2.70" fill="#2d4b7d" stroke="#1f3457" stroke-width="0.6" />
<line x1="477.10" y1="438.50" x2="477.10" y2="437.83" stroke="#111" stroke-width="0.9" />
<line x1="474.22" y1="437.83" x2="479.98" y2="437.83" stroke="#111" stroke-width="1.0" />
<line x1="477.10" y1="431.09" x2="477.10" y2="429.40" stroke="#111" stroke-width="0.9" />
<line x1="474.22" y1="429.40" x2="479.98" y2="429.40" stroke="#111" stroke-width="1.0" />
<line x1="477.10" y1="441.20" x2="477.10" y2="443.40" stroke="#111" stroke-width="0.9" />
<rect x="485.80" y="431.43" width="9.60" height="9.77" fill="#a8002c" stroke="#75001e" stroke-width="0.6" />
<rect x="485.80" y="440.53" width="9.60" height="0.67" fill="#2d4b7d" stroke="#1f3457" stroke-width="0.6" />
<line x1="490.60" y1="440.53" x2="490.60" y2="440.19" stroke="#111" stroke-width="0.9" />
<line x1="487.72" y1="440.19" x2="493.48" y2="440.19" stroke="#111" stroke-width="1.0" />
<line x1="490.60" y1="431.43" x2="490.60" y2="428.39" stroke="#111" stroke-width="0.9" />
<line x1="487.72" y1="428.39" x2="493.48" y2="428.39" stroke="#111" stroke-width="1.0" />
<line x1="490.60" y1="441.20" x2="490.60" y2="443.40" stroke="#111" stroke-width="0.9" />
<text x="451.95000000000005" y="450.2" font-size="6.6" text-anchor="end" font-weight="normal" font-style="normal" fill="#222" stroke="#222" stroke-width="0.14" transform="rotate(-45 451.95000000000005 450.2)">CD11c<tspan dy="-2.97" font-size="4.22">cre</tspan><tspan dy="2.97" font-size="6.6">&#8203;</tspan></text>
<text x="465.04999999999995" y="450.2" font-size="6.6" text-anchor="end" font-weight="normal" font-style="normal" fill="#222" stroke="#222" stroke-width="0.14" transform="rotate(-45 465.04999999999995 450.2)">CD11c<tspan dy="-2.97" font-size="4.22">cre</tspan><tspan dy="2.97" font-size="6.6">&#8203;</tspan> x IL-6R<tspan dy="-2.97" font-size="4.22">fl</tspan><tspan dy="2.97" font-size="6.6">&#8203;</tspan></text>
<text x="478.1" y="450.2" font-size="6.6" text-anchor="end" font-weight="normal" font-style="normal" fill="#222" stroke="#222" stroke-width="0.14" transform="rotate(-45 478.1 450.2)">CD11c<tspan dy="-2.97" font-size="4.22">cre</tspan><tspan dy="2.97" font-size="6.6">&#8203;</tspan> x IL-6<tspan dy="-2.97" font-size="4.22">fl</tspan><tspan dy="2.97" font-size="6.6">&#8203;</tspan></text>
<text x="491.6" y="450.2" font-size="6.6" text-anchor="end" font-weight="normal" font-style="normal" fill="#222" stroke="#222" stroke-width="0.14" transform="rotate(-45 491.6 450.2)">IL-6<tspan dy="-2.97" font-size="4.22">-/-</tspan><tspan dy="2.97" font-size="6.6">&#8203;</tspan></text>
<line x1="451.30" y1="360.50" x2="489.80" y2="360.50" stroke="#333" stroke-width="0.9" />
<text x="470.5" y="359.2" font-size="5.5" text-anchor="middle" font-weight="normal" font-style="normal" fill="#333" stroke="#333" stroke-width="0.14">‡‡</text>
<line x1="451.30" y1="369.50" x2="477.30" y2="369.50" stroke="#333" stroke-width="0.9" />
<text x="463.8" y="368.2" font-size="5.5" text-anchor="middle" font-weight="normal" font-style="normal" fill="#333" stroke="#333" stroke-width="0.14">‡‡ †</text>
<line x1="451.30" y1="378.50" x2="463.80" y2="378.50" stroke="#333" stroke-width="0.9" />
<text x="457.3" y="377.2" font-size="5.5" text-anchor="middle" font-weight="normal" font-style="normal" fill="#333" stroke="#333" stroke-width="0.14">‡‡††</text>
<rect x="486.30" y="384.20" width="4.50" height="4.50" fill="#a8002c" stroke="none" stroke-width="0" />
<text x="494" y="389.0" font-size="6.6" text-anchor="start" font-weight="normal" font-style="normal" fill="#222" stroke="#222" stroke-width="0.14">† Th22</text>
<rect x="486.30" y="394.00" width="4.50" height="4.50" fill="#2d4b7d" stroke="none" stroke-width="0" />
<text x="494" y="398.8" font-size="6.6" text-anchor="start" font-weight="normal" font-style="normal" fill="#222" stroke="#222" stroke-width="0.14">‡ Th17</text>
<text x="6.6" y="511.5" font-size="11" text-anchor="start" font-weight="bold" font-style="normal" fill="#111" stroke="#111" stroke-width="0.14">I</text>
<text x="48.4" y="517.0" font-size="6.6" text-anchor="middle" font-weight="normal" font-style="normal" fill="#222" stroke="#222" stroke-width="0.14">CD11c<tspan dy="-2.97" font-size="4.22">cre</tspan><tspan dy="2.97" font-size="6.6">&#8203;</tspan></text>
<path d="M47.6 548.1h.5M39.8 533.4h.5M49.5 548.3h.5M42.1 524.5h.5M38.2 541.1h.5M46.7 541.3h.5M43.2 566.6h.5M33.2 533.7h.5M42.4 544.9h.5M39.2 541.6h.5M39.7 547.8h.5M36.6 540.3h.5M40.2 530.7h.5M42.2 542.1h.5M33.1 559.6h.5M33.2 568.1h.5M35.4 557.9h.5M38.7 562.7h.5M37.9 555.8h.5M41.0 549.2h.5M41.0 563.4h.5M35.3 526.6h.5M40.3 535.3h.5M38.5 543.5h.5M34.9 556.5h.5M38.4 564.8h.5M40.3 556.1h.5M37.6 535.7h.5M36.4 533.1h.5M41.3 545.2h.5M33.6 525.3h.5M34.7 521.9h.5M34.6 525.5h.5M42.5 529.8h.5M36.1 542.1h.5M39.2 548.6h.5M42.8 551.2h.5M37.3 558.4h.5M40.9 535.1h.5M46.5 529.5h.5M41.4 558.5h.5M39.6 547.7h.5M39.6 551.5h.5M40.1 543.6h.5M40.3 540.0h.5M48.8 547.0h.5M35.8 551.3h.5M37.1 529.4h.5M37.6 549.5h.5M44.9 556.0h.5M40.2 541.6h.5M40.0 557.9h.5M38.4 557.3h.5M35.1 543.4h.5M42.9 551.9h.5M40.0 537.4h.5M30.1 538.3h.5M34.8 538.8h.5M46.8 534.4h.5M43.2 543.3h.5M33.6 544.8h.5M42.7 529.4h.5M33.3 539.0h.5M42.6 536.4h.5M41.1 549.0h.5M39.1 548.9h.5M45.3 541.3h.5M40.6 530.9h.5M35.5 542.4h.5M43.0 535.6h.5M32.2 554.5h.5M33.8 545.0h.5M41.4 532.3h.5M40.7 556.6h.5M37.7 552.2h.5M39.7 532.5h.5M36.0 536.3h.5M45.6 557.3h.5M40.2 525.0h.5M36.6 538.8h.5M29.5 543.3h.5M40.4 527.8h.5M36.9 538.1h.5M48.1 551.4h.5M42.8 544.6h.5M32.7 554.5h.5M42.6 539.4h.5M39.0 549.6h.5M37.9 548.4h.5M45.3 539.7h.5M37.3 543.7h.5M42.2 538.8h.5M39.4 535.4h.5M38.6 550.0h.5M35.0 541.4h.5M31.9 535.2h.5M39.4 549.8h.5M34.0 542.3h.5M34.5 547.3h.5M40.3 548.8h.5M38.0 526.7h.5M36.3 527.7h.5M35.7 542.8h.5M44.3 535.9h.5M35.2 545.9h.5M28.9 567.1h.5M31.5 555.5h.5M43.8 554.9h.5M38.5 552.2h.5M37.3 554.9h.5M35.8 533.9h.5M40.9 538.2h.5M42.3 533.4h.5M40.3 531.9h.5M38.5 568.9h.5M33.8 529.0h.5M31.2 540.8h.5M46.9 538.2h.5M43.5 541.3h.5M35.9 567.3h.5M44.3 521.8h.5M34.3 548.4h.5M42.2 540.9h.5M40.5 549.9h.5M37.3 555.3h.5M34.9 552.4h.5M43.5 545.9h.5M37.3 543.3h.5M28.2 546.5h.5M42.7 532.7h.5M40.7 544.1h.5M30.5 532.9h.5M37.7 549.1h.5M39.4 528.6h.5M36.4 544.8h.5M32.8 538.3h.5M47.4 553.9h.5M36.8 554.7h.5M33.9 561.6h.5M37.2 545.2h.5M36.2 544.6h.5M40.6 543.9h.5M35.0 552.5h.5M41.7 543.5h.5M44.1 534.8h.5M45.2 541.6h.5M46.4 538.3h.5M37.8 546.0h.5M44.3 560.5h.5M36.8 534.9h.5M42.7 558.2h.5M42.4 539.6h.5M45.2 543.2h.5M39.8 550.9h.5M40.1 552.0h.5M41.1 549.9h.5M39.8 555.8h.5M39.6 561.1h.5M39.3 552.9h.5M36.3 547.1h.5M41.1 545.2h.5M46.5 544.0h.5M44.4 547.7h.5M44.3 532.9h.5M37.2 554.9h.5M35.1 548.2h.5M41.8 545.8h.5M41.1 549.9h.5M37.9 548.4h.5M36.5 538.2h.5M31.3 542.3h.5M30.8 543.9h.5M40.0 530.7h.5M39.3 546.9h.5M37.3 532.7h.5M38.5 548.4h.5M43.5 566.4h.5M29.5 547.6h.5M41.1 536.0h.5M40.6 568.3h.5M39.6 559.7h.5M44.2 538.3h.5M27.8 557.2h.5M46.5 522.7h.5M38.0 535.3h.5M40.0 544.2h.5M44.5 536.5h.5M48.3 523.3h.5M38.5 551.0h.5M43.3 539.4h.5M29.7 546.0h.5M36.6 550.1h.5M27.4 541.2h.5M31.3 527.6h.5M41.0 557.0h.5M44.6 535.7h.5M41.5 522.5h.5M31.8 550.0h.5M37.1 531.4h.5M30.0 540.7h.5M33.9 556.8h.5M29.7 536.1h.5M39.3 556.9h.5M38.6 565.1h.5M38.9 542.2h.5M41.1 547.7h.5M31.7 532.3h.5M37.9 547.6h.5M33.1 535.0h.5M35.4 547.5h.5M36.9 550.7h.5M40.9 532.6h.5M37.6 528.8h.5M39.5 553.1h.5M34.2 522.5h.5M41.5 540.1h.5M38.9 549.0h.5M40.8 554.5h.5M36.6 539.9h.5M37.0 548.2h.5M37.8 558.9h.5M35.9 543.4h.5M37.3 568.7h.5M34.4 531.6h.5M37.2 552.6h.5M39.1 541.4h.5M38.0 540.7h.5M47.6 547.9h.5M41.1 555.0h.5M34.6 528.8h.5M37.2 561.2h.5M43.8 536.5h.5M33.0 554.6h.5M44.3 530.4h.5M46.8 534.3h.5M42.7 541.0h.5M37.4 536.2h.5M42.4 550.9h.5M42.9 540.2h.5M34.9 569.1h.5M47.4 541.2h.5M33.4 561.4h.5M39.7 544.2h.5M43.2 547.7h.5M39.5 567.2h.5M29.8 551.2h.5M34.2 544.4h.5M38.2 546.7h.5M27.2 551.8h.5M50.4 538.6h.5M43.4 551.0h.5M40.5 537.5h.5M42.1 546.7h.5M46.1 553.4h.5M46.4 549.3h.5M39.8 536.3h.5M51.3 559.5h.5M39.5 539.1h.5M41.8 559.7h.5M41.6 554.8h.5M53.8 539.3h.5M46.3 538.1h.5M52.8 537.1h.5M51.3 539.0h.5M49.7 536.5h.5M46.1 549.0h.5M48.1 531.5h.5M49.9 535.4h.5M47.2 525.3h.5M60.6 542.6h.5M50.6 540.3h.5M47.0 529.4h.5M54.2 540.4h.5M49.1 537.5h.5M37.3 536.9h.5M57.7 538.3h.5M53.4 540.4h.5M42.2 531.1h.5M46.2 538.7h.5M49.4 528.1h.5M56.9 536.6h.5M57.4 547.5h.5M44.3 531.1h.5M57.8 544.5h.5M54.5 539.3h.5M55.9 540.8h.5M46.2 541.2h.5M57.4 535.5h.5M48.0 535.1h.5M49.6 540.1h.5M56.3 537.6h.5M51.0 528.7h.5M50.4 532.5h.5M49.8 539.2h.5M53.3 555.0h.5M48.2 534.8h.5M46.8 536.2h.5M51.1 542.5h.5M42.8 542.0h.5M55.7 534.9h.5M49.1 538.5h.5M55.1 536.7h.5M51.7 537.6h.5M47.1 538.9h.5M55.4 537.8h.5M46.8 537.5h.5M52.0 539.1h.5M50.4 541.6h.5M57.9 541.6h.5M53.7 543.6h.5M52.3 536.7h.5M45.4 537.6h.5M58.5 532.8h.5M56.4 531.2h.5M54.0 546.5h.5M52.7 531.7h.5M53.9 536.8h.5M56.4 534.9h.5M43.9 535.1h.5M55.4 542.6h.5M24.3 523.2h.5M71.3 532.0h.5M44.8 527.3h.5M70.1 545.8h.5M66.3 534.6h.5M46.7 533.4h.5M53.0 555.4h.5M52.2 549.6h.5M39.0 567.2h.5M24.5 529.5h.5M56.9 568.2h.5M65.9 533.3h.5M70.7 543.4h.5M52.1 552.6h.5M54.4 563.7h.5" stroke="#666" stroke-width="0.5" opacity="0.5" fill="none"/>
<path d="M46.0,542.5 C47.0,534.5 50.0,532.5 54.0,533.5 C57.0,534.5 57.0,538.5 54.0,537.5 C52.0,536.5 49.0,538.5 46.0,542.5 Z" fill="none" stroke="#555" stroke-width="0.45"/>
<ellipse transform="translate(38.70 544.30) rotate(6)" rx="8.0" ry="18.0" fill="#f0f0f0" stroke="#999" stroke-width="0.35"/>
<ellipse transform="translate(38.70 544.30) rotate(6)" rx="6.6" ry="15.5" fill="#d6d6d6" stroke="#777" stroke-width="0.35"/>
<ellipse transform="translate(38.70 544.30) rotate(6)" rx="5.2" ry="13.0" fill="#aaaaaa" stroke="#444" stroke-width="0.4"/>
<ellipse transform="translate(38.70 544.30) rotate(6)" rx="4.0" ry="10.5" fill="#6a6a6a" stroke="#222" stroke-width="0.4"/>
<ellipse transform="translate(38.70 544.30) rotate(6)" rx="2.9" ry="8.0" fill="#3e3e3e" stroke="#111" stroke-width="0.4"/>
<ellipse transform="translate(38.70 544.30) rotate(6)" rx="1.7" ry="5.5" fill="#666" stroke="#222" stroke-width="0.3"/>
<ellipse transform="translate(39.10 544.50) rotate(6)" rx="0.7" ry="4.2" fill="#c8c8c8"/>
<line x1="44.50" y1="520.50" x2="44.50" y2="570.50" stroke="#1a1a1a" stroke-width="1.0" />
<line x1="22.50" y1="546.50" x2="74.50" y2="546.50" stroke="#1a1a1a" stroke-width="1.0" />
<rect x="22.5" y="520.5" width="52.0" height="50.0" fill="none" stroke="#111" stroke-width="1.2"/>
<path d="M20.3 561.0H22.5M21.3 563.5H22.5M21.3 558.5H22.5M20.3 550.4H22.5M21.3 552.9H22.5M21.3 547.9H22.5M20.3 539.9H22.5M21.3 542.4H22.5M21.3 537.4H22.5M20.3 529.3H22.5M21.3 531.8H22.5M21.3 526.8H22.5M24.0 570.5V573.3M25.7 570.5V572.0M27.4 570.5V572.5M29.1 570.5V572.0M30.8 570.5V572.0M32.4 570.5V573.3M34.1 570.5V572.0M35.8 570.5V572.5M37.5 570.5V572.0M39.2 570.5V572.0M40.9 570.5V573.3M42.6 570.5V572.0M44.3 570.5V572.5M46.0 570.5V572.0M47.7 570.5V572.0M49.3 570.5V573.3M51.0 570.5V572.0M52.7 570.5V572.5M54.4 570.5V572.0M56.1 570.5V572.0M57.8 570.5V573.3M59.5 570.5V572.0M61.2 570.5V572.5M62.9 570.5V572.0M64.6 570.5V572.0M66.2 570.5V573.3M67.9 570.5V572.0M69.6 570.5V572.5M71.3 570.5V572.0M73.0 570.5V572.0" stroke="#111" stroke-width="0.85" fill="none"/>
<text x="24.3" y="526.8" font-size="5.2" text-anchor="start" font-weight="normal" font-style="normal" fill="#222" stroke="#222" stroke-width="0.14">66.5</text>
<text x="73.2" y="526.8" font-size="5.2" text-anchor="end" font-weight="normal" font-style="normal" fill="#222" stroke="#222" stroke-width="0.14">3.2</text>
<text x="24.3" y="568.6" font-size="5.2" text-anchor="start" font-weight="normal" font-style="normal" fill="#222" stroke="#222" stroke-width="0.14">30.0</text>
<text x="73.2" y="568.6" font-size="5.2" text-anchor="end" font-weight="normal" font-style="normal" fill="#222" stroke="#222" stroke-width="0.14">0.3</text>
<text x="109.5" y="517.0" font-size="6.6" text-anchor="middle" font-weight="normal" font-style="normal" fill="#222" stroke="#222" stroke-width="0.14">CD11c<tspan dy="-2.97" font-size="4.22">cre</tspan><tspan dy="2.97" font-size="6.6">&#8203;</tspan> x IL-6R<tspan dy="-2.97" font-size="4.22">fl</tspan><tspan dy="2.97" font-size="6.6">&#8203;</tspan></text>
<path d="M103.5 537.3h.5M103.4 536.9h.5M98.8 537.1h.5M97.3 535.8h.5M107.4 542.9h.5M90.3 563.5h.5M106.2 556.7h.5M99.4 541.7h.5M97.6 545.0h.5M102.3 543.5h.5M95.9 532.2h.5M108.2 563.3h.5M93.8 536.0h.5M99.8 550.4h.5M99.4 546.3h.5M101.8 556.9h.5M93.5 556.4h.5M102.1 549.8h.5M92.5 540.8h.5M98.7 551.0h.5M103.4 551.6h.5M93.5 558.2h.5M100.3 554.4h.5M99.9 535.3h.5M113.0 551.2h.5M103.7 538.1h.5M98.8 556.5h.5M102.2 563.9h.5M105.9 531.0h.5M92.3 557.1h.5M102.9 540.5h.5M98.5 537.1h.5M108.9 541.6h.5M93.1 554.1h.5M99.5 547.7h.5M98.0 543.1h.5M90.6 549.8h.5M96.5 539.1h.5M101.5 558.4h.5M89.2 542.0h.5M102.7 555.3h.5M95.4 547.3h.5M101.9 554.4h.5M96.8 541.4h.5M97.4 556.8h.5M105.3 538.4h.5M99.2 546.1h.5M95.4 542.3h.5M104.2 552.5h.5M96.5 536.1h.5M99.3 526.6h.5M101.5 545.0h.5M93.3 540.9h.5M96.6 540.5h.5M95.6 559.3h.5M95.1 552.4h.5M101.0 560.2h.5M99.6 543.6h.5M100.3 521.9h.5M111.9 541.2h.5M98.3 530.6h.5M99.2 562.1h.5M96.1 548.7h.5M105.1 554.5h.5M97.9 523.6h.5M101.9 550.2h.5M98.3 538.7h.5M108.7 525.5h.5M97.4 536.7h.5M92.1 535.7h.5M95.9 557.9h.5M91.2 527.9h.5M101.2 525.9h.5M89.9 536.5h.5M93.9 532.5h.5M99.1 548.8h.5M96.7 540.5h.5M103.5 541.9h.5M103.6 536.9h.5M102.3 558.2h.5M98.3 539.8h.5M99.1 548.9h.5M93.9 544.1h.5M97.0 559.9h.5M91.3 551.0h.5M98.3 535.1h.5M100.6 540.9h.5M100.1 546.4h.5M105.9 539.0h.5M109.0 557.5h.5M107.7 545.9h.5M101.3 532.1h.5M106.6 530.5h.5M95.9 543.6h.5M101.1 547.5h.5M94.1 539.7h.5M102.3 557.1h.5M103.7 548.4h.5M98.6 537.5h.5M97.3 542.6h.5M102.5 537.9h.5M110.2 532.3h.5M104.0 541.4h.5M99.2 539.3h.5M107.6 540.3h.5M102.7 545.0h.5M103.6 550.3h.5M108.1 535.4h.5M95.8 562.9h.5M106.3 544.5h.5M98.5 546.5h.5M106.4 535.0h.5M107.1 543.0h.5M98.1 539.2h.5M89.5 547.3h.5M93.3 537.3h.5M95.4 546.3h.5M103.5 544.1h.5M100.9 548.3h.5M107.9 550.2h.5M107.7 543.0h.5M101.7 536.3h.5M102.9 534.0h.5M102.3 536.5h.5M98.1 557.5h.5M100.6 552.7h.5M98.7 522.5h.5M107.2 541.6h.5M96.7 554.4h.5M94.3 535.2h.5M105.6 535.8h.5M105.5 540.2h.5M98.9 544.5h.5M97.4 555.8h.5M105.4 544.4h.5M102.9 549.8h.5M108.3 525.7h.5M105.0 554.0h.5M98.3 543.8h.5M98.2 557.7h.5M94.2 550.5h.5M106.3 550.2h.5M97.5 538.5h.5M89.4 532.1h.5M105.4 533.0h.5M91.7 540.9h.5M92.5 548.9h.5M95.6 554.5h.5M99.3 527.7h.5M96.1 536.4h.5M95.7 557.7h.5M94.9 547.8h.5M97.0 550.4h.5M92.8 526.0h.5M102.5 559.8h.5M93.0 540.2h.5M97.4 533.1h.5M104.7 544.3h.5M93.0 541.3h.5M106.6 535.7h.5M97.3 534.4h.5M100.7 537.4h.5M104.4 534.3h.5M92.7 548.8h.5M101.3 546.5h.5M97.0 538.7h.5M95.9 541.7h.5M97.6 549.9h.5M100.0 550.0h.5M108.1 540.6h.5M98.5 547.9h.5M110.4 539.6h.5M108.3 557.1h.5M86.3 532.5h.5M95.0 548.2h.5M106.5 544.3h.5M100.7 568.2h.5M101.7 568.0h.5M95.5 562.3h.5M95.8 538.3h.5M99.7 552.3h.5M103.4 549.6h.5M96.2 563.9h.5M105.9 544.1h.5M97.1 543.2h.5M98.8 535.8h.5M99.9 536.2h.5M103.1 536.3h.5M102.4 547.3h.5M100.8 549.6h.5M96.5 552.0h.5M100.0 538.8h.5M108.6 556.2h.5M98.6 550.1h.5M103.3 561.6h.5M105.0 541.8h.5M98.7 530.5h.5M101.2 553.5h.5M98.0 551.2h.5M100.6 538.5h.5M93.8 556.3h.5M112.6 549.9h.5M94.5 532.0h.5M101.2 551.1h.5M109.2 545.6h.5M100.6 548.1h.5M98.2 540.4h.5M105.2 524.0h.5M99.4 550.0h.5M91.7 541.9h.5M107.6 547.9h.5M103.5 551.7h.5M101.0 547.7h.5M95.9 541.3h.5M109.2 529.7h.5M99.1 529.3h.5M97.3 534.9h.5M93.8 546.4h.5M95.2 549.7h.5M99.3 547.9h.5M101.0 557.4h.5M100.7 524.1h.5M107.5 532.9h.5M99.5 547.4h.5M95.6 544.7h.5M107.4 524.5h.5M91.6 538.6h.5M99.1 529.1h.5M88.4 554.1h.5M101.9 528.6h.5M102.8 542.9h.5M100.8 528.4h.5M98.9 549.1h.5M91.2 531.7h.5M104.8 566.4h.5M103.3 542.9h.5M94.5 539.0h.5M98.7 548.7h.5M94.1 543.6h.5M104.9 548.3h.5M86.2 524.9h.5M106.7 550.4h.5M112.8 552.8h.5M102.3 561.1h.5M97.7 537.4h.5M94.9 546.5h.5M102.2 554.4h.5M107.2 550.8h.5M106.1 540.8h.5M95.2 552.0h.5M105.1 559.0h.5M99.2 538.3h.5M98.2 547.8h.5M99.7 541.5h.5M101.3 540.3h.5M101.7 536.8h.5M92.2 540.1h.5M109.5 534.3h.5M104.6 559.1h.5M97.3 546.6h.5M102.0 540.3h.5M121.2 538.4h.5M103.5 534.8h.5M109.8 538.1h.5M114.9 535.6h.5M111.9 533.6h.5M116.4 538.5h.5M115.2 535.1h.5M116.0 536.1h.5M115.0 536.8h.5M110.2 532.3h.5M104.1 531.0h.5M115.8 553.2h.5M105.3 533.6h.5M113.4 554.7h.5M112.5 532.0h.5M115.6 547.6h.5M99.5 531.9h.5M119.7 532.0h.5M113.0 534.5h.5M117.3 530.6h.5M115.0 538.6h.5M116.3 539.6h.5M114.3 529.0h.5M111.9 533.0h.5M116.2 536.4h.5M114.3 542.8h.5M113.0 545.6h.5M117.7 530.4h.5M110.6 543.4h.5M111.0 543.3h.5M110.7 536.9h.5M118.6 529.9h.5M113.9 535.3h.5M114.3 545.8h.5M116.0 531.0h.5M118.3 535.3h.5M114.3 543.1h.5M111.9 542.1h.5M114.4 533.2h.5M111.9 531.0h.5M119.4 538.3h.5M118.3 532.1h.5M117.7 531.8h.5M114.9 537.5h.5M110.5 539.0h.5M113.7 533.3h.5M109.8 531.2h.5M120.4 538.2h.5M111.7 540.9h.5M109.2 531.9h.5M115.3 545.2h.5M115.0 538.3h.5M122.2 530.0h.5M128.8 532.2h.5M113.1 531.0h.5M107.4 536.4h.5M125.7 533.0h.5M110.4 538.8h.5M108.4 536.3h.5M125.8 565.8h.5M116.1 525.4h.5M111.8 527.7h.5M111.9 560.8h.5M118.8 543.9h.5M92.6 566.2h.5M128.9 544.9h.5M87.2 554.0h.5M105.0 540.6h.5M103.8 534.7h.5M91.7 552.7h.5M110.9 542.2h.5M122.8 545.6h.5M92.8 534.4h.5M113.0 553.5h.5" stroke="#666" stroke-width="0.5" opacity="0.5" fill="none"/>
<path d="M107.0,542.5 C108.0,534.5 111.0,532.5 115.0,533.5 C118.0,534.5 118.0,538.5 115.0,537.5 C113.0,536.5 110.0,538.5 107.0,542.5 Z" fill="none" stroke="#555" stroke-width="0.45"/>
<ellipse transform="translate(99.70 544.30) rotate(6)" rx="8.0" ry="18.0" fill="#f0f0f0" stroke="#999" stroke-width="0.35"/>
<ellipse transform="translate(99.70 544.30) rotate(6)" rx="6.6" ry="15.5" fill="#d6d6d6" stroke="#777" stroke-width="0.35"/>
<ellipse transform="translate(99.70 544.30) rotate(6)" rx="5.2" ry="13.0" fill="#aaaaaa" stroke="#444" stroke-width="0.4"/>
<ellipse transform="translate(99.70 544.30) rotate(6)" rx="4.0" ry="10.5" fill="#6a6a6a" stroke="#222" stroke-width="0.4"/>
<ellipse transform="translate(99.70 544.30) rotate(6)" rx="2.9" ry="8.0" fill="#3e3e3e" stroke="#111" stroke-width="0.4"/>
<ellipse transform="translate(99.70 544.30) rotate(6)" rx="1.7" ry="5.5" fill="#666" stroke="#222" stroke-width="0.3"/>
<ellipse transform="translate(100.10 544.50) rotate(6)" rx="0.7" ry="4.2" fill="#c8c8c8"/>
<line x1="105.50" y1="520.50" x2="105.50" y2="570.50" stroke="#1a1a1a" stroke-width="1.0" />
<line x1="83.50" y1="546.50" x2="136.50" y2="546.50" stroke="#1a1a1a" stroke-width="1.0" />
<rect x="83.5" y="520.5" width="53.0" height="50.0" fill="none" stroke="#111" stroke-width="1.2"/>
<path d="M81.3 561.0H83.5M82.3 563.5H83.5M82.3 558.5H83.5M81.3 550.4H83.5M82.3 552.9H83.5M82.3 547.9H83.5M81.3 539.9H83.5M82.3 542.4H83.5M82.3 537.4H83.5M81.3 529.3H83.5M82.3 531.8H83.5M82.3 526.8H83.5M85.0 570.5V573.3M86.7 570.5V572.0M88.4 570.5V572.5M90.2 570.5V572.0M91.9 570.5V572.0M93.6 570.5V573.3M95.3 570.5V572.0M97.1 570.5V572.5M98.8 570.5V572.0M100.5 570.5V572.0M102.2 570.5V573.3M104.0 570.5V572.0M105.7 570.5V572.5M107.4 570.5V572.0M109.1 570.5V572.0M110.9 570.5V573.3M112.6 570.5V572.0M114.3 570.5V572.5M116.0 570.5V572.0M117.8 570.5V572.0M119.5 570.5V573.3M121.2 570.5V572.0M122.9 570.5V572.5M124.7 570.5V572.0M126.4 570.5V572.0M128.1 570.5V573.3M129.8 570.5V572.0M131.6 570.5V572.5M133.3 570.5V572.0M135.0 570.5V572.0" stroke="#111" stroke-width="0.85" fill="none"/>
<text x="85.3" y="526.8" font-size="5.2" text-anchor="start" font-weight="normal" font-style="normal" fill="#222" stroke="#222" stroke-width="0.14">62.6</text>
<text x="135.2" y="526.8" font-size="5.2" text-anchor="end" font-weight="normal" font-style="normal" fill="#222" stroke="#222" stroke-width="0.14">3.6</text>
<text x="85.3" y="568.6" font-size="5.2" text-anchor="start" font-weight="normal" font-style="normal" fill="#222" stroke="#222" stroke-width="0.14">33.4</text>
<text x="135.2" y="568.6" font-size="5.2" text-anchor="end" font-weight="normal" font-style="normal" fill="#222" stroke="#222" stroke-width="0.14">0.3</text>
<text x="49.5" y="586.0" font-size="6.6" text-anchor="middle" font-weight="normal" font-style="normal" fill="#222" stroke="#222" stroke-width="0.14">CD11c<tspan dy="-2.97" font-size="4.22">cre</tspan><tspan dy="2.97" font-size="6.6">&#8203;</tspan> x IL-6<tspan dy="-2.97" font-size="4.22">fl</tspan><tspan dy="2.97" font-size="6.6">&#8203;</tspan></text>
<path d="M33.5 598.7h.5M33.7 629.5h.5M35.7 608.9h.5M43.9 625.4h.5M42.8 593.1h.5M35.8 608.7h.5M36.1 636.4h.5M38.2 627.2h.5M38.1 612.8h.5M41.6 618.7h.5M41.5 593.3h.5M41.5 617.2h.5M42.0 612.9h.5M41.0 598.3h.5M44.7 599.4h.5M46.0 625.3h.5M38.7 610.1h.5M42.9 610.0h.5M33.1 616.7h.5M32.9 608.2h.5M48.0 622.9h.5M36.7 612.7h.5M35.8 613.4h.5M31.8 621.5h.5M39.1 606.4h.5M36.8 607.9h.5M36.1 607.7h.5M45.5 621.4h.5M41.1 617.8h.5M46.6 621.9h.5M40.1 616.8h.5M40.0 613.8h.5M41.8 614.1h.5M43.9 617.1h.5M37.6 620.5h.5M39.9 608.3h.5M37.1 608.6h.5M37.5 608.3h.5M38.4 626.6h.5M36.6 611.7h.5M35.3 597.6h.5M34.7 607.5h.5M39.8 609.6h.5M33.0 609.2h.5M46.6 603.2h.5M39.3 625.3h.5M35.0 606.8h.5M53.5 628.0h.5M36.4 615.4h.5M39.5 615.2h.5M41.3 610.0h.5M27.9 602.3h.5M39.8 597.5h.5M37.4 631.0h.5M40.2 605.8h.5M39.7 625.7h.5M30.4 598.9h.5M35.7 608.4h.5M38.6 606.7h.5M39.5 614.5h.5M33.2 606.2h.5M32.8 616.9h.5M40.3 621.1h.5M34.6 607.3h.5M27.9 613.6h.5M30.9 617.5h.5M44.4 618.7h.5M42.1 616.2h.5M40.9 624.4h.5M45.3 637.0h.5M37.7 623.2h.5M43.3 618.5h.5M40.3 598.8h.5M44.4 603.2h.5M35.7 603.5h.5M41.8 602.2h.5M41.3 620.1h.5M39.5 609.5h.5M42.0 628.8h.5M36.7 601.3h.5M36.0 603.3h.5M37.8 611.7h.5M27.5 630.5h.5M34.9 608.5h.5M33.9 616.2h.5M43.2 592.4h.5M40.1 631.1h.5M37.6 624.2h.5M40.6 602.7h.5M44.0 606.4h.5M40.8 608.8h.5M37.9 615.3h.5M45.6 593.9h.5M33.4 614.7h.5M43.9 611.3h.5M38.1 619.6h.5M46.9 603.0h.5M31.0 610.2h.5M42.8 598.2h.5M44.6 624.4h.5M42.9 603.7h.5M32.5 621.1h.5M40.3 621.5h.5M44.6 625.1h.5M37.6 613.4h.5M41.3 622.2h.5M38.1 607.5h.5M34.1 625.4h.5M40.7 606.8h.5M32.6 607.5h.5M32.6 608.3h.5M36.3 619.4h.5M33.9 592.3h.5M36.0 597.5h.5M42.7 611.1h.5M30.7 603.3h.5M38.9 613.0h.5M29.8 612.0h.5M40.5 625.0h.5M44.5 612.0h.5M32.5 609.1h.5M42.2 602.8h.5M45.3 602.3h.5M33.4 623.1h.5M38.5 617.2h.5M37.5 613.8h.5M36.1 635.5h.5M42.3 612.0h.5M41.4 623.2h.5M36.4 615.5h.5M40.0 606.9h.5M35.1 611.2h.5M37.5 608.7h.5M29.3 614.4h.5M42.3 614.3h.5M47.5 623.5h.5M37.2 605.6h.5M41.5 609.2h.5M30.9 614.9h.5M37.5 610.9h.5M42.1 615.7h.5M49.1 604.9h.5M38.5 617.1h.5M36.8 607.5h.5M47.7 596.6h.5M40.7 593.1h.5M33.2 626.7h.5M46.7 615.0h.5M25.4 625.2h.5M40.2 600.6h.5M37.2 598.2h.5M38.5 612.5h.5M39.6 622.6h.5M33.2 598.9h.5M37.2 608.4h.5M38.8 629.3h.5M39.1 601.0h.5M37.5 603.3h.5M37.8 620.2h.5M33.4 621.6h.5M47.9 631.1h.5M47.1 614.5h.5M32.3 636.7h.5M38.7 616.2h.5M37.2 602.6h.5M42.1 597.3h.5M32.1 619.9h.5M37.1 603.8h.5M41.5 629.9h.5M37.6 611.9h.5M41.8 624.3h.5M44.1 621.3h.5M35.7 619.6h.5M39.0 593.9h.5M45.2 620.1h.5M45.8 612.7h.5M42.6 612.7h.5M39.8 624.0h.5M39.3 620.5h.5M38.8 627.6h.5M42.2 594.4h.5M47.3 618.6h.5M36.5 606.3h.5M48.9 614.5h.5M41.5 620.4h.5M36.0 633.7h.5M49.5 604.5h.5M44.7 594.7h.5M37.3 614.2h.5M39.3 620.1h.5M41.0 617.8h.5M38.3 617.0h.5M36.2 636.2h.5M39.3 627.8h.5M39.5 611.8h.5M38.1 598.6h.5M49.3 618.3h.5M39.7 608.2h.5M45.4 609.7h.5M36.7 607.3h.5M46.7 617.1h.5M38.3 606.1h.5M45.4 616.8h.5M37.4 623.8h.5M43.4 602.1h.5M44.7 626.1h.5M37.8 598.2h.5M44.4 609.6h.5M38.0 610.2h.5M37.7 623.1h.5M33.6 619.6h.5M44.8 625.6h.5M42.6 616.6h.5M38.0 612.1h.5M34.7 632.7h.5M38.4 601.9h.5M43.1 630.8h.5M40.4 609.9h.5M33.5 620.9h.5M37.8 605.9h.5M42.0 598.7h.5M36.0 597.2h.5M37.8 622.7h.5M32.6 629.1h.5M35.7 608.0h.5M43.9 605.2h.5M46.2 611.2h.5M38.6 602.5h.5M44.7 612.8h.5M36.7 602.7h.5M35.9 612.4h.5M35.5 622.6h.5M38.9 606.5h.5M41.3 629.8h.5M28.8 617.6h.5M44.4 615.1h.5M43.1 595.9h.5M35.4 625.0h.5M38.6 614.2h.5M42.1 617.7h.5M41.3 607.9h.5M37.6 628.5h.5M36.6 597.1h.5M37.3 623.7h.5M47.9 615.2h.5M36.0 620.5h.5M40.5 627.0h.5M41.6 622.1h.5M41.6 618.3h.5M34.6 611.7h.5M46.9 628.7h.5M43.8 618.0h.5M38.5 617.5h.5M37.5 625.9h.5M37.6 604.9h.5M31.2 631.2h.5M35.4 603.7h.5M41.1 634.0h.5M42.4 609.7h.5M41.9 604.1h.5M51.4 607.7h.5M52.7 611.2h.5M55.2 616.4h.5M56.7 606.2h.5M53.9 603.5h.5M49.6 605.9h.5M57.6 604.2h.5M45.0 602.7h.5M46.8 606.6h.5M51.1 602.0h.5M48.8 605.6h.5M54.5 610.4h.5M59.1 606.3h.5M55.7 607.9h.5M47.3 604.5h.5M63.3 606.8h.5M60.7 611.4h.5M60.7 606.6h.5M57.2 606.1h.5M47.3 602.0h.5M54.8 599.9h.5M54.4 603.4h.5M54.4 601.0h.5M56.8 606.4h.5M45.2 600.7h.5M53.0 599.8h.5M54.3 609.8h.5M49.5 614.1h.5M59.7 609.0h.5M54.9 609.7h.5M51.4 613.7h.5M50.1 595.6h.5M52.8 609.6h.5M56.7 602.3h.5M59.4 603.6h.5M55.7 611.0h.5M53.6 612.9h.5M50.3 617.2h.5M55.1 605.5h.5M65.3 607.5h.5M44.8 614.2h.5M60.2 604.8h.5M47.9 612.8h.5M53.0 603.0h.5M50.4 607.8h.5M57.5 614.9h.5M49.7 614.8h.5M45.4 610.9h.5M52.0 609.6h.5M50.6 604.2h.5M54.1 612.9h.5M42.0 607.8h.5M50.8 602.4h.5M46.2 610.0h.5M55.4 610.6h.5M43.1 600.3h.5M49.7 605.5h.5M61.2 605.7h.5M53.3 612.2h.5M60.8 609.3h.5M34.4 632.0h.5M59.4 629.5h.5M51.7 603.4h.5M25.3 620.6h.5M24.2 616.9h.5M62.2 598.4h.5M45.3 618.0h.5M31.0 601.4h.5M54.0 600.0h.5M31.1 602.3h.5M70.3 635.5h.5M29.1 619.6h.5M44.1 593.0h.5M36.1 623.4h.5M24.5 638.5h.5" stroke="#666" stroke-width="0.5" opacity="0.5" fill="none"/>
<path d="M46.0,612.5 C47.0,604.5 50.0,602.5 54.0,603.5 C57.0,604.5 57.0,608.5 54.0,607.5 C52.0,606.5 49.0,608.5 46.0,612.5 Z" fill="none" stroke="#555" stroke-width="0.45"/>
<ellipse transform="translate(38.70 614.30) rotate(6)" rx="8.0" ry="18.0" fill="#f0f0f0" stroke="#999" stroke-width="0.35"/>
<ellipse transform="translate(38.70 614.30) rotate(6)" rx="6.6" ry="15.5" fill="#d6d6d6" stroke="#777" stroke-width="0.35"/>
<ellipse transform="translate(38.70 614.30) rotate(6)" rx="5.2" ry="13.0" fill="#aaaaaa" stroke="#444" stroke-width="0.4"/>
<ellipse transform="translate(38.70 614.30) rotate(6)" rx="4.0" ry="10.5" fill="#6a6a6a" stroke="#222" stroke-width="0.4"/>
<ellipse transform="translate(38.70 614.30) rotate(6)" rx="2.9" ry="8.0" fill="#3e3e3e" stroke="#111" stroke-width="0.4"/>
<ellipse transform="translate(38.70 614.30) rotate(6)" rx="1.7" ry="5.5" fill="#666" stroke="#222" stroke-width="0.3"/>
<ellipse transform="translate(39.10 614.50) rotate(6)" rx="0.7" ry="4.2" fill="#c8c8c8"/>
<line x1="44.50" y1="590.50" x2="44.50" y2="641.50" stroke="#1a1a1a" stroke-width="1.0" />
<line x1="22.50" y1="616.50" x2="74.50" y2="616.50" stroke="#1a1a1a" stroke-width="1.0" />
<rect x="22.5" y="590.5" width="52.0" height="51.0" fill="none" stroke="#111" stroke-width="1.2"/>
<path d="M20.3 632.0H22.5M21.3 634.5H22.5M21.3 629.5H22.5M20.3 621.2H22.5M21.3 623.7H22.5M21.3 618.7H22.5M20.3 610.3H22.5M21.3 612.8H22.5M21.3 607.8H22.5M20.3 599.5H22.5M21.3 602.0H22.5M21.3 597.0H22.5M24.0 641.5V644.3M25.7 641.5V643.0M27.4 641.5V643.5M29.1 641.5V643.0M30.8 641.5V643.0M32.4 641.5V644.3M34.1 641.5V643.0M35.8 641.5V643.5M37.5 641.5V643.0M39.2 641.5V643.0M40.9 641.5V644.3M42.6 641.5V643.0M44.3 641.5V643.5M46.0 641.5V643.0M47.7 641.5V643.0M49.3 641.5V644.3M51.0 641.5V643.0M52.7 641.5V643.5M54.4 641.5V643.0M56.1 641.5V643.0M57.8 641.5V644.3M59.5 641.5V643.0M61.2 641.5V643.5M62.9 641.5V643.0M64.6 641.5V643.0M66.2 641.5V644.3M67.9 641.5V643.0M69.6 641.5V643.5M71.3 641.5V643.0M73.0 641.5V643.0" stroke="#111" stroke-width="0.85" fill="none"/>
<text x="24.3" y="596.8" font-size="5.2" text-anchor="start" font-weight="normal" font-style="normal" fill="#222" stroke="#222" stroke-width="0.14">82.5</text>
<text x="73.2" y="596.8" font-size="5.2" text-anchor="end" font-weight="normal" font-style="normal" fill="#222" stroke="#222" stroke-width="0.14">3.7</text>
<text x="24.3" y="639.6" font-size="5.2" text-anchor="start" font-weight="normal" font-style="normal" fill="#222" stroke="#222" stroke-width="0.14">13.3</text>
<text x="73.2" y="639.6" font-size="5.2" text-anchor="end" font-weight="normal" font-style="normal" fill="#222" stroke="#222" stroke-width="0.14">0.5</text>
<text x="109.0" y="586.0" font-size="6.6" text-anchor="middle" font-weight="normal" font-style="normal" fill="#222" stroke="#222" stroke-width="0.14">IL-6<tspan dy="-2.97" font-size="4.22">-/-</tspan><tspan dy="2.97" font-size="6.6">&#8203;</tspan></text>
<path d="M99.0 624.3h.5M102.6 611.4h.5M103.9 623.4h.5M98.3 623.2h.5M89.4 598.9h.5M98.7 615.3h.5M93.2 630.3h.5M98.4 615.2h.5M100.0 622.1h.5M97.4 622.0h.5M96.2 596.7h.5M102.7 615.4h.5M104.5 591.5h.5M100.7 606.2h.5M99.3 609.1h.5M98.4 605.9h.5M105.1 594.0h.5M92.1 617.4h.5M109.9 604.8h.5M95.8 600.2h.5M95.3 627.7h.5M103.5 623.8h.5M101.9 616.2h.5M97.4 602.5h.5M98.4 628.0h.5M96.8 614.0h.5M108.4 612.7h.5M103.3 607.1h.5M109.3 599.5h.5M102.9 610.8h.5M101.2 617.7h.5M106.6 623.5h.5M105.3 617.7h.5M95.0 628.8h.5M107.6 619.0h.5M104.1 610.9h.5M93.2 624.7h.5M96.7 635.3h.5M103.5 613.3h.5M97.2 614.8h.5M95.3 609.2h.5M107.9 610.2h.5M109.1 612.4h.5M102.2 603.0h.5M98.8 608.4h.5M93.5 635.6h.5M103.1 612.6h.5M94.9 613.9h.5M95.1 602.5h.5M99.3 638.1h.5M91.8 619.9h.5M93.4 612.0h.5M100.5 604.9h.5M108.8 619.6h.5M97.1 594.7h.5M101.0 605.9h.5M105.1 601.6h.5M106.0 608.3h.5M101.1 610.4h.5M103.2 626.6h.5M97.6 603.2h.5M109.4 624.4h.5M109.4 624.4h.5M100.8 632.2h.5M96.9 608.6h.5M98.2 621.4h.5M96.1 611.5h.5M96.1 610.8h.5M105.6 626.2h.5M96.8 618.8h.5M94.4 627.7h.5M99.6 616.6h.5M106.3 613.9h.5M97.1 606.5h.5M95.6 619.8h.5M97.9 619.4h.5M92.9 608.6h.5M110.2 617.7h.5M99.7 627.1h.5M101.5 631.1h.5M94.5 622.3h.5M95.0 621.3h.5M112.1 631.0h.5M96.0 618.3h.5M102.4 605.3h.5M101.3 601.3h.5M104.9 624.0h.5M99.4 621.4h.5M111.7 611.7h.5M91.1 617.4h.5M98.0 604.6h.5M104.5 625.0h.5M103.0 632.2h.5M97.1 608.8h.5M86.9 617.5h.5M99.1 614.2h.5M95.5 616.1h.5M105.3 606.3h.5M102.9 611.8h.5M99.4 614.9h.5M107.5 619.5h.5M103.5 615.2h.5M89.7 624.3h.5M100.0 614.6h.5M97.7 595.8h.5M107.4 634.6h.5M107.8 592.4h.5M102.8 600.0h.5M99.2 607.6h.5M97.1 604.7h.5M97.8 622.4h.5M108.0 624.2h.5M100.1 611.9h.5M98.9 613.3h.5M97.1 611.5h.5M104.2 610.9h.5M96.1 612.1h.5M100.5 612.6h.5M98.8 621.6h.5M99.9 601.9h.5M102.9 605.3h.5M103.9 622.9h.5M102.5 617.1h.5M93.5 611.3h.5M100.7 620.9h.5M94.6 611.7h.5M92.6 615.6h.5M100.5 614.9h.5M108.2 622.0h.5M99.2 606.9h.5M97.9 622.5h.5M104.6 607.7h.5M99.5 608.5h.5M103.5 615.7h.5M96.6 603.4h.5M106.5 597.4h.5M110.0 607.3h.5M104.3 620.0h.5M104.2 626.6h.5M97.8 613.3h.5M104.9 619.9h.5M96.4 604.8h.5M93.0 616.5h.5M97.5 595.7h.5M97.4 617.2h.5M101.0 611.0h.5M100.9 621.0h.5M94.2 604.2h.5M104.9 622.0h.5M93.2 605.2h.5M107.2 622.2h.5M99.4 625.2h.5M106.8 629.7h.5M93.3 598.7h.5M97.6 613.0h.5M98.4 616.3h.5M107.4 626.1h.5M105.0 613.5h.5M108.2 618.8h.5M101.3 613.3h.5M91.1 638.2h.5M100.0 623.8h.5M111.2 611.3h.5M94.4 625.2h.5M101.3 602.7h.5M104.8 613.7h.5M95.2 617.9h.5M95.0 624.7h.5M110.9 617.2h.5M101.2 612.6h.5M104.3 613.9h.5M105.2 629.8h.5M104.3 602.5h.5M103.4 610.5h.5M101.6 624.6h.5M96.8 615.9h.5M107.3 604.0h.5M99.1 621.9h.5M99.0 625.3h.5M95.1 596.4h.5M102.0 612.0h.5M101.6 624.6h.5M105.3 609.6h.5M98.2 591.4h.5M95.3 616.3h.5M101.2 596.6h.5M104.0 613.1h.5M105.5 609.5h.5M104.9 600.9h.5M90.9 604.3h.5M103.5 618.2h.5M90.8 615.2h.5M103.4 632.7h.5M103.9 619.4h.5M92.3 617.8h.5M90.4 610.2h.5M98.3 602.5h.5M95.1 611.9h.5M103.0 606.2h.5M101.6 621.6h.5M100.0 635.4h.5M98.5 605.2h.5M90.7 625.8h.5M103.4 611.4h.5M101.6 612.1h.5M104.4 613.4h.5M101.2 612.6h.5M102.8 599.4h.5M102.1 620.8h.5M109.4 605.1h.5M100.8 624.3h.5M96.8 606.8h.5M102.3 637.0h.5M105.4 624.4h.5M95.3 621.1h.5M105.7 599.2h.5M100.1 611.3h.5M103.3 593.7h.5M103.6 613.5h.5M89.8 607.4h.5M103.3 618.4h.5M103.8 594.2h.5M101.1 628.9h.5M92.4 620.9h.5M96.5 619.8h.5M100.6 595.0h.5M94.9 628.0h.5M99.5 627.6h.5M101.8 623.7h.5M98.1 616.0h.5M98.2 623.8h.5M97.2 626.1h.5M107.9 599.7h.5M99.2 619.7h.5M108.9 626.6h.5M100.5 593.9h.5M104.2 606.9h.5M101.0 618.1h.5M93.1 625.6h.5M104.6 620.1h.5M103.0 617.6h.5M93.2 607.8h.5M104.1 609.8h.5M100.2 617.8h.5M100.5 616.5h.5M102.5 613.5h.5M94.6 610.5h.5M104.8 605.8h.5M102.4 617.0h.5M100.0 604.7h.5M97.0 624.1h.5M96.3 617.5h.5M100.7 615.8h.5M104.8 611.9h.5M98.7 606.0h.5M100.3 614.1h.5M95.5 632.1h.5M96.4 612.0h.5M93.8 615.2h.5M101.8 625.8h.5M118.4 605.2h.5M121.5 607.0h.5M121.2 615.6h.5M111.6 602.4h.5M116.2 614.3h.5M115.5 612.7h.5M116.5 611.7h.5M120.1 606.1h.5M106.6 606.9h.5M109.7 601.9h.5M112.7 610.9h.5M104.5 600.4h.5M117.5 603.3h.5M111.6 613.9h.5M119.1 609.2h.5M116.2 594.7h.5M116.3 609.3h.5M106.7 608.4h.5M115.8 607.0h.5M117.5 611.7h.5M113.8 606.3h.5M107.7 612.9h.5M110.7 609.0h.5M121.1 611.2h.5M107.3 607.1h.5M110.1 599.8h.5M109.6 610.3h.5M115.2 606.5h.5M114.4 602.0h.5M109.8 606.7h.5M117.5 606.0h.5M112.7 609.1h.5M120.8 601.6h.5M116.2 608.4h.5M113.2 608.7h.5M103.8 607.6h.5M112.4 601.7h.5M117.7 606.9h.5M111.9 611.1h.5M109.0 604.1h.5M117.6 611.6h.5M123.5 605.4h.5M106.4 600.5h.5M107.7 608.0h.5M112.4 604.3h.5M108.6 604.2h.5M111.8 613.1h.5M116.6 614.0h.5M117.6 611.1h.5M119.4 609.6h.5M121.1 612.8h.5M122.5 608.5h.5M109.7 619.3h.5M112.2 610.0h.5M111.7 604.2h.5M115.7 602.2h.5M112.8 614.1h.5M114.2 611.4h.5M116.7 609.3h.5M114.1 610.4h.5M105.7 613.5h.5M114.8 618.5h.5M119.3 621.6h.5M108.5 633.4h.5M91.7 605.0h.5M85.1 636.1h.5M129.4 611.5h.5M127.5 619.0h.5M132.0 635.7h.5M101.4 605.2h.5M105.7 638.3h.5M108.4 609.2h.5M85.7 610.4h.5M131.7 612.0h.5M125.0 635.4h.5" stroke="#666" stroke-width="0.5" opacity="0.5" fill="none"/>
<path d="M107.0,612.5 C108.0,604.5 111.0,602.5 115.0,603.5 C118.0,604.5 118.0,608.5 115.0,607.5 C113.0,606.5 110.0,608.5 107.0,612.5 Z" fill="none" stroke="#555" stroke-width="0.45"/>
<ellipse transform="translate(99.70 614.30) rotate(6)" rx="8.0" ry="18.0" fill="#f0f0f0" stroke="#999" stroke-width="0.35"/>
<ellipse transform="translate(99.70 614.30) rotate(6)" rx="6.6" ry="15.5" fill="#d6d6d6" stroke="#777" stroke-width="0.35"/>
<ellipse transform="translate(99.70 614.30) rotate(6)" rx="5.2" ry="13.0" fill="#aaaaaa" stroke="#444" stroke-width="0.4"/>
<ellipse transform="translate(99.70 614.30) rotate(6)" rx="4.0" ry="10.5" fill="#6a6a6a" stroke="#222" stroke-width="0.4"/>
<ellipse transform="translate(99.70 614.30) rotate(6)" rx="2.9" ry="8.0" fill="#3e3e3e" stroke="#111" stroke-width="0.4"/>
<ellipse transform="translate(99.70 614.30) rotate(6)" rx="1.7" ry="5.5" fill="#666" stroke="#222" stroke-width="0.3"/>
<ellipse transform="translate(100.10 614.50) rotate(6)" rx="0.7" ry="4.2" fill="#c8c8c8"/>
<line x1="105.50" y1="590.50" x2="105.50" y2="641.50" stroke="#1a1a1a" stroke-width="1.0" />
<line x1="83.50" y1="616.50" x2="136.50" y2="616.50" stroke="#1a1a1a" stroke-width="1.0" />
<rect x="83.5" y="590.5" width="53.0" height="51.0" fill="none" stroke="#111" stroke-width="1.2"/>
<path d="M81.3 632.0H83.5M82.3 634.5H83.5M82.3 629.5H83.5M81.3 621.2H83.5M82.3 623.7H83.5M82.3 618.7H83.5M81.3 610.3H83.5M82.3 612.8H83.5M82.3 607.8H83.5M81.3 599.5H83.5M82.3 602.0H83.5M82.3 597.0H83.5M85.0 641.5V644.3M86.7 641.5V643.0M88.4 641.5V643.5M90.2 641.5V643.0M91.9 641.5V643.0M93.6 641.5V644.3M95.3 641.5V643.0M97.1 641.5V643.5M98.8 641.5V643.0M100.5 641.5V643.0M102.2 641.5V644.3M104.0 641.5V643.0M105.7 641.5V643.5M107.4 641.5V643.0M109.1 641.5V643.0M110.9 641.5V644.3M112.6 641.5V643.0M114.3 641.5V643.5M116.0 641.5V643.0M117.8 641.5V643.0M119.5 641.5V644.3M121.2 641.5V643.0M122.9 641.5V643.5M124.7 641.5V643.0M126.4 641.5V643.0M128.1 641.5V644.3M129.8 641.5V643.0M131.6 641.5V643.5M133.3 641.5V643.0M135.0 641.5V643.0" stroke="#111" stroke-width="0.85" fill="none"/>
<text x="85.3" y="596.8" font-size="5.2" text-anchor="start" font-weight="normal" font-style="normal" fill="#222" stroke="#222" stroke-width="0.14">63.5</text>
<text x="135.2" y="596.8" font-size="5.2" text-anchor="end" font-weight="normal" font-style="normal" fill="#222" stroke="#222" stroke-width="0.14">2.2</text>
<text x="85.3" y="639.6" font-size="5.2" text-anchor="start" font-weight="normal" font-style="normal" fill="#222" stroke="#222" stroke-width="0.14">33.3</text>
<text x="135.2" y="639.6" font-size="5.2" text-anchor="end" font-weight="normal" font-style="normal" fill="#222" stroke="#222" stroke-width="0.14">1.0</text>
<line x1="13.60" y1="604.00" x2="13.60" y2="530.50" stroke="#111" stroke-width="1.1" />
<polygon points="11.399999999999999,531.0 13.6,527.0 15.8,531.0" fill="#111"/>
<text x="14.6" y="615.2" font-size="7.4" text-anchor="middle" font-weight="normal" font-style="normal" fill="#222" stroke="#222" stroke-width="0.14" transform="rotate(-90 14.6 615.2)">IFNγ</text>
<text x="44.5" y="654.0" font-size="7.0" text-anchor="middle" font-weight="normal" font-style="normal" fill="#222" stroke="#222" stroke-width="0.14">IL-10</text>
<line x1="55.20" y1="650.80" x2="131.70" y2="650.80" stroke="#111" stroke-width="1.1" />
<polygon points="131.2,648.4 135.2,650.8 131.2,653.1999999999999" fill="#111"/>
<text x="151.0" y="512.1" font-size="11" text-anchor="start" font-weight="bold" font-style="normal" fill="#111" stroke="#111" stroke-width="0.14">J</text>
<line x1="193.80" y1="511.70" x2="325.60" y2="511.70" stroke="#555" stroke-width="1.1" />
<text x="337.6" y="513.6" font-size="8.2" text-anchor="middle" font-weight="normal" font-style="normal" fill="#222" stroke="#222" stroke-width="0.14">mLN</text>
<line x1="350.40" y1="511.70" x2="481.90" y2="511.70" stroke="#555" stroke-width="1.1" />
<line x1="186.70" y1="522.50" x2="186.70" y2="592.85" stroke="#111" stroke-width="1.1" />
<line x1="186.15" y1="592.30" x2="233.80" y2="592.30" stroke="#111" stroke-width="1.1" />
<line x1="183.50" y1="592.30" x2="186.70" y2="592.30" stroke="#111" stroke-width="0.9" />
<text x="182.1" y="594.4" font-size="6.0" text-anchor="end" font-weight="normal" font-style="normal" fill="#333" stroke="#333" stroke-width="0.14">0</text>
<line x1="183.50" y1="578.76" x2="186.70" y2="578.76" stroke="#111" stroke-width="0.9" />
<text x="182.1" y="580.86" font-size="6.0" text-anchor="end" font-weight="normal" font-style="normal" fill="#333" stroke="#333" stroke-width="0.14">20</text>
<line x1="183.50" y1="565.22" x2="186.70" y2="565.22" stroke="#111" stroke-width="0.9" />
<text x="182.1" y="567.32" font-size="6.0" text-anchor="end" font-weight="normal" font-style="normal" fill="#333" stroke="#333" stroke-width="0.14">40</text>
<line x1="183.50" y1="551.68" x2="186.70" y2="551.68" stroke="#111" stroke-width="0.9" />
<text x="182.1" y="553.78" font-size="6.0" text-anchor="end" font-weight="normal" font-style="normal" fill="#333" stroke="#333" stroke-width="0.14">60</text>
<line x1="183.50" y1="538.14" x2="186.70" y2="538.14" stroke="#111" stroke-width="0.9" />
<text x="182.1" y="540.24" font-size="6.0" text-anchor="end" font-weight="normal" font-style="normal" fill="#333" stroke="#333" stroke-width="0.14">80</text>
<line x1="183.50" y1="524.60" x2="186.70" y2="524.60" stroke="#111" stroke-width="0.9" />
<text x="182.1" y="526.7" font-size="6.0" text-anchor="end" font-weight="normal" font-style="normal" fill="#333" stroke="#333" stroke-width="0.14">100</text>
<rect x="189.60" y="546.94" width="8.10" height="45.36" fill="#54265e" stroke="#3a1a41" stroke-width="0.6" />
<line x1="193.65" y1="546.94" x2="193.65" y2="542.88" stroke="#111" stroke-width="0.9" />
<line x1="191.22" y1="542.88" x2="196.08" y2="542.88" stroke="#111" stroke-width="1.0" />
<line x1="193.65" y1="592.30" x2="193.65" y2="594.50" stroke="#111" stroke-width="0.9" />
<rect x="200.60" y="547.62" width="8.20" height="44.68" fill="#a8002c" stroke="#75001e" stroke-width="0.6" />
<line x1="204.70" y1="547.62" x2="204.70" y2="544.91" stroke="#111" stroke-width="0.9" />
<line x1="202.24" y1="544.91" x2="207.16" y2="544.91" stroke="#111" stroke-width="1.0" />
<line x1="204.70" y1="592.30" x2="204.70" y2="594.50" stroke="#111" stroke-width="0.9" />
<rect x="211.70" y="540.17" width="8.10" height="52.13" fill="#2d4b7d" stroke="#1f3457" stroke-width="0.6" />
<line x1="215.75" y1="540.17" x2="215.75" y2="536.79" stroke="#111" stroke-width="0.9" />
<line x1="213.32" y1="536.79" x2="218.18" y2="536.79" stroke="#111" stroke-width="1.0" />
<line x1="215.75" y1="592.30" x2="215.75" y2="594.50" stroke="#111" stroke-width="0.9" />
<rect x="222.70" y="544.91" width="8.30" height="47.39" fill="#6aa842" stroke="#4a752e" stroke-width="0.6" />
<line x1="226.85" y1="544.91" x2="226.85" y2="542.20" stroke="#111" stroke-width="0.9" />
<line x1="224.36" y1="542.20" x2="229.34" y2="542.20" stroke="#111" stroke-width="1.0" />
<line x1="226.85" y1="592.30" x2="226.85" y2="594.50" stroke="#111" stroke-width="0.9" />
<text x="194.64999999999998" y="601.3" font-size="6.6" text-anchor="end" font-weight="normal" font-style="normal" fill="#222" stroke="#222" stroke-width="0.14" transform="rotate(-45 194.64999999999998 601.3)">CD11c<tspan dy="-2.97" font-size="4.22">cre</tspan><tspan dy="2.97" font-size="6.6">&#8203;</tspan></text>
<text x="205.7" y="601.3" font-size="6.6" text-anchor="end" font-weight="normal" font-style="normal" fill="#222" stroke="#222" stroke-width="0.14" transform="rotate(-45 205.7 601.3)">CD11c<tspan dy="-2.97" font-size="4.22">cre</tspan><tspan dy="2.97" font-size="6.6">&#8203;</tspan> x IL-6R<tspan dy="-2.97" font-size="4.22">fl</tspan><tspan dy="2.97" font-size="6.6">&#8203;</tspan></text>
<text x="216.75" y="601.3" font-size="6.6" text-anchor="end" font-weight="normal" font-style="normal" fill="#222" stroke="#222" stroke-width="0.14" transform="rotate(-45 216.75 601.3)">CD11c<tspan dy="-2.97" font-size="4.22">cre</tspan><tspan dy="2.97" font-size="6.6">&#8203;</tspan> x IL-6<tspan dy="-2.97" font-size="4.22">fl</tspan><tspan dy="2.97" font-size="6.6">&#8203;</tspan></text>
<text x="227.85" y="601.3" font-size="6.6" text-anchor="end" font-weight="normal" font-style="normal" fill="#222" stroke="#222" stroke-width="0.14" transform="rotate(-45 227.85 601.3)">IL-6<tspan dy="-2.97" font-size="4.22">-/-</tspan><tspan dy="2.97" font-size="6.6">&#8203;</tspan></text>
<text x="163.5" y="558.5" font-size="6.4" text-anchor="middle" font-weight="normal" font-style="normal" fill="#333" stroke="#333" stroke-width="0.14" transform="rotate(-90 163.5 558.5)">% IFNγ<tspan dy="-2.88" font-size="4.10">+</tspan><tspan dy="2.88" font-size="6.4">&#8203;</tspan> in CD4<tspan dy="-2.88" font-size="4.10">+</tspan><tspan dy="2.88" font-size="6.4">&#8203;</tspan> T</text>
<line x1="275.60" y1="522.50" x2="275.60" y2="592.85" stroke="#111" stroke-width="1.1" />
<line x1="275.05" y1="592.30" x2="322.30" y2="592.30" stroke="#111" stroke-width="1.1" />
<line x1="272.40" y1="592.30" x2="275.60" y2="592.30" stroke="#111" stroke-width="0.9" />
<text x="271.0" y="594.4" font-size="6.0" text-anchor="end" font-weight="normal" font-style="normal" fill="#333" stroke="#333" stroke-width="0.14">0</text>
<line x1="272.40" y1="578.76" x2="275.60" y2="578.76" stroke="#111" stroke-width="0.9" />
<text x="271.0" y="580.86" font-size="6.0" text-anchor="end" font-weight="normal" font-style="normal" fill="#333" stroke="#333" stroke-width="0.14">20</text>
<line x1="272.40" y1="565.22" x2="275.60" y2="565.22" stroke="#111" stroke-width="0.9" />
<text x="271.0" y="567.32" font-size="6.0" text-anchor="end" font-weight="normal" font-style="normal" fill="#333" stroke="#333" stroke-width="0.14">40</text>
<line x1="272.40" y1="551.68" x2="275.60" y2="551.68" stroke="#111" stroke-width="0.9" />
<text x="271.0" y="553.78" font-size="6.0" text-anchor="end" font-weight="normal" font-style="normal" fill="#333" stroke="#333" stroke-width="0.14">60</text>
<line x1="272.40" y1="538.14" x2="275.60" y2="538.14" stroke="#111" stroke-width="0.9" />
<text x="271.0" y="540.24" font-size="6.0" text-anchor="end" font-weight="normal" font-style="normal" fill="#333" stroke="#333" stroke-width="0.14">80</text>
<line x1="272.40" y1="524.60" x2="275.60" y2="524.60" stroke="#111" stroke-width="0.9" />
<text x="271.0" y="526.7" font-size="6.0" text-anchor="end" font-weight="normal" font-style="normal" fill="#333" stroke="#333" stroke-width="0.14">100</text>
<rect x="278.00" y="543.56" width="8.20" height="48.74" fill="#54265e" stroke="#3a1a41" stroke-width="0.6" />
<line x1="282.10" y1="543.56" x2="282.10" y2="539.49" stroke="#111" stroke-width="0.9" />
<line x1="279.64" y1="539.49" x2="284.56" y2="539.49" stroke="#111" stroke-width="1.0" />
<line x1="282.10" y1="592.30" x2="282.10" y2="594.50" stroke="#111" stroke-width="0.9" />
<rect x="289.40" y="544.57" width="7.90" height="47.73" fill="#a8002c" stroke="#75001e" stroke-width="0.6" />
<line x1="293.35" y1="544.57" x2="293.35" y2="540.85" stroke="#111" stroke-width="0.9" />
<line x1="290.98" y1="540.85" x2="295.72" y2="540.85" stroke="#111" stroke-width="1.0" />
<line x1="293.35" y1="592.30" x2="293.35" y2="594.50" stroke="#111" stroke-width="0.9" />
<rect x="300.60" y="544.57" width="8.10" height="47.73" fill="#2d4b7d" stroke="#1f3457" stroke-width="0.6" />
<line x1="304.65" y1="544.57" x2="304.65" y2="540.85" stroke="#111" stroke-width="0.9" />
<line x1="302.22" y1="540.85" x2="307.08" y2="540.85" stroke="#111" stroke-width="1.0" />
<line x1="304.65" y1="592.30" x2="304.65" y2="594.50" stroke="#111" stroke-width="0.9" />
<rect x="311.50" y="546.94" width="7.90" height="45.36" fill="#6aa842" stroke="#4a752e" stroke-width="0.6" />
<line x1="315.45" y1="546.94" x2="315.45" y2="544.23" stroke="#111" stroke-width="0.9" />
<line x1="313.08" y1="544.23" x2="317.82" y2="544.23" stroke="#111" stroke-width="1.0" />
<line x1="315.45" y1="592.30" x2="315.45" y2="594.50" stroke="#111" stroke-width="0.9" />
<text x="283.1" y="601.3" font-size="6.6" text-anchor="end" font-weight="normal" font-style="normal" fill="#222" stroke="#222" stroke-width="0.14" transform="rotate(-45 283.1 601.3)">CD11c<tspan dy="-2.97" font-size="4.22">cre</tspan><tspan dy="2.97" font-size="6.6">&#8203;</tspan></text>
<text x="294.35" y="601.3" font-size="6.6" text-anchor="end" font-weight="normal" font-style="normal" fill="#222" stroke="#222" stroke-width="0.14" transform="rotate(-45 294.35 601.3)">CD11c<tspan dy="-2.97" font-size="4.22">cre</tspan><tspan dy="2.97" font-size="6.6">&#8203;</tspan> x IL-6R<tspan dy="-2.97" font-size="4.22">fl</tspan><tspan dy="2.97" font-size="6.6">&#8203;</tspan></text>
<text x="305.65" y="601.3" font-size="6.6" text-anchor="end" font-weight="normal" font-style="normal" fill="#222" stroke="#222" stroke-width="0.14" transform="rotate(-45 305.65 601.3)">CD11c<tspan dy="-2.97" font-size="4.22">cre</tspan><tspan dy="2.97" font-size="6.6">&#8203;</tspan> x IL-6<tspan dy="-2.97" font-size="4.22">fl</tspan><tspan dy="2.97" font-size="6.6">&#8203;</tspan></text>
<text x="316.45" y="601.3" font-size="6.6" text-anchor="end" font-weight="normal" font-style="normal" fill="#222" stroke="#222" stroke-width="0.14" transform="rotate(-45 316.45 601.3)">IL-6<tspan dy="-2.97" font-size="4.22">-/-</tspan><tspan dy="2.97" font-size="6.6">&#8203;</tspan></text>
<text x="252.0" y="558.5" font-size="6.4" text-anchor="middle" font-weight="normal" font-style="normal" fill="#333" stroke="#333" stroke-width="0.14" transform="rotate(-90 252.0 558.5)">% TNF<tspan dy="-2.88" font-size="4.10">+</tspan><tspan dy="2.88" font-size="6.4">&#8203;</tspan> in CD4<tspan dy="-2.88" font-size="4.10">+</tspan><tspan dy="2.88" font-size="6.4">&#8203;</tspan> T</text>
<line x1="360.80" y1="522.50" x2="360.80" y2="592.85" stroke="#111" stroke-width="1.1" />
<line x1="360.25" y1="592.30" x2="407.50" y2="592.30" stroke="#111" stroke-width="1.1" />
<line x1="357.60" y1="592.30" x2="360.80" y2="592.30" stroke="#111" stroke-width="0.9" />
<text x="356.2" y="594.4" font-size="6.0" text-anchor="end" font-weight="normal" font-style="normal" fill="#333" stroke="#333" stroke-width="0.14">0</text>
<line x1="357.60" y1="578.76" x2="360.80" y2="578.76" stroke="#111" stroke-width="0.9" />
<text x="356.2" y="580.86" font-size="6.0" text-anchor="end" font-weight="normal" font-style="normal" fill="#333" stroke="#333" stroke-width="0.14">10</text>
<line x1="357.60" y1="565.22" x2="360.80" y2="565.22" stroke="#111" stroke-width="0.9" />
<text x="356.2" y="567.32" font-size="6.0" text-anchor="end" font-weight="normal" font-style="normal" fill="#333" stroke="#333" stroke-width="0.14">20</text>
<line x1="357.60" y1="551.68" x2="360.80" y2="551.68" stroke="#111" stroke-width="0.9" />
<text x="356.2" y="553.78" font-size="6.0" text-anchor="end" font-weight="normal" font-style="normal" fill="#333" stroke="#333" stroke-width="0.14">30</text>
<line x1="357.60" y1="538.14" x2="360.80" y2="538.14" stroke="#111" stroke-width="0.9" />
<text x="356.2" y="540.24" font-size="6.0" text-anchor="end" font-weight="normal" font-style="normal" fill="#333" stroke="#333" stroke-width="0.14">40</text>
<line x1="357.60" y1="524.60" x2="360.80" y2="524.60" stroke="#111" stroke-width="0.9" />
<text x="356.2" y="526.7" font-size="6.0" text-anchor="end" font-weight="normal" font-style="normal" fill="#333" stroke="#333" stroke-width="0.14">50</text>
<rect x="363.30" y="544.23" width="8.00" height="48.07" fill="#54265e" stroke="#3a1a41" stroke-width="0.6" />
<line x1="367.30" y1="544.23" x2="367.30" y2="539.49" stroke="#111" stroke-width="0.9" />
<line x1="364.90" y1="539.49" x2="369.70" y2="539.49" stroke="#111" stroke-width="1.0" />
<line x1="367.30" y1="592.30" x2="367.30" y2="594.50" stroke="#111" stroke-width="0.9" />
<rect x="374.40" y="540.17" width="8.10" height="52.13" fill="#a8002c" stroke="#75001e" stroke-width="0.6" />
<line x1="378.45" y1="540.17" x2="378.45" y2="535.43" stroke="#111" stroke-width="0.9" />
<line x1="376.02" y1="535.43" x2="380.88" y2="535.43" stroke="#111" stroke-width="1.0" />
<line x1="378.45" y1="592.30" x2="378.45" y2="594.50" stroke="#111" stroke-width="0.9" />
<rect x="385.80" y="538.14" width="7.90" height="54.16" fill="#2d4b7d" stroke="#1f3457" stroke-width="0.6" />
<line x1="389.75" y1="538.14" x2="389.75" y2="534.08" stroke="#111" stroke-width="0.9" />
<line x1="387.38" y1="534.08" x2="392.12" y2="534.08" stroke="#111" stroke-width="1.0" />
<line x1="389.75" y1="592.30" x2="389.75" y2="594.50" stroke="#111" stroke-width="0.9" />
<rect x="397.00" y="542.88" width="7.60" height="49.42" fill="#6aa842" stroke="#4a752e" stroke-width="0.6" />
<line x1="400.80" y1="542.88" x2="400.80" y2="539.49" stroke="#111" stroke-width="0.9" />
<line x1="398.52" y1="539.49" x2="403.08" y2="539.49" stroke="#111" stroke-width="1.0" />
<line x1="400.80" y1="592.30" x2="400.80" y2="594.50" stroke="#111" stroke-width="0.9" />
<text x="368.3" y="601.3" font-size="6.6" text-anchor="end" font-weight="normal" font-style="normal" fill="#222" stroke="#222" stroke-width="0.14" transform="rotate(-45 368.3 601.3)">CD11c<tspan dy="-2.97" font-size="4.22">cre</tspan><tspan dy="2.97" font-size="6.6">&#8203;</tspan></text>
<text x="379.45" y="601.3" font-size="6.6" text-anchor="end" font-weight="normal" font-style="normal" fill="#222" stroke="#222" stroke-width="0.14" transform="rotate(-45 379.45 601.3)">CD11c<tspan dy="-2.97" font-size="4.22">cre</tspan><tspan dy="2.97" font-size="6.6">&#8203;</tspan> x IL-6R<tspan dy="-2.97" font-size="4.22">fl</tspan><tspan dy="2.97" font-size="6.6">&#8203;</tspan></text>
<text x="390.75" y="601.3" font-size="6.6" text-anchor="end" font-weight="normal" font-style="normal" fill="#222" stroke="#222" stroke-width="0.14" transform="rotate(-45 390.75 601.3)">CD11c<tspan dy="-2.97" font-size="4.22">cre</tspan><tspan dy="2.97" font-size="6.6">&#8203;</tspan> x IL-6<tspan dy="-2.97" font-size="4.22">fl</tspan><tspan dy="2.97" font-size="6.6">&#8203;</tspan></text>
<text x="401.8" y="601.3" font-size="6.6" text-anchor="end" font-weight="normal" font-style="normal" fill="#222" stroke="#222" stroke-width="0.14" transform="rotate(-45 401.8 601.3)">IL-6<tspan dy="-2.97" font-size="4.22">-/-</tspan><tspan dy="2.97" font-size="6.6">&#8203;</tspan></text>
<text x="340.5" y="558.5" font-size="6.4" text-anchor="middle" font-weight="normal" font-style="normal" fill="#333" stroke="#333" stroke-width="0.14" transform="rotate(-90 340.5 558.5)">% GM-CSF<tspan dy="-2.88" font-size="4.10">+</tspan><tspan dy="2.88" font-size="6.4">&#8203;</tspan> in CD4<tspan dy="-2.88" font-size="4.10">+</tspan><tspan dy="2.88" font-size="6.4">&#8203;</tspan> T</text>
<line x1="442.20" y1="522.50" x2="442.20" y2="592.85" stroke="#111" stroke-width="1.1" />
<line x1="441.65" y1="592.30" x2="488.70" y2="592.30" stroke="#111" stroke-width="1.1" />
<line x1="439.00" y1="592.30" x2="442.20" y2="592.30" stroke="#111" stroke-width="0.9" />
<text x="437.59999999999997" y="594.4" font-size="6.0" text-anchor="end" font-weight="normal" font-style="normal" fill="#333" stroke="#333" stroke-width="0.14">0</text>
<line x1="439.00" y1="575.30" x2="442.20" y2="575.30" stroke="#111" stroke-width="0.9" />
<text x="437.59999999999997" y="577.4" font-size="6.0" text-anchor="end" font-weight="normal" font-style="normal" fill="#333" stroke="#333" stroke-width="0.14">2</text>
<line x1="439.00" y1="558.30" x2="442.20" y2="558.30" stroke="#111" stroke-width="0.9" />
<text x="437.59999999999997" y="560.4" font-size="6.0" text-anchor="end" font-weight="normal" font-style="normal" fill="#333" stroke="#333" stroke-width="0.14">4</text>
<line x1="439.00" y1="541.30" x2="442.20" y2="541.30" stroke="#111" stroke-width="0.9" />
<text x="437.59999999999997" y="543.4" font-size="6.0" text-anchor="end" font-weight="normal" font-style="normal" fill="#333" stroke="#333" stroke-width="0.14">6</text>
<line x1="439.00" y1="524.30" x2="442.20" y2="524.30" stroke="#111" stroke-width="0.9" />
<text x="437.59999999999997" y="526.4" font-size="6.0" text-anchor="end" font-weight="normal" font-style="normal" fill="#333" stroke="#333" stroke-width="0.14">8</text>
<rect x="444.90" y="558.30" width="8.10" height="34.00" fill="#54265e" stroke="#3a1a41" stroke-width="0.6" />
<line x1="448.95" y1="558.30" x2="448.95" y2="553.20" stroke="#111" stroke-width="0.9" />
<line x1="446.52" y1="553.20" x2="451.38" y2="553.20" stroke="#111" stroke-width="1.0" />
<line x1="448.95" y1="592.30" x2="448.95" y2="594.50" stroke="#111" stroke-width="0.9" />
<rect x="455.90" y="555.75" width="8.10" height="36.55" fill="#a8002c" stroke="#75001e" stroke-width="0.6" />
<line x1="459.95" y1="555.75" x2="459.95" y2="552.35" stroke="#111" stroke-width="0.9" />
<line x1="457.52" y1="552.35" x2="462.38" y2="552.35" stroke="#111" stroke-width="1.0" />
<line x1="459.95" y1="592.30" x2="459.95" y2="594.50" stroke="#111" stroke-width="0.9" />
<rect x="467.10" y="554.05" width="8.10" height="38.25" fill="#2d4b7d" stroke="#1f3457" stroke-width="0.6" />
<line x1="471.15" y1="554.05" x2="471.15" y2="548.95" stroke="#111" stroke-width="0.9" />
<line x1="468.72" y1="548.95" x2="473.58" y2="548.95" stroke="#111" stroke-width="1.0" />
<line x1="471.15" y1="592.30" x2="471.15" y2="594.50" stroke="#111" stroke-width="0.9" />
<rect x="478.10" y="547.67" width="8.10" height="44.62" fill="#6aa842" stroke="#4a752e" stroke-width="0.6" />
<line x1="482.15" y1="547.67" x2="482.15" y2="542.15" stroke="#111" stroke-width="0.9" />
<line x1="479.72" y1="542.15" x2="484.58" y2="542.15" stroke="#111" stroke-width="1.0" />
<line x1="482.15" y1="592.30" x2="482.15" y2="594.50" stroke="#111" stroke-width="0.9" />
<text x="449.95" y="601.3" font-size="6.6" text-anchor="end" font-weight="normal" font-style="normal" fill="#222" stroke="#222" stroke-width="0.14" transform="rotate(-45 449.95 601.3)">CD11c<tspan dy="-2.97" font-size="4.22">cre</tspan><tspan dy="2.97" font-size="6.6">&#8203;</tspan></text>
<text x="460.95" y="601.3" font-size="6.6" text-anchor="end" font-weight="normal" font-style="normal" fill="#222" stroke="#222" stroke-width="0.14" transform="rotate(-45 460.95 601.3)">CD11c<tspan dy="-2.97" font-size="4.22">cre</tspan><tspan dy="2.97" font-size="6.6">&#8203;</tspan> x IL-6R<tspan dy="-2.97" font-size="4.22">fl</tspan><tspan dy="2.97" font-size="6.6">&#8203;</tspan></text>
<text x="472.15" y="601.3" font-size="6.6" text-anchor="end" font-weight="normal" font-style="normal" fill="#222" stroke="#222" stroke-width="0.14" transform="rotate(-45 472.15 601.3)">CD11c<tspan dy="-2.97" font-size="4.22">cre</tspan><tspan dy="2.97" font-size="6.6">&#8203;</tspan> x IL-6<tspan dy="-2.97" font-size="4.22">fl</tspan><tspan dy="2.97" font-size="6.6">&#8203;</tspan></text>
<text x="483.15" y="601.3" font-size="6.6" text-anchor="end" font-weight="normal" font-style="normal" fill="#222" stroke="#222" stroke-width="0.14" transform="rotate(-45 483.15 601.3)">IL-6<tspan dy="-2.97" font-size="4.22">-/-</tspan><tspan dy="2.97" font-size="6.6">&#8203;</tspan></text>
<text x="425.5" y="558.5" font-size="6.4" text-anchor="middle" font-weight="normal" font-style="normal" fill="#333" stroke="#333" stroke-width="0.14" transform="rotate(-90 425.5 558.5)">% IL-10<tspan dy="-2.88" font-size="4.10">+</tspan><tspan dy="2.88" font-size="6.4">&#8203;</tspan> CD4<tspan dy="-2.88" font-size="4.10">+</tspan><tspan dy="2.88" font-size="6.4">&#8203;</tspan> T</text>
<rect x="0.5" y="0.5" width="519" height="661" fill="none" stroke="#000" stroke-width="1"/>
</svg>
</body></html>
